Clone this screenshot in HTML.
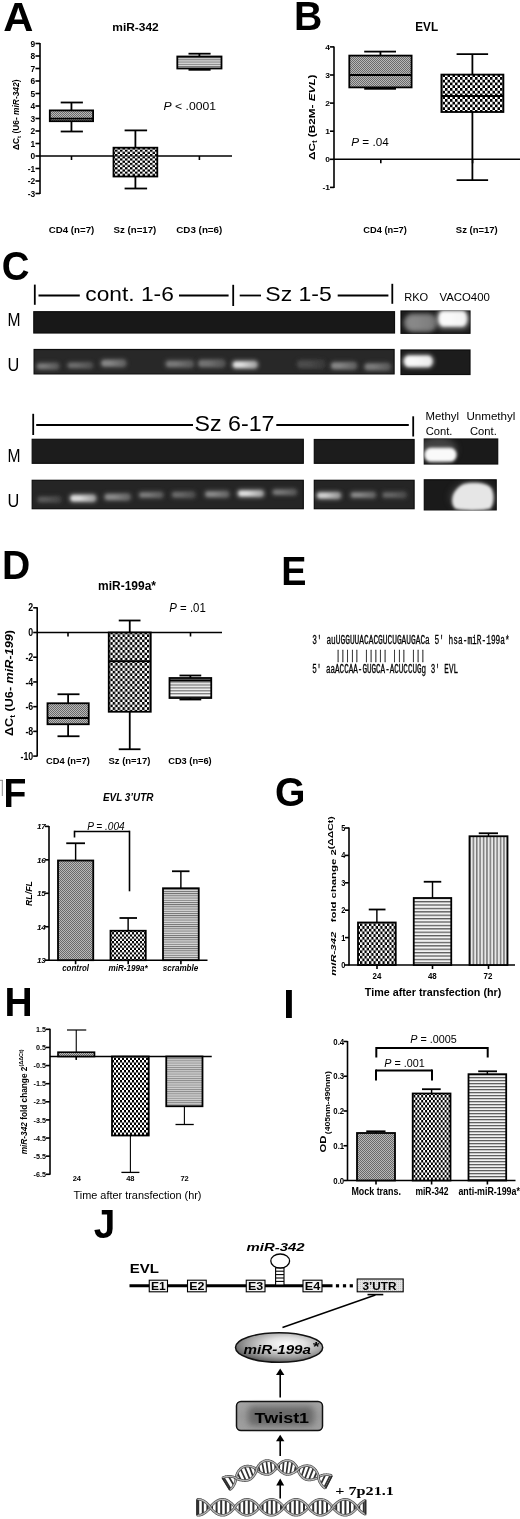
<!DOCTYPE html>
<html><head><meta charset="utf-8"><title>Figure</title>
<style>
html,body{margin:0;padding:0;background:#fff;}
body{width:520px;height:1519px;overflow:hidden;font-family:"Liberation Sans", sans-serif;}
svg{display:block;filter:blur(0.4px);}
</style></head><body>
<svg width="520" height="1519" viewBox="0 0 520 1519">

<defs>
<pattern id="pGray" width="2" height="2" patternUnits="userSpaceOnUse">
  <rect width="2" height="2" fill="#b8b8b8"/><rect width="1" height="1" fill="#6a6a6a"/><rect x="1" y="1" width="1" height="1" fill="#6a6a6a"/>
</pattern>
<pattern id="pChk" width="2.6" height="2.6" patternUnits="userSpaceOnUse">
  <rect width="2.6" height="2.6" fill="#fff"/><rect width="1.3" height="1.3" fill="#000"/><rect x="1.3" y="1.3" width="1.3" height="1.3" fill="#000"/>
</pattern>
<pattern id="pChkA" width="5.0" height="4.4" patternUnits="userSpaceOnUse">
  <rect width="5.0" height="4.4" fill="#fff"/><rect width="2.5" height="2.2" fill="#000"/><rect x="2.5" y="2.2" width="2.5" height="2.2" fill="#000"/>
</pattern>
<pattern id="pChkB" width="5.0" height="5.5" patternUnits="userSpaceOnUse">
  <rect width="5.0" height="5.5" fill="#fff"/><rect width="2.5" height="2.75" fill="#000"/><rect x="2.5" y="2.75" width="2.5" height="2.75" fill="#000"/>
</pattern>
<pattern id="pChkD" width="4.9" height="5.2" patternUnits="userSpaceOnUse">
  <rect width="4.9" height="5.2" fill="#fff"/><rect width="2.45" height="2.6" fill="#000"/><rect x="2.45" y="2.6" width="2.45" height="2.6" fill="#000"/>
</pattern>
<pattern id="pChkF" width="4.0" height="4.46" patternUnits="userSpaceOnUse">
  <rect width="4.0" height="4.46" fill="#fff"/><rect width="2.0" height="2.23" fill="#000"/><rect x="2.0" y="2.23" width="2.0" height="2.23" fill="#000"/>
</pattern>
<pattern id="pChkG" width="4.5" height="5.4" patternUnits="userSpaceOnUse">
  <rect width="4.5" height="5.4" fill="#fff"/><rect width="2.25" height="2.7" fill="#000"/><rect x="2.25" y="2.7" width="2.25" height="2.7" fill="#000"/>
</pattern>
<pattern id="pChkH" width="4.0" height="5.0" patternUnits="userSpaceOnUse">
  <rect width="4.0" height="5.0" fill="#fff"/><rect width="2.0" height="2.5" fill="#000"/><rect x="2.0" y="2.5" width="2.0" height="2.5" fill="#000"/>
</pattern>
<pattern id="pChkI" width="3.9" height="5.0" patternUnits="userSpaceOnUse">
  <rect width="3.9" height="5.0" fill="#fff"/><rect width="1.95" height="2.5" fill="#000"/><rect x="1.95" y="2.5" width="1.95" height="2.5" fill="#000"/>
</pattern>
<pattern id="pHl" width="4" height="2.2" patternUnits="userSpaceOnUse">
  <rect width="4" height="2.2" fill="#dadada"/><rect width="4" height="0.9" fill="#6a6a6a"/>
</pattern>
<pattern id="pHlH" width="4" height="2.2" patternUnits="userSpaceOnUse">
  <rect width="4" height="2.2" fill="#d0d0d0"/><rect width="4" height="0.9" fill="#888"/>
</pattern>
<pattern id="pHlG" width="4" height="3.4" patternUnits="userSpaceOnUse">
  <rect width="4" height="3.4" fill="#f2f2f2"/><rect width="4" height="1.3" fill="#5a5a5a"/>
</pattern>
<pattern id="pHlI" width="4" height="3.0" patternUnits="userSpaceOnUse">
  <rect width="4" height="3.0" fill="#f2f2f2"/><rect width="4" height="1.3" fill="#606060"/>
</pattern>
<pattern id="pHlD" width="4" height="2.9" patternUnits="userSpaceOnUse">
  <rect width="4" height="2.9" fill="#f6f6f6"/><rect width="4" height="1.3" fill="#777"/>
</pattern>
<pattern id="pVl" width="3.4" height="4" patternUnits="userSpaceOnUse">
  <rect width="3.4" height="4" fill="#e8e8e8"/><rect width="1.5" height="4" fill="#7a7a7a"/>
</pattern>
<pattern id="pUtr" width="2" height="2" patternUnits="userSpaceOnUse">
  <rect width="2" height="2" fill="#e4e4e4"/><rect width="1" height="1" fill="#c8c8c8"/>
</pattern>
<filter id="bl1" x="-30%" y="-60%" width="160%" height="220%"><feGaussianBlur stdDeviation="1.35"/></filter>
<filter id="bl2" x="-30%" y="-60%" width="160%" height="220%"><feGaussianBlur stdDeviation="2"/></filter>
<filter id="bl3" x="-50%" y="-80%" width="200%" height="260%"><feGaussianBlur stdDeviation="3"/></filter>
<radialGradient id="gEll" cx="0.58" cy="0.38" r="0.62">
  <stop offset="0" stop-color="#fbfbfb"/><stop offset="0.35" stop-color="#e0e0e0"/><stop offset="0.75" stop-color="#9a9a9a"/><stop offset="1" stop-color="#606060"/>
</radialGradient>
<linearGradient id="gTw" x1="0" y1="0" x2="0" y2="1">
  <stop offset="0" stop-color="#a4a4a4"/><stop offset="0.5" stop-color="#9a9a9a"/><stop offset="1" stop-color="#a0a0a0"/>
</linearGradient>
</defs>

<rect width="520" height="1519" fill="#fff"/>
<text transform="translate(3.16 31.20) scale(1.015 1)" font-family='"Liberation Sans", sans-serif' font-size="41.13" font-weight="bold">A</text>
<text x="135.5" y="30.8" font-family='"Liberation Sans", sans-serif' font-size="11.5" font-weight="bold" font-style="normal" text-anchor="middle" fill="#000" textLength="46.5" lengthAdjust="spacingAndGlyphs">miR-342</text>
<line x1="40" y1="43.0" x2="40" y2="194.0" stroke="#000" stroke-width="1.6"/>
<line x1="35.5" y1="43.5" x2="40" y2="43.5" stroke="#000" stroke-width="1.6"/>
<text x="35.2" y="46.524" font-family='"Liberation Sans", sans-serif' font-size="8.4" font-weight="bold" font-style="normal" text-anchor="end" fill="#000">9</text>
<line x1="35.5" y1="56.0" x2="40" y2="56.0" stroke="#000" stroke-width="1.6"/>
<text x="35.2" y="59.024" font-family='"Liberation Sans", sans-serif' font-size="8.4" font-weight="bold" font-style="normal" text-anchor="end" fill="#000">8</text>
<line x1="35.5" y1="68.5" x2="40" y2="68.5" stroke="#000" stroke-width="1.6"/>
<text x="35.2" y="71.524" font-family='"Liberation Sans", sans-serif' font-size="8.4" font-weight="bold" font-style="normal" text-anchor="end" fill="#000">7</text>
<line x1="35.5" y1="81.0" x2="40" y2="81.0" stroke="#000" stroke-width="1.6"/>
<text x="35.2" y="84.024" font-family='"Liberation Sans", sans-serif' font-size="8.4" font-weight="bold" font-style="normal" text-anchor="end" fill="#000">6</text>
<line x1="35.5" y1="93.5" x2="40" y2="93.5" stroke="#000" stroke-width="1.6"/>
<text x="35.2" y="96.524" font-family='"Liberation Sans", sans-serif' font-size="8.4" font-weight="bold" font-style="normal" text-anchor="end" fill="#000">5</text>
<line x1="35.5" y1="106.0" x2="40" y2="106.0" stroke="#000" stroke-width="1.6"/>
<text x="35.2" y="109.024" font-family='"Liberation Sans", sans-serif' font-size="8.4" font-weight="bold" font-style="normal" text-anchor="end" fill="#000">4</text>
<line x1="35.5" y1="118.5" x2="40" y2="118.5" stroke="#000" stroke-width="1.6"/>
<text x="35.2" y="121.524" font-family='"Liberation Sans", sans-serif' font-size="8.4" font-weight="bold" font-style="normal" text-anchor="end" fill="#000">3</text>
<line x1="35.5" y1="131.0" x2="40" y2="131.0" stroke="#000" stroke-width="1.6"/>
<text x="35.2" y="134.024" font-family='"Liberation Sans", sans-serif' font-size="8.4" font-weight="bold" font-style="normal" text-anchor="end" fill="#000">2</text>
<line x1="35.5" y1="143.5" x2="40" y2="143.5" stroke="#000" stroke-width="1.6"/>
<text x="35.2" y="146.524" font-family='"Liberation Sans", sans-serif' font-size="8.4" font-weight="bold" font-style="normal" text-anchor="end" fill="#000">1</text>
<line x1="35.5" y1="156.0" x2="40" y2="156.0" stroke="#000" stroke-width="1.6"/>
<text x="35.2" y="159.024" font-family='"Liberation Sans", sans-serif' font-size="8.4" font-weight="bold" font-style="normal" text-anchor="end" fill="#000">0</text>
<line x1="35.5" y1="168.5" x2="40" y2="168.5" stroke="#000" stroke-width="1.6"/>
<text x="35.2" y="171.524" font-family='"Liberation Sans", sans-serif' font-size="8.4" font-weight="bold" font-style="normal" text-anchor="end" fill="#000">-1</text>
<line x1="35.5" y1="181.0" x2="40" y2="181.0" stroke="#000" stroke-width="1.6"/>
<text x="35.2" y="184.024" font-family='"Liberation Sans", sans-serif' font-size="8.4" font-weight="bold" font-style="normal" text-anchor="end" fill="#000">-2</text>
<line x1="35.5" y1="193.5" x2="40" y2="193.5" stroke="#000" stroke-width="1.6"/>
<text x="35.2" y="196.524" font-family='"Liberation Sans", sans-serif' font-size="8.4" font-weight="bold" font-style="normal" text-anchor="end" fill="#000">-3</text>
<line x1="40" y1="156.0" x2="232" y2="156.0" stroke="#000" stroke-width="1.6"/>
<line x1="71.5" y1="156.0" x2="71.5" y2="160.0" stroke="#000" stroke-width="1.6"/>
<line x1="135.8" y1="156.0" x2="135.8" y2="160.0" stroke="#000" stroke-width="1.6"/>
<line x1="199.4" y1="156.0" x2="199.4" y2="160.0" stroke="#000" stroke-width="1.6"/>
<line x1="71.44999999999999" y1="102.5" x2="71.44999999999999" y2="110.4" stroke="#000" stroke-width="1.8"/>
<line x1="71.44999999999999" y1="121.2" x2="71.44999999999999" y2="131.5" stroke="#000" stroke-width="1.8"/>
<line x1="60.7" y1="102.5" x2="82.9" y2="102.5" stroke="#000" stroke-width="1.8"/>
<line x1="60.7" y1="131.5" x2="82.9" y2="131.5" stroke="#000" stroke-width="1.8"/>
<rect x="49.8" y="110.4" width="43.3" height="10.799999999999997" fill="url(#pGray)" stroke="#000" stroke-width="1.8"/>
<line x1="49.8" y1="118.6" x2="93.1" y2="118.6" stroke="#000" stroke-width="1.8"/>
<line x1="135.4" y1="130.4" x2="135.4" y2="147.7" stroke="#000" stroke-width="1.8"/>
<line x1="135.4" y1="176.5" x2="135.4" y2="188.5" stroke="#000" stroke-width="1.8"/>
<line x1="124.6" y1="130.4" x2="147.1" y2="130.4" stroke="#000" stroke-width="1.8"/>
<line x1="124.6" y1="188.5" x2="147.1" y2="188.5" stroke="#000" stroke-width="1.8"/>
<rect x="113.5" y="147.7" width="43.80000000000001" height="28.80000000000001" fill="url(#pChkA)" stroke="#000" stroke-width="1.8"/>
<line x1="114" y1="156.0" x2="157" y2="156.0" stroke="#000" stroke-width="1.0" opacity="0.6"/>
<line x1="199.4" y1="53.7" x2="199.4" y2="56.5" stroke="#000" stroke-width="1.8"/>
<line x1="199.4" y1="68.5" x2="199.4" y2="69.8" stroke="#000" stroke-width="1.8"/>
<line x1="188.5" y1="53.7" x2="210.6" y2="53.7" stroke="#000" stroke-width="1.8"/>
<line x1="188.5" y1="69.8" x2="210.6" y2="69.8" stroke="#000" stroke-width="1.8"/>
<rect x="177.3" y="56.5" width="44.19999999999999" height="12.0" fill="url(#pHl)" stroke="#000" stroke-width="1.8"/>
<text x="163.5" y="109.8" font-family='"Liberation Sans", sans-serif' font-size="10.5" font-weight="normal" font-style="normal" text-anchor="start" fill="#000" textLength="52.5" lengthAdjust="spacingAndGlyphs"><tspan font-style="italic">P</tspan> &lt; .0001</text>
<text x="48.8" y="233.4" font-family='"Liberation Sans", sans-serif' font-size="8.4" font-weight="bold" font-style="normal" text-anchor="start" fill="#000" textLength="45.5" lengthAdjust="spacingAndGlyphs">CD4 (n=7)</text>
<text x="113.5" y="233.4" font-family='"Liberation Sans", sans-serif' font-size="8.4" font-weight="bold" font-style="normal" text-anchor="start" fill="#000" textLength="42.8" lengthAdjust="spacingAndGlyphs">Sz (n=17)</text>
<text x="176.3" y="233.4" font-family='"Liberation Sans", sans-serif' font-size="8.4" font-weight="bold" font-style="normal" text-anchor="start" fill="#000" textLength="46" lengthAdjust="spacingAndGlyphs">CD3 (n=6)</text>
<text x="19.2" y="150" font-family='"Liberation Sans", sans-serif' font-size="8.6" font-weight="bold" font-style="normal" text-anchor="start" fill="#000" textLength="70.5" lengthAdjust="spacingAndGlyphs" transform="rotate(-90 19.2 150)">&#916;C<tspan font-size="6" dy="2">t</tspan><tspan dy="-2"> (U6- </tspan><tspan font-style="italic">miR-342</tspan>)</text>
<text transform="translate(293.88 29.80) scale(0.953 1)" font-family='"Liberation Sans", sans-serif' font-size="41.13" font-weight="bold">B</text>
<text x="415.3" y="30.5" font-family='"Liberation Sans", sans-serif' font-size="12" font-weight="bold" font-style="normal" text-anchor="start" fill="#000" textLength="22.8" lengthAdjust="spacingAndGlyphs">EVL</text>
<line x1="334" y1="46.400000000000006" x2="334" y2="187.9" stroke="#000" stroke-width="1.6"/>
<line x1="330" y1="46.900000000000006" x2="334" y2="46.900000000000006" stroke="#000" stroke-width="1.6"/>
<text x="330" y="49.636" font-family='"Liberation Sans", sans-serif' font-size="7.6" font-weight="bold" font-style="normal" text-anchor="end" fill="#000" textLength="4.73" lengthAdjust="spacingAndGlyphs">4</text>
<line x1="330" y1="75.0" x2="334" y2="75.0" stroke="#000" stroke-width="1.6"/>
<text x="330" y="77.736" font-family='"Liberation Sans", sans-serif' font-size="7.6" font-weight="bold" font-style="normal" text-anchor="end" fill="#000" textLength="4.73" lengthAdjust="spacingAndGlyphs">3</text>
<line x1="330" y1="103.10000000000001" x2="334" y2="103.10000000000001" stroke="#000" stroke-width="1.6"/>
<text x="330" y="105.83600000000001" font-family='"Liberation Sans", sans-serif' font-size="7.6" font-weight="bold" font-style="normal" text-anchor="end" fill="#000" textLength="4.73" lengthAdjust="spacingAndGlyphs">2</text>
<line x1="330" y1="131.20000000000002" x2="334" y2="131.20000000000002" stroke="#000" stroke-width="1.6"/>
<text x="330" y="133.936" font-family='"Liberation Sans", sans-serif' font-size="7.6" font-weight="bold" font-style="normal" text-anchor="end" fill="#000" textLength="4.73" lengthAdjust="spacingAndGlyphs">1</text>
<line x1="330" y1="159.3" x2="334" y2="159.3" stroke="#000" stroke-width="1.6"/>
<text x="330" y="162.036" font-family='"Liberation Sans", sans-serif' font-size="7.6" font-weight="bold" font-style="normal" text-anchor="end" fill="#000" textLength="4.73" lengthAdjust="spacingAndGlyphs">0</text>
<line x1="330" y1="187.4" x2="334" y2="187.4" stroke="#000" stroke-width="1.6"/>
<text x="330" y="190.136" font-family='"Liberation Sans", sans-serif' font-size="7.6" font-weight="bold" font-style="normal" text-anchor="end" fill="#000" textLength="7.57" lengthAdjust="spacingAndGlyphs">-1</text>
<line x1="334" y1="159.3" x2="520" y2="159.3" stroke="#000" stroke-width="1.6"/>
<line x1="380.8" y1="159.3" x2="380.8" y2="163.3" stroke="#000" stroke-width="1.6"/>
<line x1="472.6" y1="159.3" x2="472.6" y2="163.3" stroke="#000" stroke-width="1.6"/>
<line x1="380.45000000000005" y1="51.6" x2="380.45000000000005" y2="55.6" stroke="#000" stroke-width="1.8"/>
<line x1="380.45000000000005" y1="87.4" x2="380.45000000000005" y2="88.8" stroke="#000" stroke-width="1.8"/>
<line x1="364.2" y1="51.6" x2="396" y2="51.6" stroke="#000" stroke-width="1.8"/>
<line x1="364.2" y1="88.8" x2="396" y2="88.8" stroke="#000" stroke-width="1.8"/>
<rect x="349.3" y="55.6" width="62.30000000000001" height="31.800000000000004" fill="url(#pGray)" stroke="#000" stroke-width="1.8"/>
<line x1="349.3" y1="75" x2="411.6" y2="75" stroke="#000" stroke-width="1.8"/>
<line x1="472.4" y1="54.2" x2="472.4" y2="74.6" stroke="#000" stroke-width="1.8"/>
<line x1="472.4" y1="112" x2="472.4" y2="180.2" stroke="#000" stroke-width="1.8"/>
<line x1="456.6" y1="54.2" x2="488.1" y2="54.2" stroke="#000" stroke-width="1.8"/>
<line x1="456.6" y1="180.2" x2="488.1" y2="180.2" stroke="#000" stroke-width="1.8"/>
<rect x="441.4" y="74.6" width="62.0" height="37.400000000000006" fill="url(#pChkB)" stroke="#000" stroke-width="1.8"/>
<line x1="441.4" y1="96" x2="503.4" y2="96" stroke="#000" stroke-width="1.8"/>
<text x="351.2" y="146.3" font-family='"Liberation Sans", sans-serif' font-size="11.2" font-weight="normal" font-style="normal" text-anchor="start" fill="#000" textLength="37.5" lengthAdjust="spacingAndGlyphs"><tspan font-style="italic">P</tspan> = .04</text>
<text x="363.3" y="233" font-family='"Liberation Sans", sans-serif' font-size="8.4" font-weight="bold" font-style="normal" text-anchor="start" fill="#000" textLength="43.5" lengthAdjust="spacingAndGlyphs">CD4 (n=7)</text>
<text x="455.8" y="233" font-family='"Liberation Sans", sans-serif' font-size="8.4" font-weight="bold" font-style="normal" text-anchor="start" fill="#000" textLength="42" lengthAdjust="spacingAndGlyphs">Sz (n=17)</text>
<text x="315" y="160" font-family='"Liberation Sans", sans-serif' font-size="9.5" font-weight="bold" font-style="normal" text-anchor="start" fill="#000" textLength="85.5" lengthAdjust="spacingAndGlyphs" transform="rotate(-90 315 160)">&#916;C<tspan font-size="6.5" dy="2">t</tspan><tspan dy="-2"> (B2M- </tspan><tspan font-style="italic">EVL</tspan>)</text>
<text transform="translate(1.63 280.30) scale(0.931 1)" font-family='"Liberation Sans", sans-serif' font-size="41.24" font-weight="bold">C</text>
<line x1="34.8" y1="284.6" x2="34.8" y2="304.8" stroke="#000" stroke-width="1.8"/>
<line x1="38.5" y1="295.5" x2="79.8" y2="295.5" stroke="#000" stroke-width="1.8"/>
<text x="85.3" y="301.1" font-family='"Liberation Sans", sans-serif' font-size="21" font-weight="normal" font-style="normal" text-anchor="start" fill="#000" textLength="88.5" lengthAdjust="spacingAndGlyphs">cont. 1-6</text>
<line x1="179" y1="295.5" x2="228.6" y2="295.5" stroke="#000" stroke-width="1.8"/>
<line x1="233.2" y1="284.8" x2="233.2" y2="306" stroke="#000" stroke-width="1.8"/>
<line x1="239.7" y1="295.5" x2="261" y2="295.5" stroke="#000" stroke-width="1.8"/>
<text x="265.3" y="301.1" font-family='"Liberation Sans", sans-serif' font-size="21" font-weight="normal" font-style="normal" text-anchor="start" fill="#000" textLength="66.5" lengthAdjust="spacingAndGlyphs">Sz 1-5</text>
<line x1="337.7" y1="295.5" x2="388.4" y2="295.5" stroke="#000" stroke-width="1.8"/>
<line x1="392.3" y1="283.8" x2="392.3" y2="303.8" stroke="#000" stroke-width="1.8"/>
<text x="7.6" y="325.5" font-family='"Liberation Sans", sans-serif' font-size="17.5" font-weight="normal" font-style="normal" text-anchor="start" fill="#000" textLength="13" lengthAdjust="spacingAndGlyphs">M</text>
<text x="7.4" y="370.6" font-family='"Liberation Sans", sans-serif' font-size="18.5" font-weight="normal" font-style="normal" text-anchor="start" fill="#000" textLength="11.8" lengthAdjust="spacingAndGlyphs">U</text>
<rect x="33.8" y="311.7" width="360.7" height="21.3" fill="#181818" stroke="#0e0e0e" stroke-width="1.2"/>
<clipPath id="gc1"><rect x="33.3" y="311.2" width="361.7" height="22.3"/></clipPath><g clip-path="url(#gc1)">
</g>
<rect x="34.1" y="349.5" width="360.0" height="24.4" fill="#282828" stroke="#0e0e0e" stroke-width="1.2"/>
<clipPath id="gc2"><rect x="33.6" y="349.0" width="361.0" height="25.4"/></clipPath><g clip-path="url(#gc2)">
<rect x="35.7" y="362.3" width="24.099999999999994" height="7.699999999999989" rx="3.8499999999999943" ry="3.8499999999999943" fill="#7a7a7a" opacity="0.55" filter="url(#bl2)"/>
<linearGradient id="bg107" x1="0" y1="0" x2="1" y2="0"><stop offset="0" stop-color="#7a7a7a"/><stop offset="0.35" stop-color="#7a7a7a"/><stop offset="1" stop-color="#575757"/></linearGradient>
<rect x="37.7" y="363.90000000000003" width="20.099999999999994" height="4.4999999999999885" rx="1.8499999999999943" ry="2.2499999999999942" fill="url(#bg107)" filter="url(#bl1)"/>
<rect x="66.5" y="361.7" width="27.0" height="7.300000000000011" rx="3.6500000000000057" ry="3.6500000000000057" fill="#6e6e6e" opacity="0.55" filter="url(#bl2)"/>
<linearGradient id="bg110" x1="0" y1="0" x2="1" y2="0"><stop offset="0" stop-color="#6e6e6e"/><stop offset="0.35" stop-color="#6e6e6e"/><stop offset="1" stop-color="#4f4f4f"/></linearGradient>
<rect x="68.5" y="363.3" width="23.0" height="4.100000000000011" rx="1.6500000000000057" ry="2.0500000000000056" fill="url(#bg110)" filter="url(#bl1)"/>
<rect x="100" y="359" width="27" height="8.5" rx="4.25" ry="4.25" fill="#858585" opacity="0.55" filter="url(#bl2)"/>
<linearGradient id="bg113" x1="0" y1="0" x2="1" y2="0"><stop offset="0" stop-color="#858585"/><stop offset="0.35" stop-color="#858585"/><stop offset="1" stop-color="#5f5f5f"/></linearGradient>
<rect x="102" y="360.6" width="23" height="5.3" rx="2.25" ry="2.65" fill="url(#bg113)" filter="url(#bl1)"/>
<rect x="164.6" y="359.8" width="29.900000000000006" height="8.199999999999989" rx="4.099999999999994" ry="4.099999999999994" fill="#7a7a7a" opacity="0.55" filter="url(#bl2)"/>
<linearGradient id="bg116" x1="0" y1="0" x2="1" y2="0"><stop offset="0" stop-color="#7a7a7a"/><stop offset="0.35" stop-color="#7a7a7a"/><stop offset="1" stop-color="#575757"/></linearGradient>
<rect x="166.6" y="361.40000000000003" width="25.900000000000006" height="4.9999999999999885" rx="2.0999999999999943" ry="2.4999999999999942" fill="url(#bg116)" filter="url(#bl1)"/>
<rect x="197" y="359" width="29" height="9" rx="4.5" ry="4.5" fill="#727272" opacity="0.55" filter="url(#bl2)"/>
<linearGradient id="bg119" x1="0" y1="0" x2="1" y2="0"><stop offset="0" stop-color="#727272"/><stop offset="0.35" stop-color="#727272"/><stop offset="1" stop-color="#525252"/></linearGradient>
<rect x="199" y="360.6" width="25" height="5.8" rx="2.5" ry="2.9" fill="url(#bg119)" filter="url(#bl1)"/>
<rect x="231.5" y="360.3" width="27.0" height="8.699999999999989" rx="4.349999999999994" ry="4.349999999999994" fill="#e0e0e0" opacity="0.55" filter="url(#bl2)"/>
<linearGradient id="bg122" x1="0" y1="0" x2="1" y2="0"><stop offset="0" stop-color="#e0e0e0"/><stop offset="0.35" stop-color="#e0e0e0"/><stop offset="1" stop-color="#a1a1a1"/></linearGradient>
<rect x="233.5" y="361.90000000000003" width="23.0" height="5.4999999999999885" rx="2.3499999999999943" ry="2.7499999999999942" fill="url(#bg122)" filter="url(#bl1)"/>
<rect x="296" y="359.5" width="30" height="9.5" rx="4.75" ry="4.75" fill="#4c4c4c" opacity="0.55" filter="url(#bl2)"/>
<linearGradient id="bg125" x1="0" y1="0" x2="1" y2="0"><stop offset="0" stop-color="#4c4c4c"/><stop offset="0.35" stop-color="#4c4c4c"/><stop offset="1" stop-color="#363636"/></linearGradient>
<rect x="298" y="361.1" width="26" height="6.3" rx="2.75" ry="3.15" fill="url(#bg125)" filter="url(#bl1)"/>
<rect x="329.8" y="361.5" width="27.899999999999977" height="8.5" rx="4.25" ry="4.25" fill="#858585" opacity="0.55" filter="url(#bl2)"/>
<linearGradient id="bg128" x1="0" y1="0" x2="1" y2="0"><stop offset="0" stop-color="#858585"/><stop offset="0.35" stop-color="#858585"/><stop offset="1" stop-color="#5f5f5f"/></linearGradient>
<rect x="331.8" y="363.1" width="23.899999999999977" height="5.3" rx="2.25" ry="2.65" fill="url(#bg128)" filter="url(#bl1)"/>
<rect x="363.4" y="362.5" width="28.0" height="8.5" rx="4.25" ry="4.25" fill="#7a7a7a" opacity="0.55" filter="url(#bl2)"/>
<linearGradient id="bg131" x1="0" y1="0" x2="1" y2="0"><stop offset="0" stop-color="#7a7a7a"/><stop offset="0.35" stop-color="#7a7a7a"/><stop offset="1" stop-color="#575757"/></linearGradient>
<rect x="365.4" y="364.1" width="24.0" height="5.3" rx="2.25" ry="2.65" fill="url(#bg131)" filter="url(#bl1)"/>
</g>
<rect x="401.0" y="311.0" width="69" height="22.3" fill="#1c1c1c" stroke="#0e0e0e" stroke-width="1.2"/>
<clipPath id="gc3"><rect x="400.5" y="310.5" width="70" height="23.3"/></clipPath><g clip-path="url(#gc3)">
<rect x="403.5" y="313.5" width="34.0" height="18.5" rx="9.25" ry="9.25" fill="#888" opacity="0.55" filter="url(#bl2)"/>
<linearGradient id="bg137" x1="0" y1="0" x2="1" y2="0"><stop offset="0" stop-color="#888"/><stop offset="0.35" stop-color="#888"/><stop offset="1" stop-color="#7a7a7a"/></linearGradient>
<rect x="405.5" y="315.1" width="30.0" height="15.3" rx="7.25" ry="7.65" fill="url(#bg137)" filter="url(#bl2)"/>
<rect x="436" y="309" width="33" height="21" rx="6" fill="#666" opacity="0.6" filter="url(#bl3)"/>
<rect x="437" y="309.8" width="31.5" height="17.69999999999999" rx="6" ry="8.849999999999994" fill="#fafafa" opacity="0.55" filter="url(#bl2)"/>
<linearGradient id="bg141" x1="0" y1="0" x2="1" y2="0"><stop offset="0" stop-color="#fafafa"/><stop offset="0.35" stop-color="#fafafa"/><stop offset="1" stop-color="#f2f2f2"/></linearGradient>
<rect x="439" y="311.40000000000003" width="27.5" height="14.49999999999999" rx="4" ry="7.249999999999995" fill="url(#bg141)" filter="url(#bl1)"/>
</g>
<rect x="401.0" y="350.0" width="69" height="24.5" fill="#1c1c1c" stroke="#0e0e0e" stroke-width="1.2"/>
<clipPath id="gc4"><rect x="400.5" y="349.5" width="70" height="25.5"/></clipPath><g clip-path="url(#gc4)">
<rect x="402.5" y="354.5" width="31.5" height="13.5" rx="6" ry="6.75" fill="#f8f8f8" opacity="0.55" filter="url(#bl2)"/>
<linearGradient id="bg147" x1="0" y1="0" x2="1" y2="0"><stop offset="0" stop-color="#f8f8f8"/><stop offset="0.35" stop-color="#f8f8f8"/><stop offset="1" stop-color="#ebebeb"/></linearGradient>
<rect x="404.5" y="356.1" width="27.5" height="10.3" rx="4" ry="5.15" fill="url(#bg147)" filter="url(#bl1)"/>
</g>
<text x="404.2" y="301.3" font-family='"Liberation Sans", sans-serif' font-size="11.3" font-weight="normal" font-style="normal" text-anchor="start" fill="#000" textLength="24" lengthAdjust="spacingAndGlyphs">RKO</text>
<text x="439.4" y="301.3" font-family='"Liberation Sans", sans-serif' font-size="11.3" font-weight="normal" font-style="normal" text-anchor="start" fill="#000" textLength="50.5" lengthAdjust="spacingAndGlyphs">VACO400</text>
<line x1="33.2" y1="413.8" x2="33.2" y2="435" stroke="#000" stroke-width="1.8"/>
<line x1="36.2" y1="425" x2="193" y2="425" stroke="#000" stroke-width="1.8"/>
<text x="194.5" y="430.8" font-family='"Liberation Sans", sans-serif' font-size="22.5" font-weight="normal" font-style="normal" text-anchor="start" fill="#000" textLength="80" lengthAdjust="spacingAndGlyphs">Sz 6-17</text>
<line x1="276.3" y1="425" x2="408.8" y2="425" stroke="#000" stroke-width="1.8"/>
<line x1="413.2" y1="416.3" x2="413.2" y2="436.5" stroke="#000" stroke-width="1.8"/>
<text x="7.6" y="462.3" font-family='"Liberation Sans", sans-serif' font-size="17.5" font-weight="normal" font-style="normal" text-anchor="start" fill="#000" textLength="13" lengthAdjust="spacingAndGlyphs">M</text>
<text x="7.6" y="506.6" font-family='"Liberation Sans", sans-serif' font-size="18.5" font-weight="normal" font-style="normal" text-anchor="start" fill="#000" textLength="11.8" lengthAdjust="spacingAndGlyphs">U</text>
<rect x="32.2" y="439.3" width="271.1" height="24" fill="#1c1c1c" stroke="#0e0e0e" stroke-width="1.2"/>
<clipPath id="gc5"><rect x="31.7" y="438.8" width="272.1" height="25"/></clipPath><g clip-path="url(#gc5)">
</g>
<rect x="314.3" y="439.5" width="99.8" height="23.8" fill="#1c1c1c" stroke="#0e0e0e" stroke-width="1.2"/>
<clipPath id="gc6"><rect x="313.8" y="439.0" width="100.8" height="24.8"/></clipPath><g clip-path="url(#gc6)">
</g>
<rect x="32.2" y="480.3" width="271.1" height="28.4" fill="#252525" stroke="#0e0e0e" stroke-width="1.2"/>
<clipPath id="gc7"><rect x="31.7" y="479.8" width="272.1" height="29.4"/></clipPath><g clip-path="url(#gc7)">
<rect x="36.5" y="496" width="25.1" height="7" rx="3.5" ry="3.5" fill="#5c5c5c" opacity="0.55" filter="url(#bl2)"/>
<linearGradient id="bg168" x1="0" y1="0" x2="1" y2="0"><stop offset="0" stop-color="#5c5c5c"/><stop offset="0.35" stop-color="#5c5c5c"/><stop offset="1" stop-color="#424242"/></linearGradient>
<rect x="38.5" y="497.6" width="21.1" height="3.8" rx="1.5" ry="1.9" fill="url(#bg168)" filter="url(#bl1)"/>
<rect x="69" y="494" width="28" height="8.5" rx="4.25" ry="4.25" fill="#dcdcdc" opacity="0.55" filter="url(#bl2)"/>
<linearGradient id="bg171" x1="0" y1="0" x2="1" y2="0"><stop offset="0" stop-color="#dcdcdc"/><stop offset="0.35" stop-color="#dcdcdc"/><stop offset="1" stop-color="#9e9e9e"/></linearGradient>
<rect x="71" y="495.6" width="24" height="5.3" rx="2.25" ry="2.65" fill="url(#bg171)" filter="url(#bl1)"/>
<rect x="103.4" y="493" width="28.0" height="8" rx="4.0" ry="4.0" fill="#8a8a8a" opacity="0.55" filter="url(#bl2)"/>
<linearGradient id="bg174" x1="0" y1="0" x2="1" y2="0"><stop offset="0" stop-color="#8a8a8a"/><stop offset="0.35" stop-color="#8a8a8a"/><stop offset="1" stop-color="#636363"/></linearGradient>
<rect x="105.4" y="494.6" width="24.0" height="4.8" rx="2.0" ry="2.4" fill="url(#bg174)" filter="url(#bl1)"/>
<rect x="138" y="491.3" width="26" height="7.199999999999989" rx="3.5999999999999943" ry="3.5999999999999943" fill="#7e7e7e" opacity="0.55" filter="url(#bl2)"/>
<linearGradient id="bg177" x1="0" y1="0" x2="1" y2="0"><stop offset="0" stop-color="#7e7e7e"/><stop offset="0.35" stop-color="#7e7e7e"/><stop offset="1" stop-color="#5a5a5a"/></linearGradient>
<rect x="140" y="492.90000000000003" width="22" height="3.9999999999999885" rx="1.5999999999999943" ry="1.9999999999999942" fill="url(#bg177)" filter="url(#bl1)"/>
<rect x="170.7" y="491" width="25.30000000000001" height="7.5" rx="3.75" ry="3.75" fill="#6a6a6a" opacity="0.55" filter="url(#bl2)"/>
<linearGradient id="bg180" x1="0" y1="0" x2="1" y2="0"><stop offset="0" stop-color="#6a6a6a"/><stop offset="0.35" stop-color="#6a6a6a"/><stop offset="1" stop-color="#4c4c4c"/></linearGradient>
<rect x="172.7" y="492.6" width="21.30000000000001" height="4.3" rx="1.75" ry="2.15" fill="url(#bg180)" filter="url(#bl1)"/>
<rect x="204" y="490.3" width="26" height="7.699999999999989" rx="3.8499999999999943" ry="3.8499999999999943" fill="#8a8a8a" opacity="0.55" filter="url(#bl2)"/>
<linearGradient id="bg183" x1="0" y1="0" x2="1" y2="0"><stop offset="0" stop-color="#8a8a8a"/><stop offset="0.35" stop-color="#8a8a8a"/><stop offset="1" stop-color="#636363"/></linearGradient>
<rect x="206" y="491.90000000000003" width="22" height="4.4999999999999885" rx="1.8499999999999943" ry="2.2499999999999942" fill="url(#bg183)" filter="url(#bl1)"/>
<rect x="236.7" y="489.4" width="28.0" height="8.100000000000023" rx="4.050000000000011" ry="4.050000000000011" fill="#e0e0e0" opacity="0.55" filter="url(#bl2)"/>
<linearGradient id="bg186" x1="0" y1="0" x2="1" y2="0"><stop offset="0" stop-color="#e0e0e0"/><stop offset="0.35" stop-color="#e0e0e0"/><stop offset="1" stop-color="#a1a1a1"/></linearGradient>
<rect x="238.7" y="491.0" width="24.0" height="4.900000000000023" rx="2.0500000000000114" ry="2.4500000000000113" fill="url(#bg186)" filter="url(#bl1)"/>
<rect x="271.5" y="488.6" width="26.0" height="7.199999999999989" rx="3.5999999999999943" ry="3.5999999999999943" fill="#7a7a7a" opacity="0.55" filter="url(#bl2)"/>
<linearGradient id="bg189" x1="0" y1="0" x2="1" y2="0"><stop offset="0" stop-color="#7a7a7a"/><stop offset="0.35" stop-color="#7a7a7a"/><stop offset="1" stop-color="#575757"/></linearGradient>
<rect x="273.5" y="490.20000000000005" width="22.0" height="3.9999999999999885" rx="1.5999999999999943" ry="1.9999999999999942" fill="url(#bg189)" filter="url(#bl1)"/>
</g>
<rect x="314.3" y="480.3" width="99.8" height="28.4" fill="#252525" stroke="#0e0e0e" stroke-width="1.2"/>
<clipPath id="gc8"><rect x="313.8" y="479.8" width="100.8" height="29.4"/></clipPath><g clip-path="url(#gc8)">
<rect x="315.7" y="491.5" width="26.100000000000023" height="8.0" rx="4.0" ry="4.0" fill="#d0d0d0" opacity="0.55" filter="url(#bl2)"/>
<linearGradient id="bg195" x1="0" y1="0" x2="1" y2="0"><stop offset="0" stop-color="#d0d0d0"/><stop offset="0.35" stop-color="#d0d0d0"/><stop offset="1" stop-color="#959595"/></linearGradient>
<rect x="317.7" y="493.1" width="22.100000000000023" height="4.8" rx="2.0" ry="2.4" fill="url(#bg195)" filter="url(#bl1)"/>
<rect x="349.6" y="491.3" width="27.0" height="7.199999999999989" rx="3.5999999999999943" ry="3.5999999999999943" fill="#8a8a8a" opacity="0.55" filter="url(#bl2)"/>
<linearGradient id="bg198" x1="0" y1="0" x2="1" y2="0"><stop offset="0" stop-color="#8a8a8a"/><stop offset="0.35" stop-color="#8a8a8a"/><stop offset="1" stop-color="#636363"/></linearGradient>
<rect x="351.6" y="492.90000000000003" width="23.0" height="3.9999999999999885" rx="1.5999999999999943" ry="1.9999999999999942" fill="url(#bg198)" filter="url(#bl1)"/>
<rect x="381.3" y="491.3" width="26.0" height="7.199999999999989" rx="3.5999999999999943" ry="3.5999999999999943" fill="#666" opacity="0.55" filter="url(#bl2)"/>
<linearGradient id="bg201" x1="0" y1="0" x2="1" y2="0"><stop offset="0" stop-color="#666"/><stop offset="0.35" stop-color="#666"/><stop offset="1" stop-color="#494949"/></linearGradient>
<rect x="383.3" y="492.90000000000003" width="22.0" height="3.9999999999999885" rx="1.5999999999999943" ry="1.9999999999999942" fill="url(#bg201)" filter="url(#bl1)"/>
</g>
<rect x="424.3" y="439.0" width="73.4" height="25" fill="#1a1a1a" stroke="#0e0e0e" stroke-width="1.2"/>
<clipPath id="gc9"><rect x="423.8" y="438.5" width="74.4" height="26"/></clipPath><g clip-path="url(#gc9)">
<ellipse cx="438" cy="450" rx="19" ry="13" fill="#666" opacity="0.55" filter="url(#bl3)"/>
<rect x="424.5" y="447.8" width="32" height="14" rx="6.5" fill="#fafafa" filter="url(#bl1)"/>
</g>
<rect x="424.3" y="479.8" width="71.9" height="30.1" fill="#1a1a1a" stroke="#0e0e0e" stroke-width="1.2"/>
<clipPath id="gc10"><rect x="423.8" y="479.3" width="72.9" height="31.1"/></clipPath><g clip-path="url(#gc10)">
<ellipse cx="473" cy="497" rx="24" ry="16" fill="#555" opacity="0.5" filter="url(#bl3)"/>
<path d="M 467 483.2 C 478 482, 489 483.5, 491.8 489 C 494.5 495, 494 504, 490.5 508.5 C 482 511, 462 511, 455 508.5 C 450.5 504, 451.5 495, 456 490 C 459 486, 462 484, 467 483.2 Z" fill="#e6e6e6" filter="url(#bl1)"/>
</g>
<text x="425.5" y="420.2" font-family='"Liberation Sans", sans-serif' font-size="11" font-weight="normal" font-style="normal" text-anchor="start" fill="#000" textLength="33.5" lengthAdjust="spacingAndGlyphs">Methyl</text>
<text x="425.7" y="435.0" font-family='"Liberation Sans", sans-serif' font-size="11" font-weight="normal" font-style="normal" text-anchor="start" fill="#000" textLength="26.8" lengthAdjust="spacingAndGlyphs">Cont.</text>
<text x="466.4" y="420.2" font-family='"Liberation Sans", sans-serif' font-size="11" font-weight="normal" font-style="normal" text-anchor="start" fill="#000" textLength="49" lengthAdjust="spacingAndGlyphs">Unmethyl</text>
<text x="470.0" y="435.0" font-family='"Liberation Sans", sans-serif' font-size="11" font-weight="normal" font-style="normal" text-anchor="start" fill="#000" textLength="26.8" lengthAdjust="spacingAndGlyphs">Cont.</text>
<text transform="translate(1.88 578.80) scale(0.951 1)" font-family='"Liberation Sans", sans-serif' font-size="41.13" font-weight="bold">D</text>
<text x="98" y="589.8" font-family='"Liberation Sans", sans-serif' font-size="12" font-weight="bold" font-style="normal" text-anchor="start" fill="#000" textLength="58" lengthAdjust="spacingAndGlyphs">miR-199a*</text>
<line x1="37.2" y1="607.28" x2="37.2" y2="756.6" stroke="#000" stroke-width="1.6"/>
<line x1="33.2" y1="607.78" x2="37.2" y2="607.78" stroke="#000" stroke-width="1.6"/>
<text x="33.2" y="611.44" font-family='"Liberation Sans", sans-serif' font-size="11" font-weight="bold" font-style="normal" text-anchor="end" fill="#000" textLength="4.89" lengthAdjust="spacingAndGlyphs">2</text>
<line x1="33.2" y1="632.5" x2="37.2" y2="632.5" stroke="#000" stroke-width="1.6"/>
<text x="33.2" y="636.1600000000001" font-family='"Liberation Sans", sans-serif' font-size="11" font-weight="bold" font-style="normal" text-anchor="end" fill="#000" textLength="4.89" lengthAdjust="spacingAndGlyphs">0</text>
<line x1="33.2" y1="657.22" x2="37.2" y2="657.22" stroke="#000" stroke-width="1.6"/>
<text x="33.2" y="660.8800000000001" font-family='"Liberation Sans", sans-serif' font-size="11" font-weight="bold" font-style="normal" text-anchor="end" fill="#000" textLength="7.82" lengthAdjust="spacingAndGlyphs">-2</text>
<line x1="33.2" y1="681.94" x2="37.2" y2="681.94" stroke="#000" stroke-width="1.6"/>
<text x="33.2" y="685.6000000000001" font-family='"Liberation Sans", sans-serif' font-size="11" font-weight="bold" font-style="normal" text-anchor="end" fill="#000" textLength="7.82" lengthAdjust="spacingAndGlyphs">-4</text>
<line x1="33.2" y1="706.66" x2="37.2" y2="706.66" stroke="#000" stroke-width="1.6"/>
<text x="33.2" y="710.32" font-family='"Liberation Sans", sans-serif' font-size="11" font-weight="bold" font-style="normal" text-anchor="end" fill="#000" textLength="7.82" lengthAdjust="spacingAndGlyphs">-6</text>
<line x1="33.2" y1="731.38" x2="37.2" y2="731.38" stroke="#000" stroke-width="1.6"/>
<text x="33.2" y="735.0400000000001" font-family='"Liberation Sans", sans-serif' font-size="11" font-weight="bold" font-style="normal" text-anchor="end" fill="#000" textLength="7.82" lengthAdjust="spacingAndGlyphs">-8</text>
<line x1="33.2" y1="756.1" x2="37.2" y2="756.1" stroke="#000" stroke-width="1.6"/>
<text x="33.2" y="759.7600000000001" font-family='"Liberation Sans", sans-serif' font-size="11" font-weight="bold" font-style="normal" text-anchor="end" fill="#000" textLength="12.72" lengthAdjust="spacingAndGlyphs">-10</text>
<line x1="37.2" y1="632.5" x2="222" y2="632.5" stroke="#000" stroke-width="1.6"/>
<line x1="68" y1="632.5" x2="68" y2="636.5" stroke="#000" stroke-width="1.6"/>
<line x1="129.7" y1="632.5" x2="129.7" y2="636.5" stroke="#000" stroke-width="1.6"/>
<line x1="190.5" y1="632.5" x2="190.5" y2="636.5" stroke="#000" stroke-width="1.6"/>
<line x1="68.125" y1="694.25" x2="68.125" y2="703.25" stroke="#000" stroke-width="1.8"/>
<line x1="68.125" y1="724.25" x2="68.125" y2="736.25" stroke="#000" stroke-width="1.8"/>
<line x1="57.5" y1="694.25" x2="79.5" y2="694.25" stroke="#000" stroke-width="1.8"/>
<line x1="57.5" y1="736.25" x2="79.5" y2="736.25" stroke="#000" stroke-width="1.8"/>
<rect x="47.5" y="703.25" width="41.25" height="21.0" fill="url(#pGray)" stroke="#000" stroke-width="1.8"/>
<line x1="47.5" y1="718" x2="88.75" y2="718" stroke="#000" stroke-width="1.8"/>
<line x1="129.75" y1="620.5" x2="129.75" y2="632.5" stroke="#000" stroke-width="1.8"/>
<line x1="129.75" y1="711.75" x2="129.75" y2="749.25" stroke="#000" stroke-width="1.8"/>
<line x1="118.75" y1="620.5" x2="140.5" y2="620.5" stroke="#000" stroke-width="1.8"/>
<line x1="118.75" y1="749.25" x2="140.5" y2="749.25" stroke="#000" stroke-width="1.8"/>
<rect x="108.75" y="632.5" width="42.0" height="79.25" fill="url(#pChkD)" stroke="#000" stroke-width="1.8"/>
<line x1="108.75" y1="661.25" x2="150.75" y2="661.25" stroke="#000" stroke-width="1.8"/>
<line x1="190.375" y1="675.5" x2="190.375" y2="678" stroke="#000" stroke-width="1.8"/>
<line x1="190.375" y1="698" x2="190.375" y2="699.5" stroke="#000" stroke-width="1.8"/>
<line x1="179.5" y1="675.5" x2="201.25" y2="675.5" stroke="#000" stroke-width="1.8"/>
<line x1="179.5" y1="699.5" x2="201.25" y2="699.5" stroke="#000" stroke-width="1.8"/>
<rect x="169.5" y="678" width="41.75" height="20" fill="url(#pHlD)" stroke="#000" stroke-width="1.8"/>
<line x1="169.5" y1="680.5" x2="211.25" y2="680.5" stroke="#000" stroke-width="1.8"/>
<text x="169.3" y="612" font-family='"Liberation Sans", sans-serif' font-size="12.5" font-weight="normal" font-style="normal" text-anchor="start" fill="#000" textLength="36.5" lengthAdjust="spacingAndGlyphs"><tspan font-style="italic">P</tspan> = .01</text>
<text x="46" y="763.6" font-family='"Liberation Sans", sans-serif' font-size="9.5" font-weight="bold" font-style="normal" text-anchor="start" fill="#000" textLength="43.8" lengthAdjust="spacingAndGlyphs">CD4 (n=7)</text>
<text x="108.5" y="763.6" font-family='"Liberation Sans", sans-serif' font-size="9.5" font-weight="bold" font-style="normal" text-anchor="start" fill="#000" textLength="41.8" lengthAdjust="spacingAndGlyphs">Sz (n=17)</text>
<text x="168.2" y="763.6" font-family='"Liberation Sans", sans-serif' font-size="9.5" font-weight="bold" font-style="normal" text-anchor="start" fill="#000" textLength="43.5" lengthAdjust="spacingAndGlyphs">CD3 (n=6)</text>
<text x="12.6" y="736" font-family='"Liberation Sans", sans-serif' font-size="10.5" font-weight="bold" font-style="normal" text-anchor="start" fill="#000" textLength="106" lengthAdjust="spacingAndGlyphs" transform="rotate(-90 12.6 736)">&#916;C<tspan font-size="7" dy="2">t</tspan><tspan dy="-2"> (U6- </tspan><tspan font-style="italic">miR-199</tspan>)</text>
<text transform="translate(281.27 585.40) scale(0.919 1)" font-family='"Liberation Sans", sans-serif' font-size="41.13" font-weight="bold">E</text>
<text x="312.3" y="643.8" font-family='"Liberation Mono", monospace' font-size="12" font-weight="normal" font-style="normal" text-anchor="start" fill="#000" textLength="197.4" lengthAdjust="spacingAndGlyphs" stroke="#000" stroke-width="0.3">3' auUGGUUACACGUCUGAUGACa 5' hsa-miR-199a*</text>
<text x="335.8" y="658.8" font-family='"Liberation Mono", monospace' font-size="12.5" font-weight="normal" font-style="normal" text-anchor="start" fill="#000" textLength="89.3" lengthAdjust="spacingAndGlyphs" stroke="#000" stroke-width="0.3">||||| ||||| ||| |||</text>
<text x="312.3" y="673.0" font-family='"Liberation Mono", monospace' font-size="12" font-weight="normal" font-style="normal" text-anchor="start" fill="#000" textLength="145.7" lengthAdjust="spacingAndGlyphs" stroke="#000" stroke-width="0.3">5' aaACCAA-GUGCA-ACUCCUGg 3' EVL</text>
<text transform="translate(3.49 807.30) scale(0.917 1)" font-family='"Liberation Sans", sans-serif' font-size="40.84" font-weight="bold">F</text>
<line x1="2.3" y1="780" x2="2.3" y2="796" stroke="#8a8a8a" stroke-width="1"/>
<line x1="0" y1="780.3" x2="2.8" y2="780.3" stroke="#8a8a8a" stroke-width="1"/>
<text x="103" y="801.3" font-family='"Liberation Sans", sans-serif' font-size="11" font-weight="bold" font-style="italic" text-anchor="start" fill="#000" textLength="50.5" lengthAdjust="spacingAndGlyphs">EVL 3’UTR</text>
<line x1="49" y1="825.9000000000001" x2="49" y2="960.7" stroke="#000" stroke-width="1.6"/>
<line x1="45" y1="826.4000000000001" x2="49" y2="826.4000000000001" stroke="#000" stroke-width="1.6"/>
<text x="45.8" y="829.2800000000001" font-family='"Liberation Sans", sans-serif' font-size="8" font-weight="bold" font-style="italic" text-anchor="end" fill="#000">17</text>
<line x1="45" y1="859.85" x2="49" y2="859.85" stroke="#000" stroke-width="1.6"/>
<text x="45.8" y="862.73" font-family='"Liberation Sans", sans-serif' font-size="8" font-weight="bold" font-style="italic" text-anchor="end" fill="#000">16</text>
<line x1="45" y1="893.3000000000001" x2="49" y2="893.3000000000001" stroke="#000" stroke-width="1.6"/>
<text x="45.8" y="896.1800000000001" font-family='"Liberation Sans", sans-serif' font-size="8" font-weight="bold" font-style="italic" text-anchor="end" fill="#000">15</text>
<line x1="45" y1="926.75" x2="49" y2="926.75" stroke="#000" stroke-width="1.6"/>
<text x="45.8" y="929.63" font-family='"Liberation Sans", sans-serif' font-size="8" font-weight="bold" font-style="italic" text-anchor="end" fill="#000">14</text>
<line x1="45" y1="960.2" x2="49" y2="960.2" stroke="#000" stroke-width="1.6"/>
<text x="45.8" y="963.08" font-family='"Liberation Sans", sans-serif' font-size="8" font-weight="bold" font-style="italic" text-anchor="end" fill="#000">13</text>
<line x1="48.75" y1="960.2" x2="207.5" y2="960.2" stroke="#000" stroke-width="1.6"/>
<line x1="75.6" y1="960.2" x2="75.6" y2="964.2" stroke="#000" stroke-width="1.6"/>
<line x1="128.2" y1="960.2" x2="128.2" y2="964.2" stroke="#000" stroke-width="1.6"/>
<line x1="180.9" y1="960.2" x2="180.9" y2="964.2" stroke="#000" stroke-width="1.6"/>
<line x1="75.625" y1="843.25" x2="75.625" y2="860.5" stroke="#000" stroke-width="1.4400000000000002"/>
<line x1="66.25" y1="843.25" x2="85" y2="843.25" stroke="#000" stroke-width="1.8"/>
<rect x="58" y="860.5" width="35.25" height="99.70000000000005" fill="url(#pGray)" stroke="#000" stroke-width="1.8"/>
<line x1="128.125" y1="918" x2="128.125" y2="930.75" stroke="#000" stroke-width="1.4400000000000002"/>
<line x1="119.5" y1="918" x2="137" y2="918" stroke="#000" stroke-width="1.8"/>
<rect x="110.5" y="930.75" width="35.25" height="29.450000000000045" fill="url(#pChkF)" stroke="#000" stroke-width="1.8"/>
<line x1="180.875" y1="871.25" x2="180.875" y2="888.25" stroke="#000" stroke-width="1.4400000000000002"/>
<line x1="172" y1="871.25" x2="189.5" y2="871.25" stroke="#000" stroke-width="1.8"/>
<rect x="163" y="888.25" width="35.75" height="71.95000000000005" fill="url(#pHl)" stroke="#000" stroke-width="1.8"/>
<line x1="74.5" y1="831.5" x2="129.5" y2="831.5" stroke="#000" stroke-width="1.6"/>
<line x1="74.5" y1="830.7" x2="74.5" y2="837.5" stroke="#000" stroke-width="1.6"/>
<line x1="129.5" y1="830.7" x2="129.5" y2="891.3" stroke="#000" stroke-width="1.6"/>
<text x="87.2" y="829.8" font-family='"Liberation Sans", sans-serif' font-size="10.5" font-weight="normal" font-style="italic" text-anchor="start" fill="#000" textLength="37.5" lengthAdjust="spacingAndGlyphs"><tspan>P</tspan> = .004</text>
<text x="62.2" y="971.3" font-family='"Liberation Sans", sans-serif' font-size="9" font-weight="bold" font-style="italic" text-anchor="start" fill="#000" textLength="26.8" lengthAdjust="spacingAndGlyphs">control</text>
<text x="108.5" y="971.3" font-family='"Liberation Sans", sans-serif' font-size="9" font-weight="bold" font-style="italic" text-anchor="start" fill="#000" textLength="39.2" lengthAdjust="spacingAndGlyphs">miR-199a*</text>
<text x="162.8" y="971.3" font-family='"Liberation Sans", sans-serif' font-size="9" font-weight="bold" font-style="italic" text-anchor="start" fill="#000" textLength="35.5" lengthAdjust="spacingAndGlyphs">scramble</text>
<text x="32.2" y="906" font-family='"Liberation Sans", sans-serif' font-size="8.7" font-weight="bold" font-style="italic" text-anchor="start" fill="#000" textLength="25" lengthAdjust="spacingAndGlyphs" transform="rotate(-90 32.2 906)">RL/FL</text>
<text transform="translate(274.90 805.80) scale(0.949 1)" font-family='"Liberation Sans", sans-serif' font-size="41.24" font-weight="bold">G</text>
<line x1="349" y1="827.5" x2="349" y2="965.5" stroke="#000" stroke-width="1.6"/>
<line x1="345" y1="828.0" x2="349" y2="828.0" stroke="#000" stroke-width="1.6"/>
<text x="345.3" y="831.096" font-family='"Liberation Sans", sans-serif' font-size="8.6" font-weight="bold" font-style="normal" text-anchor="end" fill="#000" textLength="4.11" lengthAdjust="spacingAndGlyphs">5</text>
<line x1="345" y1="855.4" x2="349" y2="855.4" stroke="#000" stroke-width="1.6"/>
<text x="345.3" y="858.496" font-family='"Liberation Sans", sans-serif' font-size="8.6" font-weight="bold" font-style="normal" text-anchor="end" fill="#000" textLength="4.11" lengthAdjust="spacingAndGlyphs">4</text>
<line x1="345" y1="882.8" x2="349" y2="882.8" stroke="#000" stroke-width="1.6"/>
<text x="345.3" y="885.896" font-family='"Liberation Sans", sans-serif' font-size="8.6" font-weight="bold" font-style="normal" text-anchor="end" fill="#000" textLength="4.11" lengthAdjust="spacingAndGlyphs">3</text>
<line x1="345" y1="910.2" x2="349" y2="910.2" stroke="#000" stroke-width="1.6"/>
<text x="345.3" y="913.296" font-family='"Liberation Sans", sans-serif' font-size="8.6" font-weight="bold" font-style="normal" text-anchor="end" fill="#000" textLength="4.11" lengthAdjust="spacingAndGlyphs">2</text>
<line x1="345" y1="937.6" x2="349" y2="937.6" stroke="#000" stroke-width="1.6"/>
<text x="345.3" y="940.696" font-family='"Liberation Sans", sans-serif' font-size="8.6" font-weight="bold" font-style="normal" text-anchor="end" fill="#000" textLength="4.11" lengthAdjust="spacingAndGlyphs">1</text>
<line x1="345" y1="965.0" x2="349" y2="965.0" stroke="#000" stroke-width="1.6"/>
<text x="345.3" y="968.096" font-family='"Liberation Sans", sans-serif' font-size="8.6" font-weight="bold" font-style="normal" text-anchor="end" fill="#000" textLength="4.11" lengthAdjust="spacingAndGlyphs">0</text>
<line x1="349" y1="965" x2="515" y2="965" stroke="#000" stroke-width="1.6"/>
<line x1="377" y1="965" x2="377" y2="969" stroke="#000" stroke-width="1.6"/>
<line x1="432.5" y1="965" x2="432.5" y2="969" stroke="#000" stroke-width="1.6"/>
<line x1="488.5" y1="965" x2="488.5" y2="969" stroke="#000" stroke-width="1.6"/>
<line x1="376.875" y1="909.5" x2="376.875" y2="922.5" stroke="#000" stroke-width="1.4400000000000002"/>
<line x1="368.75" y1="909.5" x2="385.5" y2="909.5" stroke="#000" stroke-width="1.8"/>
<rect x="358" y="922.5" width="37.75" height="42.5" fill="url(#pChkG)" stroke="#000" stroke-width="1.8"/>
<line x1="432.5" y1="881.75" x2="432.5" y2="898" stroke="#000" stroke-width="1.4400000000000002"/>
<line x1="423.75" y1="881.75" x2="441.25" y2="881.75" stroke="#000" stroke-width="1.8"/>
<rect x="413.75" y="898" width="37.5" height="67" fill="url(#pHlG)" stroke="#000" stroke-width="1.8"/>
<line x1="488.5" y1="833.25" x2="488.5" y2="836.25" stroke="#000" stroke-width="1.4400000000000002"/>
<line x1="478.75" y1="833.25" x2="498" y2="833.25" stroke="#000" stroke-width="1.8"/>
<rect x="469.5" y="836.25" width="38.0" height="128.75" fill="url(#pVl)" stroke="#000" stroke-width="1.8"/>
<text x="377" y="978.8" font-family='"Liberation Sans", sans-serif' font-size="9.6" font-weight="bold" font-style="normal" text-anchor="middle" fill="#000" textLength="8.8" lengthAdjust="spacingAndGlyphs">24</text>
<text x="432.3" y="978.8" font-family='"Liberation Sans", sans-serif' font-size="9.6" font-weight="bold" font-style="normal" text-anchor="middle" fill="#000" textLength="8.8" lengthAdjust="spacingAndGlyphs">48</text>
<text x="488" y="978.8" font-family='"Liberation Sans", sans-serif' font-size="9.6" font-weight="bold" font-style="normal" text-anchor="middle" fill="#000" textLength="8.8" lengthAdjust="spacingAndGlyphs">72</text>
<text x="364.8" y="995.6" font-family='"Liberation Sans", sans-serif' font-size="10.6" font-weight="bold" font-style="normal" text-anchor="start" fill="#000" textLength="136.5" lengthAdjust="spacingAndGlyphs">Time after transfection (hr)</text>
<text x="336.1" y="975.8" font-family='"Liberation Sans", sans-serif' font-size="7.8" font-weight="bold" font-style="normal" text-anchor="start" fill="#000" textLength="159.5" lengthAdjust="spacingAndGlyphs" transform="rotate(-90 336.1 975.8)"><tspan font-style="italic">miR-342</tspan>   fold change 2<tspan font-size="7.2" dy="-3.3">(&#916;&#916;Ct)</tspan></text>
<text transform="translate(4.49 1016.00) scale(0.947 1)" font-family='"Liberation Sans", sans-serif' font-size="41.13" font-weight="bold">H</text>
<line x1="50" y1="1028.82" x2="50" y2="1174.78" stroke="#000" stroke-width="1.6"/>
<line x1="46" y1="1029.32" x2="50" y2="1029.32" stroke="#000" stroke-width="1.6"/>
<text x="46" y="1031.912" font-family='"Liberation Sans", sans-serif' font-size="7.2" font-weight="bold" font-style="normal" text-anchor="end" fill="#000">1.5</text>
<line x1="46" y1="1047.44" x2="50" y2="1047.44" stroke="#000" stroke-width="1.6"/>
<text x="46" y="1050.0320000000002" font-family='"Liberation Sans", sans-serif' font-size="7.2" font-weight="bold" font-style="normal" text-anchor="end" fill="#000">0.5</text>
<line x1="46" y1="1065.56" x2="50" y2="1065.56" stroke="#000" stroke-width="1.6"/>
<text x="46" y="1068.152" font-family='"Liberation Sans", sans-serif' font-size="7.2" font-weight="bold" font-style="normal" text-anchor="end" fill="#000">-0.5</text>
<line x1="46" y1="1083.68" x2="50" y2="1083.68" stroke="#000" stroke-width="1.6"/>
<text x="46" y="1086.2720000000002" font-family='"Liberation Sans", sans-serif' font-size="7.2" font-weight="bold" font-style="normal" text-anchor="end" fill="#000">-1.5</text>
<line x1="46" y1="1101.8" x2="50" y2="1101.8" stroke="#000" stroke-width="1.6"/>
<text x="46" y="1104.392" font-family='"Liberation Sans", sans-serif' font-size="7.2" font-weight="bold" font-style="normal" text-anchor="end" fill="#000">-2.5</text>
<line x1="46" y1="1119.92" x2="50" y2="1119.92" stroke="#000" stroke-width="1.6"/>
<text x="46" y="1122.5120000000002" font-family='"Liberation Sans", sans-serif' font-size="7.2" font-weight="bold" font-style="normal" text-anchor="end" fill="#000">-3.5</text>
<line x1="46" y1="1138.04" x2="50" y2="1138.04" stroke="#000" stroke-width="1.6"/>
<text x="46" y="1140.632" font-family='"Liberation Sans", sans-serif' font-size="7.2" font-weight="bold" font-style="normal" text-anchor="end" fill="#000">-4.5</text>
<line x1="46" y1="1156.16" x2="50" y2="1156.16" stroke="#000" stroke-width="1.6"/>
<text x="46" y="1158.7520000000002" font-family='"Liberation Sans", sans-serif' font-size="7.2" font-weight="bold" font-style="normal" text-anchor="end" fill="#000">-5.5</text>
<line x1="46" y1="1174.28" x2="50" y2="1174.28" stroke="#000" stroke-width="1.6"/>
<text x="46" y="1176.872" font-family='"Liberation Sans", sans-serif' font-size="7.2" font-weight="bold" font-style="normal" text-anchor="end" fill="#000">-6.5</text>
<line x1="50" y1="1056.5" x2="211.75" y2="1056.5" stroke="#000" stroke-width="1.6"/>
<line x1="76.25" y1="1056.5" x2="76.25" y2="1060.0" stroke="#000" stroke-width="1.4"/>
<line x1="130.4" y1="1056.5" x2="130.4" y2="1060.0" stroke="#000" stroke-width="1.4"/>
<line x1="184.4" y1="1056.5" x2="184.4" y2="1060.0" stroke="#000" stroke-width="1.4"/>
<rect x="58" y="1052.2" width="36.5" height="4.2999999999999545" fill="url(#pGray)" stroke="#000" stroke-width="1.6"/>
<line x1="76.25" y1="1030" x2="76.25" y2="1052.2" stroke="#000" stroke-width="1.1"/>
<line x1="67" y1="1030" x2="86.25" y2="1030" stroke="#000" stroke-width="1.2"/>
<line x1="76.25" y1="1056.5" x2="76.25" y2="1059.5" stroke="#000" stroke-width="1.1"/>
<rect x="112" y="1056.5" width="36.75" height="79.0" fill="url(#pChkH)" stroke="#000" stroke-width="1.8"/>
<line x1="130.4" y1="1135.5" x2="130.4" y2="1172.4" stroke="#000" stroke-width="1.1"/>
<line x1="121.4" y1="1172.4" x2="139.4" y2="1172.4" stroke="#000" stroke-width="1.3"/>
<rect x="166.25" y="1056.5" width="36.25" height="49.75" fill="url(#pHlH)" stroke="#000" stroke-width="1.8"/>
<line x1="184.4" y1="1106.25" x2="184.4" y2="1124.5" stroke="#000" stroke-width="1.1"/>
<line x1="175.5" y1="1124.5" x2="193.75" y2="1124.5" stroke="#000" stroke-width="1.3"/>
<text x="76.8" y="1180.6" font-family='"Liberation Sans", sans-serif' font-size="7.5" font-weight="bold" font-style="normal" text-anchor="middle" fill="#000">24</text>
<text x="130.3" y="1180.6" font-family='"Liberation Sans", sans-serif' font-size="7.5" font-weight="bold" font-style="normal" text-anchor="middle" fill="#000">48</text>
<text x="184.6" y="1180.6" font-family='"Liberation Sans", sans-serif' font-size="7.5" font-weight="bold" font-style="normal" text-anchor="middle" fill="#000">72</text>
<text x="73.5" y="1198.6" font-family='"Liberation Sans", sans-serif' font-size="10.8" font-weight="normal" font-style="normal" text-anchor="start" fill="#000" textLength="128" lengthAdjust="spacingAndGlyphs">Time after transfection (hr)</text>
<text x="26.8" y="1154.3" font-family='"Liberation Sans", sans-serif' font-size="8.3" font-weight="bold" font-style="normal" text-anchor="start" fill="#000" textLength="105" lengthAdjust="spacingAndGlyphs" transform="rotate(-90 26.8 1154.3)"><tspan font-style="italic">miR-342</tspan> fold change 2<tspan font-size="5.5" dy="-3.5">(&#916;&#916;Ct)</tspan></text>
<text transform="translate(283.36 1017.50) scale(0.996 1)" font-family='"Liberation Sans", sans-serif' font-size="41.13" font-weight="bold">I</text>
<line x1="347.5" y1="1041.0" x2="347.5" y2="1181.0" stroke="#000" stroke-width="1.6"/>
<line x1="343.5" y1="1041.5" x2="347.5" y2="1041.5" stroke="#000" stroke-width="1.6"/>
<text x="344.2" y="1044.56" font-family='"Liberation Sans", sans-serif' font-size="8.5" font-weight="bold" font-style="normal" text-anchor="end" fill="#000" textLength="10.87" lengthAdjust="spacingAndGlyphs">0.4</text>
<line x1="343.5" y1="1076.25" x2="347.5" y2="1076.25" stroke="#000" stroke-width="1.6"/>
<text x="344.2" y="1079.31" font-family='"Liberation Sans", sans-serif' font-size="8.5" font-weight="bold" font-style="normal" text-anchor="end" fill="#000" textLength="10.87" lengthAdjust="spacingAndGlyphs">0.3</text>
<line x1="343.5" y1="1111.0" x2="347.5" y2="1111.0" stroke="#000" stroke-width="1.6"/>
<text x="344.2" y="1114.06" font-family='"Liberation Sans", sans-serif' font-size="8.5" font-weight="bold" font-style="normal" text-anchor="end" fill="#000" textLength="10.87" lengthAdjust="spacingAndGlyphs">0.2</text>
<line x1="343.5" y1="1145.75" x2="347.5" y2="1145.75" stroke="#000" stroke-width="1.6"/>
<text x="344.2" y="1148.81" font-family='"Liberation Sans", sans-serif' font-size="8.5" font-weight="bold" font-style="normal" text-anchor="end" fill="#000" textLength="10.87" lengthAdjust="spacingAndGlyphs">0.1</text>
<line x1="343.5" y1="1180.5" x2="347.5" y2="1180.5" stroke="#000" stroke-width="1.6"/>
<text x="344.2" y="1183.56" font-family='"Liberation Sans", sans-serif' font-size="8.5" font-weight="bold" font-style="normal" text-anchor="end" fill="#000" textLength="10.87" lengthAdjust="spacingAndGlyphs">0.0</text>
<line x1="347.5" y1="1180.5" x2="515.5" y2="1180.5" stroke="#000" stroke-width="1.6"/>
<line x1="376" y1="1180.5" x2="376" y2="1184.5" stroke="#000" stroke-width="1.6"/>
<line x1="431.6" y1="1180.5" x2="431.6" y2="1184.5" stroke="#000" stroke-width="1.6"/>
<line x1="487.4" y1="1180.5" x2="487.4" y2="1184.5" stroke="#000" stroke-width="1.6"/>
<line x1="376.0" y1="1131.3" x2="376.0" y2="1133" stroke="#000" stroke-width="1.4400000000000002"/>
<line x1="366.25" y1="1131.3" x2="385.5" y2="1131.3" stroke="#000" stroke-width="1.8"/>
<rect x="357" y="1133" width="38" height="47.5" fill="url(#pGray)" stroke="#000" stroke-width="1.8"/>
<line x1="431.6" y1="1089.2" x2="431.6" y2="1093.5" stroke="#000" stroke-width="1.4400000000000002"/>
<line x1="422" y1="1089.2" x2="440.7" y2="1089.2" stroke="#000" stroke-width="1.8"/>
<rect x="412.7" y="1093.5" width="37.80000000000001" height="87.0" fill="url(#pChkI)" stroke="#000" stroke-width="1.8"/>
<line x1="487.35" y1="1071.3" x2="487.35" y2="1074.2" stroke="#000" stroke-width="1.4400000000000002"/>
<line x1="478.2" y1="1071.3" x2="497" y2="1071.3" stroke="#000" stroke-width="1.8"/>
<rect x="468.5" y="1074.2" width="37.69999999999999" height="106.29999999999995" fill="url(#pHlI)" stroke="#000" stroke-width="1.8"/>
<line x1="376.3" y1="1048" x2="487.7" y2="1048" stroke="#000" stroke-width="2"/>
<line x1="376.3" y1="1047" x2="376.3" y2="1057.5" stroke="#000" stroke-width="2"/>
<line x1="487.7" y1="1047" x2="487.7" y2="1057.5" stroke="#000" stroke-width="2"/>
<line x1="376" y1="1070.5" x2="432" y2="1070.5" stroke="#000" stroke-width="2"/>
<line x1="376" y1="1069.5" x2="376" y2="1080.6" stroke="#000" stroke-width="2"/>
<line x1="432" y1="1069.5" x2="432" y2="1080.6" stroke="#000" stroke-width="2"/>
<text x="410.2" y="1042.6" font-family='"Liberation Sans", sans-serif' font-size="11.3" font-weight="normal" font-style="normal" text-anchor="start" fill="#000" textLength="46.5" lengthAdjust="spacingAndGlyphs"><tspan font-style="italic">P</tspan> = .0005</text>
<text x="384.2" y="1066.8" font-family='"Liberation Sans", sans-serif' font-size="11.3" font-weight="normal" font-style="normal" text-anchor="start" fill="#000" textLength="40.5" lengthAdjust="spacingAndGlyphs"><tspan font-style="italic">P</tspan> = .001</text>
<text x="351.4" y="1195.1" font-family='"Liberation Sans", sans-serif' font-size="10.4" font-weight="bold" font-style="normal" text-anchor="start" fill="#000" textLength="49.5" lengthAdjust="spacingAndGlyphs">Mock  trans.</text>
<text x="415.4" y="1195.1" font-family='"Liberation Sans", sans-serif' font-size="10.4" font-weight="bold" font-style="normal" text-anchor="start" fill="#000" textLength="33" lengthAdjust="spacingAndGlyphs">miR-342</text>
<text x="458.4" y="1195.1" font-family='"Liberation Sans", sans-serif' font-size="10.4" font-weight="bold" font-style="normal" text-anchor="start" fill="#000" textLength="61.5" lengthAdjust="spacingAndGlyphs">anti-miR-199a*</text>
<text x="326.4" y="1152.6" font-family='"Liberation Sans", sans-serif' font-size="9.8" font-weight="bold" font-style="normal" text-anchor="start" fill="#000" textLength="17" lengthAdjust="spacingAndGlyphs" transform="rotate(-90 326.4 1152.6)">OD</text>
<text x="329.6" y="1134.2" font-family='"Liberation Sans", sans-serif' font-size="7.4" font-weight="bold" font-style="normal" text-anchor="start" fill="#000" textLength="63" lengthAdjust="spacingAndGlyphs" transform="rotate(-90 329.6 1134.2)">(405nm-490nm)</text>
<text transform="translate(93.81 1238.40) scale(0.938 1)" font-family='"Liberation Sans", sans-serif' font-size="41.28" font-weight="bold">J</text>
<text x="129.8" y="1273" font-family='"Liberation Sans", sans-serif' font-size="12" font-weight="bold" font-style="normal" text-anchor="start" fill="#000" textLength="29.2" lengthAdjust="spacingAndGlyphs">EVL</text>
<line x1="129.5" y1="1285.75" x2="332.5" y2="1285.75" stroke="#000" stroke-width="2.8"/>
<rect x="149.25" y="1280.2" width="18.25" height="11.6" fill="#f2f2f2" stroke="#000" stroke-width="1.1"/>
<text x="158.375" y="1290.2" font-family='"Liberation Sans", sans-serif' font-size="10.5" font-weight="bold" font-style="normal" text-anchor="middle" fill="#000" textLength="14.75" lengthAdjust="spacingAndGlyphs">E1</text>
<rect x="187.5" y="1280.2" width="18.75" height="11.6" fill="#f2f2f2" stroke="#000" stroke-width="1.1"/>
<text x="196.875" y="1290.2" font-family='"Liberation Sans", sans-serif' font-size="10.5" font-weight="bold" font-style="normal" text-anchor="middle" fill="#000" textLength="15.25" lengthAdjust="spacingAndGlyphs">E2</text>
<rect x="246.25" y="1280.2" width="18.75" height="11.6" fill="#f2f2f2" stroke="#000" stroke-width="1.1"/>
<text x="255.625" y="1290.2" font-family='"Liberation Sans", sans-serif' font-size="10.5" font-weight="bold" font-style="normal" text-anchor="middle" fill="#000" textLength="15.25" lengthAdjust="spacingAndGlyphs">E3</text>
<rect x="303" y="1280.2" width="19" height="11.6" fill="#f2f2f2" stroke="#000" stroke-width="1.1"/>
<text x="312.5" y="1290.2" font-family='"Liberation Sans", sans-serif' font-size="10.5" font-weight="bold" font-style="normal" text-anchor="middle" fill="#000" textLength="15.5" lengthAdjust="spacingAndGlyphs">E4</text>
<rect x="335.9" y="1284.2" width="3.2" height="3.2" fill="#000" stroke="none" stroke-width="0"/>
<rect x="342.9" y="1284.2" width="3.2" height="3.2" fill="#000" stroke="none" stroke-width="0"/>
<rect x="349.7" y="1284.2" width="3.2" height="3.2" fill="#000" stroke="none" stroke-width="0"/>
<rect x="357.2" y="1279" width="46" height="12.8" fill="url(#pUtr)" stroke="#000" stroke-width="1.1"/>
<text x="362.4" y="1289.8" font-family='"Liberation Sans", sans-serif' font-size="10" font-weight="bold" font-style="normal" text-anchor="start" fill="#000" textLength="34" lengthAdjust="spacingAndGlyphs">3’UTR</text>
<line x1="367.5" y1="1294.6" x2="383.3" y2="1294.6" stroke="#000" stroke-width="1.6"/>
<line x1="375.4" y1="1295" x2="282.5" y2="1327.5" stroke="#000" stroke-width="1.4"/>
<rect x="275.6" y="1267.8" width="8.4" height="17.2" fill="#fff" stroke="#000" stroke-width="1.1"/>
<line x1="275.6" y1="1271.2" x2="284" y2="1271.2" stroke="#000" stroke-width="1.1"/>
<line x1="275.6" y1="1274.6" x2="284" y2="1274.6" stroke="#000" stroke-width="1.1"/>
<line x1="275.6" y1="1278.0" x2="284" y2="1278.0" stroke="#000" stroke-width="1.1"/>
<line x1="275.6" y1="1281.4" x2="284" y2="1281.4" stroke="#000" stroke-width="1.1"/>
<ellipse cx="280.2" cy="1261" rx="9.4" ry="7" fill="#fff" stroke="#000" stroke-width="1.3"/>
<text x="246.6" y="1250.6" font-family='"Liberation Sans", sans-serif' font-size="11.5" font-weight="bold" font-style="italic" text-anchor="start" fill="#000" textLength="58" lengthAdjust="spacingAndGlyphs">miR-342</text>
<ellipse cx="279.1" cy="1347.5" rx="43.6" ry="14.8" fill="url(#gEll)" stroke="#111" stroke-width="1.5"/>
<text x="243.5" y="1353.8" font-family='"Liberation Sans", sans-serif' font-size="13" font-weight="bold" font-style="italic" text-anchor="start" fill="#000" textLength="67.5" lengthAdjust="spacingAndGlyphs">miR-199a</text>
<text x="312.2" y="1350.5" font-family='"Liberation Sans", sans-serif' font-size="12" font-weight="bold" font-style="italic" text-anchor="start" fill="#000" textLength="6.5" lengthAdjust="spacingAndGlyphs">*</text>
<line x1="280.2" y1="1397.5" x2="280.2" y2="1374.5" stroke="#000" stroke-width="1.6"/>
<path d="M 276.0 1375.0 L 280.2 1368.5 L 284.4 1375.0 Z" fill="#000"/>
<rect x="236.5" y="1401.5" width="86" height="29" rx="4.5" fill="url(#gTw)" stroke="#111" stroke-width="1.5"/>
<rect x="248" y="1406" width="66" height="20" rx="5" fill="#5a5a5a" opacity="0.75" filter="url(#bl3)"/>
<text x="254.6" y="1422.6" font-family='"Liberation Sans", sans-serif' font-size="14.5" font-weight="bold" font-style="normal" text-anchor="start" fill="#000" textLength="54.5" lengthAdjust="spacingAndGlyphs">Twist1</text>
<line x1="280.2" y1="1456" x2="280.2" y2="1440.8" stroke="#000" stroke-width="1.6"/>
<path d="M 276.0 1441.3 L 280.2 1434.8 L 284.4 1441.3 Z" fill="#000"/>
<line x1="280.2" y1="1498.5" x2="280.2" y2="1485.0" stroke="#000" stroke-width="1.6"/>
<path d="M 276.2 1485.5 L 280.2 1478.5 L 284.2 1485.5 Z" fill="#000"/>
<clipPath id="dc448"><path d="M 222.3 1477.9 L 222.8 1477.7 L 223.3 1477.5 L 223.7 1477.3 L 224.2 1477.1 L 224.7 1476.9 L 225.3 1476.8 L 225.8 1476.6 L 226.3 1476.5 L 226.9 1476.5 L 227.4 1476.4 L 228.0 1476.4 L 228.6 1476.3 L 229.1 1476.3 L 229.7 1476.4 L 230.3 1476.4 L 230.9 1476.5 L 231.6 1476.6 L 232.2 1476.7 L 232.9 1476.8 L 233.5 1477.0 L 234.2 1477.2 L 234.9 1477.5 L 235.7 1477.9 L 236.0 1477.5 L 236.1 1476.6 L 236.3 1475.9 L 236.5 1475.3 L 236.7 1474.6 L 237.0 1474.0 L 237.2 1473.5 L 237.5 1472.9 L 237.8 1472.4 L 238.1 1471.9 L 238.4 1471.4 L 238.7 1470.9 L 239.1 1470.5 L 239.4 1470.0 L 239.8 1469.6 L 240.1 1469.2 L 240.5 1468.9 L 240.9 1468.5 L 241.3 1468.2 L 241.7 1467.9 L 242.1 1467.6 L 242.6 1467.4 L 243.0 1467.2 L 243.5 1466.9 L 243.9 1466.8 L 244.4 1466.6 L 244.8 1466.5 L 245.3 1466.3 L 245.8 1466.2 L 246.3 1466.2 L 246.8 1466.1 L 247.3 1466.1 L 247.9 1466.1 L 248.4 1466.1 L 248.9 1466.2 L 249.4 1466.2 L 250.0 1466.3 L 250.5 1466.5 L 251.1 1466.6 L 251.6 1466.8 L 252.2 1466.9 L 252.8 1467.2 L 253.3 1467.4 L 253.9 1467.7 L 254.5 1468.0 L 255.1 1468.4 L 255.7 1468.8 L 256.3 1469.3 L 256.7 1469.1 L 256.9 1468.3 L 257.2 1467.7 L 257.5 1467.1 L 257.9 1466.5 L 258.2 1466.0 L 258.5 1465.5 L 258.9 1465.0 L 259.3 1464.6 L 259.7 1464.1 L 260.0 1463.7 L 260.4 1463.4 L 260.8 1463.0 L 261.2 1462.7 L 261.7 1462.4 L 262.1 1462.1 L 262.5 1461.8 L 263.0 1461.6 L 263.4 1461.4 L 263.8 1461.2 L 264.3 1461.0 L 264.7 1460.9 L 265.2 1460.7 L 265.7 1460.6 L 266.1 1460.6 L 266.6 1460.5 L 267.1 1460.5 L 267.6 1460.5 L 268.0 1460.6 L 268.5 1460.6 L 269.0 1460.7 L 269.5 1460.8 L 270.0 1460.9 L 270.4 1461.1 L 270.9 1461.3 L 271.4 1461.5 L 271.9 1461.7 L 272.4 1462.0 L 272.8 1462.2 L 273.3 1462.5 L 273.8 1462.9 L 274.3 1463.2 L 274.7 1463.6 L 275.2 1464.0 L 275.6 1464.5 L 276.1 1465.0 L 276.5 1465.5 L 277.0 1466.2 L 277.4 1466.3 L 277.8 1465.6 L 278.3 1465.0 L 278.7 1464.5 L 279.2 1464.1 L 279.6 1463.6 L 280.1 1463.2 L 280.6 1462.9 L 281.0 1462.6 L 281.5 1462.2 L 282.0 1462.0 L 282.4 1461.7 L 282.9 1461.5 L 283.4 1461.3 L 283.9 1461.1 L 284.4 1460.9 L 284.8 1460.8 L 285.3 1460.7 L 285.8 1460.6 L 286.3 1460.5 L 286.8 1460.5 L 287.2 1460.5 L 287.7 1460.5 L 288.2 1460.5 L 288.6 1460.6 L 289.1 1460.7 L 289.6 1460.8 L 290.0 1460.9 L 290.5 1461.1 L 290.9 1461.2 L 291.3 1461.4 L 291.8 1461.7 L 292.2 1461.9 L 292.6 1462.2 L 293.1 1462.5 L 293.5 1462.8 L 293.9 1463.2 L 294.3 1463.6 L 294.7 1464.0 L 295.0 1464.4 L 295.4 1464.8 L 295.8 1465.3 L 296.1 1465.8 L 296.5 1466.3 L 296.8 1466.8 L 297.1 1467.4 L 297.4 1468.1 L 297.7 1468.8 L 298.1 1469.2 L 298.7 1468.6 L 299.3 1468.1 L 299.8 1467.8 L 300.4 1467.4 L 301.0 1467.1 L 301.5 1466.9 L 302.1 1466.6 L 302.6 1466.4 L 303.2 1466.3 L 303.7 1466.1 L 304.2 1466.0 L 304.8 1465.9 L 305.3 1465.8 L 305.8 1465.7 L 306.3 1465.7 L 306.8 1465.6 L 307.4 1465.6 L 307.8 1465.7 L 308.3 1465.7 L 308.8 1465.8 L 309.3 1465.9 L 309.8 1466.0 L 310.2 1466.1 L 310.7 1466.3 L 311.1 1466.5 L 311.6 1466.7 L 312.0 1466.9 L 312.4 1467.2 L 312.8 1467.5 L 313.2 1467.8 L 313.6 1468.1 L 314.0 1468.4 L 314.4 1468.8 L 314.7 1469.2 L 315.1 1469.6 L 315.4 1470.0 L 315.8 1470.4 L 316.1 1470.9 L 316.4 1471.4 L 316.7 1471.9 L 317.0 1472.4 L 317.3 1473.0 L 317.5 1473.6 L 317.8 1474.2 L 318.0 1474.8 L 318.2 1475.5 L 318.4 1476.3 L 318.7 1476.8 L 319.4 1476.3 L 320.1 1476.0 L 320.7 1475.7 L 321.4 1475.5 L 322.0 1475.3 L 322.6 1475.2 L 323.2 1475.0 L 323.8 1474.9 L 324.4 1474.8 L 324.9 1474.7 L 325.5 1474.7 L 326.1 1474.7 L 326.6 1474.6 L 327.1 1474.7 L 327.7 1474.7 L 328.2 1474.7 L 328.7 1474.8 L 329.2 1474.9 L 329.7 1475.0 L 330.2 1475.1 L 330.6 1475.3 L 331.1 1475.5 L 331.5 1475.7 L 332.0 1475.9 L 325.6 1488.4 L 325.2 1488.1 L 324.8 1487.9 L 324.4 1487.7 L 324.0 1487.4 L 323.6 1487.1 L 323.3 1486.8 L 322.9 1486.4 L 322.6 1486.1 L 322.2 1485.7 L 321.9 1485.3 L 321.6 1484.9 L 321.3 1484.5 L 321.0 1484.0 L 320.7 1483.6 L 320.4 1483.1 L 320.1 1482.6 L 319.8 1482.1 L 319.6 1481.5 L 319.3 1480.9 L 319.1 1480.3 L 318.9 1479.7 L 318.7 1479.1 L 318.5 1478.3 L 318.4 1477.5 L 317.8 1477.6 L 317.1 1478.0 L 316.5 1478.3 L 315.8 1478.6 L 315.2 1478.8 L 314.6 1479.0 L 314.1 1479.2 L 313.5 1479.3 L 312.9 1479.5 L 312.4 1479.6 L 311.9 1479.7 L 311.3 1479.8 L 310.8 1479.9 L 310.3 1479.9 L 309.8 1480.0 L 309.3 1480.0 L 308.9 1480.0 L 308.4 1479.9 L 307.9 1479.9 L 307.5 1479.8 L 307.1 1479.8 L 306.6 1479.7 L 306.2 1479.6 L 305.8 1479.4 L 305.4 1479.3 L 305.0 1479.1 L 304.6 1478.9 L 304.2 1478.7 L 303.9 1478.5 L 303.5 1478.2 L 303.1 1477.9 L 302.8 1477.7 L 302.4 1477.3 L 302.1 1477.0 L 301.8 1476.7 L 301.4 1476.3 L 301.1 1475.9 L 300.8 1475.5 L 300.5 1475.1 L 300.1 1474.6 L 299.8 1474.2 L 299.5 1473.7 L 299.2 1473.2 L 298.9 1472.6 L 298.6 1472.1 L 298.4 1471.5 L 298.1 1470.8 L 297.8 1470.0 L 297.4 1470.1 L 296.8 1470.6 L 296.2 1471.1 L 295.7 1471.4 L 295.2 1471.8 L 294.7 1472.1 L 294.1 1472.4 L 293.7 1472.7 L 293.2 1472.9 L 292.7 1473.2 L 292.2 1473.4 L 291.8 1473.6 L 291.3 1473.7 L 290.9 1473.9 L 290.4 1474.0 L 290.0 1474.2 L 289.6 1474.3 L 289.2 1474.3 L 288.7 1474.4 L 288.3 1474.5 L 287.9 1474.5 L 287.5 1474.5 L 287.1 1474.5 L 286.7 1474.4 L 286.3 1474.4 L 285.9 1474.3 L 285.6 1474.2 L 285.2 1474.1 L 284.8 1474.0 L 284.4 1473.8 L 284.0 1473.6 L 283.7 1473.4 L 283.3 1473.2 L 282.9 1473.0 L 282.5 1472.7 L 282.2 1472.5 L 281.8 1472.2 L 281.4 1471.9 L 281.0 1471.5 L 280.6 1471.2 L 280.2 1470.8 L 279.8 1470.4 L 279.4 1470.0 L 279.0 1469.6 L 278.6 1469.1 L 278.2 1468.6 L 277.8 1468.0 L 277.4 1467.3 L 277.0 1467.3 L 276.6 1468.0 L 276.1 1468.6 L 275.7 1469.1 L 275.3 1469.6 L 274.9 1470.0 L 274.5 1470.5 L 274.2 1470.8 L 273.8 1471.2 L 273.4 1471.6 L 273.0 1471.9 L 272.6 1472.2 L 272.3 1472.5 L 271.9 1472.8 L 271.5 1473.0 L 271.1 1473.3 L 270.8 1473.5 L 270.4 1473.7 L 270.0 1473.9 L 269.6 1474.0 L 269.2 1474.1 L 268.9 1474.3 L 268.5 1474.4 L 268.1 1474.4 L 267.7 1474.5 L 267.3 1474.5 L 266.9 1474.5 L 266.5 1474.5 L 266.1 1474.5 L 265.7 1474.5 L 265.3 1474.4 L 264.9 1474.3 L 264.4 1474.2 L 264.0 1474.1 L 263.6 1474.0 L 263.1 1473.8 L 262.7 1473.7 L 262.2 1473.5 L 261.7 1473.3 L 261.3 1473.0 L 260.8 1472.8 L 260.3 1472.5 L 259.8 1472.2 L 259.2 1471.9 L 258.7 1471.6 L 258.2 1471.2 L 257.6 1470.8 L 257.0 1470.2 L 256.5 1470.3 L 256.3 1471.1 L 256.1 1471.7 L 255.8 1472.3 L 255.5 1472.9 L 255.2 1473.5 L 254.9 1474.0 L 254.6 1474.5 L 254.3 1474.9 L 254.0 1475.4 L 253.7 1475.8 L 253.4 1476.2 L 253.1 1476.6 L 252.8 1477.0 L 252.5 1477.4 L 252.1 1477.7 L 251.8 1478.0 L 251.4 1478.3 L 251.1 1478.6 L 250.7 1478.8 L 250.4 1479.1 L 250.0 1479.3 L 249.6 1479.5 L 249.2 1479.7 L 248.8 1479.9 L 248.4 1480.0 L 248.0 1480.2 L 247.6 1480.3 L 247.1 1480.4 L 246.7 1480.4 L 246.2 1480.5 L 245.8 1480.5 L 245.3 1480.6 L 244.8 1480.6 L 244.3 1480.6 L 243.8 1480.5 L 243.3 1480.5 L 242.7 1480.4 L 242.2 1480.3 L 241.6 1480.2 L 241.1 1480.1 L 240.5 1480.0 L 239.9 1479.9 L 239.3 1479.7 L 238.6 1479.5 L 238.0 1479.3 L 237.3 1479.0 L 236.6 1478.6 L 236.0 1478.6 L 236.0 1479.5 L 235.8 1480.2 L 235.6 1480.9 L 235.4 1481.6 L 235.2 1482.2 L 235.0 1482.8 L 234.8 1483.3 L 234.5 1483.9 L 234.3 1484.4 L 234.0 1484.9 L 233.7 1485.4 L 233.4 1485.9 L 233.2 1486.3 L 232.9 1486.7 L 232.5 1487.2 L 232.2 1487.6 L 231.9 1487.9 L 231.5 1488.3 L 231.2 1488.7 L 230.8 1489.0 L 230.4 1489.3 L 230.1 1489.6 L 229.7 1489.9 Z"/></clipPath>
<path d="M 222.3 1477.9 L 222.8 1477.7 L 223.3 1477.5 L 223.7 1477.3 L 224.2 1477.1 L 224.7 1476.9 L 225.3 1476.8 L 225.8 1476.6 L 226.3 1476.5 L 226.9 1476.5 L 227.4 1476.4 L 228.0 1476.4 L 228.6 1476.3 L 229.1 1476.3 L 229.7 1476.4 L 230.3 1476.4 L 230.9 1476.5 L 231.6 1476.6 L 232.2 1476.7 L 232.9 1476.8 L 233.5 1477.0 L 234.2 1477.2 L 234.9 1477.5 L 235.7 1477.9 L 236.0 1477.5 L 236.1 1476.6 L 236.3 1475.9 L 236.5 1475.3 L 236.7 1474.6 L 237.0 1474.0 L 237.2 1473.5 L 237.5 1472.9 L 237.8 1472.4 L 238.1 1471.9 L 238.4 1471.4 L 238.7 1470.9 L 239.1 1470.5 L 239.4 1470.0 L 239.8 1469.6 L 240.1 1469.2 L 240.5 1468.9 L 240.9 1468.5 L 241.3 1468.2 L 241.7 1467.9 L 242.1 1467.6 L 242.6 1467.4 L 243.0 1467.2 L 243.5 1466.9 L 243.9 1466.8 L 244.4 1466.6 L 244.8 1466.5 L 245.3 1466.3 L 245.8 1466.2 L 246.3 1466.2 L 246.8 1466.1 L 247.3 1466.1 L 247.9 1466.1 L 248.4 1466.1 L 248.9 1466.2 L 249.4 1466.2 L 250.0 1466.3 L 250.5 1466.5 L 251.1 1466.6 L 251.6 1466.8 L 252.2 1466.9 L 252.8 1467.2 L 253.3 1467.4 L 253.9 1467.7 L 254.5 1468.0 L 255.1 1468.4 L 255.7 1468.8 L 256.3 1469.3 L 256.7 1469.1 L 256.9 1468.3 L 257.2 1467.7 L 257.5 1467.1 L 257.9 1466.5 L 258.2 1466.0 L 258.5 1465.5 L 258.9 1465.0 L 259.3 1464.6 L 259.7 1464.1 L 260.0 1463.7 L 260.4 1463.4 L 260.8 1463.0 L 261.2 1462.7 L 261.7 1462.4 L 262.1 1462.1 L 262.5 1461.8 L 263.0 1461.6 L 263.4 1461.4 L 263.8 1461.2 L 264.3 1461.0 L 264.7 1460.9 L 265.2 1460.7 L 265.7 1460.6 L 266.1 1460.6 L 266.6 1460.5 L 267.1 1460.5 L 267.6 1460.5 L 268.0 1460.6 L 268.5 1460.6 L 269.0 1460.7 L 269.5 1460.8 L 270.0 1460.9 L 270.4 1461.1 L 270.9 1461.3 L 271.4 1461.5 L 271.9 1461.7 L 272.4 1462.0 L 272.8 1462.2 L 273.3 1462.5 L 273.8 1462.9 L 274.3 1463.2 L 274.7 1463.6 L 275.2 1464.0 L 275.6 1464.5 L 276.1 1465.0 L 276.5 1465.5 L 277.0 1466.2 L 277.4 1466.3 L 277.8 1465.6 L 278.3 1465.0 L 278.7 1464.5 L 279.2 1464.1 L 279.6 1463.6 L 280.1 1463.2 L 280.6 1462.9 L 281.0 1462.6 L 281.5 1462.2 L 282.0 1462.0 L 282.4 1461.7 L 282.9 1461.5 L 283.4 1461.3 L 283.9 1461.1 L 284.4 1460.9 L 284.8 1460.8 L 285.3 1460.7 L 285.8 1460.6 L 286.3 1460.5 L 286.8 1460.5 L 287.2 1460.5 L 287.7 1460.5 L 288.2 1460.5 L 288.6 1460.6 L 289.1 1460.7 L 289.6 1460.8 L 290.0 1460.9 L 290.5 1461.1 L 290.9 1461.2 L 291.3 1461.4 L 291.8 1461.7 L 292.2 1461.9 L 292.6 1462.2 L 293.1 1462.5 L 293.5 1462.8 L 293.9 1463.2 L 294.3 1463.6 L 294.7 1464.0 L 295.0 1464.4 L 295.4 1464.8 L 295.8 1465.3 L 296.1 1465.8 L 296.5 1466.3 L 296.8 1466.8 L 297.1 1467.4 L 297.4 1468.1 L 297.7 1468.8 L 298.1 1469.2 L 298.7 1468.6 L 299.3 1468.1 L 299.8 1467.8 L 300.4 1467.4 L 301.0 1467.1 L 301.5 1466.9 L 302.1 1466.6 L 302.6 1466.4 L 303.2 1466.3 L 303.7 1466.1 L 304.2 1466.0 L 304.8 1465.9 L 305.3 1465.8 L 305.8 1465.7 L 306.3 1465.7 L 306.8 1465.6 L 307.4 1465.6 L 307.8 1465.7 L 308.3 1465.7 L 308.8 1465.8 L 309.3 1465.9 L 309.8 1466.0 L 310.2 1466.1 L 310.7 1466.3 L 311.1 1466.5 L 311.6 1466.7 L 312.0 1466.9 L 312.4 1467.2 L 312.8 1467.5 L 313.2 1467.8 L 313.6 1468.1 L 314.0 1468.4 L 314.4 1468.8 L 314.7 1469.2 L 315.1 1469.6 L 315.4 1470.0 L 315.8 1470.4 L 316.1 1470.9 L 316.4 1471.4 L 316.7 1471.9 L 317.0 1472.4 L 317.3 1473.0 L 317.5 1473.6 L 317.8 1474.2 L 318.0 1474.8 L 318.2 1475.5 L 318.4 1476.3 L 318.7 1476.8 L 319.4 1476.3 L 320.1 1476.0 L 320.7 1475.7 L 321.4 1475.5 L 322.0 1475.3 L 322.6 1475.2 L 323.2 1475.0 L 323.8 1474.9 L 324.4 1474.8 L 324.9 1474.7 L 325.5 1474.7 L 326.1 1474.7 L 326.6 1474.6 L 327.1 1474.7 L 327.7 1474.7 L 328.2 1474.7 L 328.7 1474.8 L 329.2 1474.9 L 329.7 1475.0 L 330.2 1475.1 L 330.6 1475.3 L 331.1 1475.5 L 331.5 1475.7 L 332.0 1475.9 L 325.6 1488.4 L 325.2 1488.1 L 324.8 1487.9 L 324.4 1487.7 L 324.0 1487.4 L 323.6 1487.1 L 323.3 1486.8 L 322.9 1486.4 L 322.6 1486.1 L 322.2 1485.7 L 321.9 1485.3 L 321.6 1484.9 L 321.3 1484.5 L 321.0 1484.0 L 320.7 1483.6 L 320.4 1483.1 L 320.1 1482.6 L 319.8 1482.1 L 319.6 1481.5 L 319.3 1480.9 L 319.1 1480.3 L 318.9 1479.7 L 318.7 1479.1 L 318.5 1478.3 L 318.4 1477.5 L 317.8 1477.6 L 317.1 1478.0 L 316.5 1478.3 L 315.8 1478.6 L 315.2 1478.8 L 314.6 1479.0 L 314.1 1479.2 L 313.5 1479.3 L 312.9 1479.5 L 312.4 1479.6 L 311.9 1479.7 L 311.3 1479.8 L 310.8 1479.9 L 310.3 1479.9 L 309.8 1480.0 L 309.3 1480.0 L 308.9 1480.0 L 308.4 1479.9 L 307.9 1479.9 L 307.5 1479.8 L 307.1 1479.8 L 306.6 1479.7 L 306.2 1479.6 L 305.8 1479.4 L 305.4 1479.3 L 305.0 1479.1 L 304.6 1478.9 L 304.2 1478.7 L 303.9 1478.5 L 303.5 1478.2 L 303.1 1477.9 L 302.8 1477.7 L 302.4 1477.3 L 302.1 1477.0 L 301.8 1476.7 L 301.4 1476.3 L 301.1 1475.9 L 300.8 1475.5 L 300.5 1475.1 L 300.1 1474.6 L 299.8 1474.2 L 299.5 1473.7 L 299.2 1473.2 L 298.9 1472.6 L 298.6 1472.1 L 298.4 1471.5 L 298.1 1470.8 L 297.8 1470.0 L 297.4 1470.1 L 296.8 1470.6 L 296.2 1471.1 L 295.7 1471.4 L 295.2 1471.8 L 294.7 1472.1 L 294.1 1472.4 L 293.7 1472.7 L 293.2 1472.9 L 292.7 1473.2 L 292.2 1473.4 L 291.8 1473.6 L 291.3 1473.7 L 290.9 1473.9 L 290.4 1474.0 L 290.0 1474.2 L 289.6 1474.3 L 289.2 1474.3 L 288.7 1474.4 L 288.3 1474.5 L 287.9 1474.5 L 287.5 1474.5 L 287.1 1474.5 L 286.7 1474.4 L 286.3 1474.4 L 285.9 1474.3 L 285.6 1474.2 L 285.2 1474.1 L 284.8 1474.0 L 284.4 1473.8 L 284.0 1473.6 L 283.7 1473.4 L 283.3 1473.2 L 282.9 1473.0 L 282.5 1472.7 L 282.2 1472.5 L 281.8 1472.2 L 281.4 1471.9 L 281.0 1471.5 L 280.6 1471.2 L 280.2 1470.8 L 279.8 1470.4 L 279.4 1470.0 L 279.0 1469.6 L 278.6 1469.1 L 278.2 1468.6 L 277.8 1468.0 L 277.4 1467.3 L 277.0 1467.3 L 276.6 1468.0 L 276.1 1468.6 L 275.7 1469.1 L 275.3 1469.6 L 274.9 1470.0 L 274.5 1470.5 L 274.2 1470.8 L 273.8 1471.2 L 273.4 1471.6 L 273.0 1471.9 L 272.6 1472.2 L 272.3 1472.5 L 271.9 1472.8 L 271.5 1473.0 L 271.1 1473.3 L 270.8 1473.5 L 270.4 1473.7 L 270.0 1473.9 L 269.6 1474.0 L 269.2 1474.1 L 268.9 1474.3 L 268.5 1474.4 L 268.1 1474.4 L 267.7 1474.5 L 267.3 1474.5 L 266.9 1474.5 L 266.5 1474.5 L 266.1 1474.5 L 265.7 1474.5 L 265.3 1474.4 L 264.9 1474.3 L 264.4 1474.2 L 264.0 1474.1 L 263.6 1474.0 L 263.1 1473.8 L 262.7 1473.7 L 262.2 1473.5 L 261.7 1473.3 L 261.3 1473.0 L 260.8 1472.8 L 260.3 1472.5 L 259.8 1472.2 L 259.2 1471.9 L 258.7 1471.6 L 258.2 1471.2 L 257.6 1470.8 L 257.0 1470.2 L 256.5 1470.3 L 256.3 1471.1 L 256.1 1471.7 L 255.8 1472.3 L 255.5 1472.9 L 255.2 1473.5 L 254.9 1474.0 L 254.6 1474.5 L 254.3 1474.9 L 254.0 1475.4 L 253.7 1475.8 L 253.4 1476.2 L 253.1 1476.6 L 252.8 1477.0 L 252.5 1477.4 L 252.1 1477.7 L 251.8 1478.0 L 251.4 1478.3 L 251.1 1478.6 L 250.7 1478.8 L 250.4 1479.1 L 250.0 1479.3 L 249.6 1479.5 L 249.2 1479.7 L 248.8 1479.9 L 248.4 1480.0 L 248.0 1480.2 L 247.6 1480.3 L 247.1 1480.4 L 246.7 1480.4 L 246.2 1480.5 L 245.8 1480.5 L 245.3 1480.6 L 244.8 1480.6 L 244.3 1480.6 L 243.8 1480.5 L 243.3 1480.5 L 242.7 1480.4 L 242.2 1480.3 L 241.6 1480.2 L 241.1 1480.1 L 240.5 1480.0 L 239.9 1479.9 L 239.3 1479.7 L 238.6 1479.5 L 238.0 1479.3 L 237.3 1479.0 L 236.6 1478.6 L 236.0 1478.6 L 236.0 1479.5 L 235.8 1480.2 L 235.6 1480.9 L 235.4 1481.6 L 235.2 1482.2 L 235.0 1482.8 L 234.8 1483.3 L 234.5 1483.9 L 234.3 1484.4 L 234.0 1484.9 L 233.7 1485.4 L 233.4 1485.9 L 233.2 1486.3 L 232.9 1486.7 L 232.5 1487.2 L 232.2 1487.6 L 231.9 1487.9 L 231.5 1488.3 L 231.2 1488.7 L 230.8 1489.0 L 230.4 1489.3 L 230.1 1489.6 L 229.7 1489.9 Z" fill="#fff"/>
<g clip-path="url(#dc448)"><line x1="222.5" y1="1475.5" x2="231.9" y2="1490.9" stroke="#303030" stroke-width="1.7"/><line x1="226.7" y1="1473.0" x2="235.7" y2="1488.6" stroke="#303030" stroke-width="1.7"/><line x1="231.0" y1="1470.7" x2="239.4" y2="1486.6" stroke="#303030" stroke-width="1.7"/><line x1="235.2" y1="1468.5" x2="243.2" y2="1484.6" stroke="#303030" stroke-width="1.7"/><line x1="239.5" y1="1466.5" x2="246.9" y2="1482.9" stroke="#303030" stroke-width="1.7"/><line x1="243.8" y1="1464.6" x2="250.6" y2="1481.3" stroke="#303030" stroke-width="1.7"/><line x1="248.2" y1="1463.0" x2="254.2" y2="1479.9" stroke="#303030" stroke-width="1.7"/><line x1="252.6" y1="1461.5" x2="257.8" y2="1478.8" stroke="#303030" stroke-width="1.7"/><line x1="257.0" y1="1460.3" x2="261.4" y2="1477.8" stroke="#303030" stroke-width="1.7"/><line x1="261.5" y1="1459.3" x2="264.9" y2="1477.0" stroke="#303030" stroke-width="1.7"/><line x1="266.0" y1="1458.6" x2="268.4" y2="1476.4" stroke="#303030" stroke-width="1.7"/><line x1="270.4" y1="1458.1" x2="272.0" y2="1476.0" stroke="#303030" stroke-width="1.7"/><line x1="274.9" y1="1457.8" x2="275.5" y2="1475.8" stroke="#303030" stroke-width="1.7"/><line x1="279.4" y1="1457.8" x2="279.0" y2="1475.8" stroke="#303030" stroke-width="1.7"/><line x1="283.9" y1="1458.0" x2="282.5" y2="1476.0" stroke="#303030" stroke-width="1.7"/><line x1="288.4" y1="1458.5" x2="286.0" y2="1476.4" stroke="#303030" stroke-width="1.7"/><line x1="292.8" y1="1459.2" x2="289.6" y2="1476.9" stroke="#303030" stroke-width="1.7"/><line x1="297.2" y1="1460.1" x2="293.2" y2="1477.7" stroke="#303030" stroke-width="1.7"/><line x1="301.6" y1="1461.2" x2="296.8" y2="1478.6" stroke="#303030" stroke-width="1.7"/><line x1="306.0" y1="1462.5" x2="300.4" y2="1479.7" stroke="#303030" stroke-width="1.7"/><line x1="310.3" y1="1464.0" x2="304.1" y2="1480.9" stroke="#303030" stroke-width="1.7"/><line x1="314.5" y1="1465.6" x2="307.9" y2="1482.4" stroke="#303030" stroke-width="1.7"/><line x1="318.8" y1="1467.4" x2="311.6" y2="1483.9" stroke="#303030" stroke-width="1.7"/><line x1="323.0" y1="1469.3" x2="315.4" y2="1485.6" stroke="#303030" stroke-width="1.7"/><line x1="327.1" y1="1471.2" x2="319.3" y2="1487.4" stroke="#303030" stroke-width="1.7"/><line x1="331.2" y1="1473.3" x2="323.2" y2="1489.4" stroke="#303030" stroke-width="1.7"/></g>
<path d="M 222.3 1477.9 L 222.8 1477.7 L 223.3 1477.5 L 223.7 1477.3 L 224.2 1477.1 L 224.7 1476.9 L 225.3 1476.8 L 225.8 1476.6 L 226.3 1476.5 L 226.9 1476.5 L 227.4 1476.4 L 228.0 1476.4 L 228.6 1476.3 L 229.1 1476.3 L 229.7 1476.4 L 230.3 1476.4 L 230.9 1476.5 L 231.6 1476.6 L 232.2 1476.7 L 232.9 1476.8 L 233.5 1477.0 L 234.2 1477.2 L 234.9 1477.5 L 235.7 1477.9 L 236.0 1477.5 L 236.1 1476.6 L 236.3 1475.9 L 236.5 1475.3 L 236.7 1474.6 L 237.0 1474.0 L 237.2 1473.5 L 237.5 1472.9 L 237.8 1472.4 L 238.1 1471.9 L 238.4 1471.4 L 238.7 1470.9 L 239.1 1470.5 L 239.4 1470.0 L 239.8 1469.6 L 240.1 1469.2 L 240.5 1468.9 L 240.9 1468.5 L 241.3 1468.2 L 241.7 1467.9 L 242.1 1467.6 L 242.6 1467.4 L 243.0 1467.2 L 243.5 1466.9 L 243.9 1466.8 L 244.4 1466.6 L 244.8 1466.5 L 245.3 1466.3 L 245.8 1466.2 L 246.3 1466.2 L 246.8 1466.1 L 247.3 1466.1 L 247.9 1466.1 L 248.4 1466.1 L 248.9 1466.2 L 249.4 1466.2 L 250.0 1466.3 L 250.5 1466.5 L 251.1 1466.6 L 251.6 1466.8 L 252.2 1466.9 L 252.8 1467.2 L 253.3 1467.4 L 253.9 1467.7 L 254.5 1468.0 L 255.1 1468.4 L 255.7 1468.8 L 256.3 1469.3 L 256.7 1469.1 L 256.9 1468.3 L 257.2 1467.7 L 257.5 1467.1 L 257.9 1466.5 L 258.2 1466.0 L 258.5 1465.5 L 258.9 1465.0 L 259.3 1464.6 L 259.7 1464.1 L 260.0 1463.7 L 260.4 1463.4 L 260.8 1463.0 L 261.2 1462.7 L 261.7 1462.4 L 262.1 1462.1 L 262.5 1461.8 L 263.0 1461.6 L 263.4 1461.4 L 263.8 1461.2 L 264.3 1461.0 L 264.7 1460.9 L 265.2 1460.7 L 265.7 1460.6 L 266.1 1460.6 L 266.6 1460.5 L 267.1 1460.5 L 267.6 1460.5 L 268.0 1460.6 L 268.5 1460.6 L 269.0 1460.7 L 269.5 1460.8 L 270.0 1460.9 L 270.4 1461.1 L 270.9 1461.3 L 271.4 1461.5 L 271.9 1461.7 L 272.4 1462.0 L 272.8 1462.2 L 273.3 1462.5 L 273.8 1462.9 L 274.3 1463.2 L 274.7 1463.6 L 275.2 1464.0 L 275.6 1464.5 L 276.1 1465.0 L 276.5 1465.5 L 277.0 1466.2 L 277.4 1466.3 L 277.8 1465.6 L 278.3 1465.0 L 278.7 1464.5 L 279.2 1464.1 L 279.6 1463.6 L 280.1 1463.2 L 280.6 1462.9 L 281.0 1462.6 L 281.5 1462.2 L 282.0 1462.0 L 282.4 1461.7 L 282.9 1461.5 L 283.4 1461.3 L 283.9 1461.1 L 284.4 1460.9 L 284.8 1460.8 L 285.3 1460.7 L 285.8 1460.6 L 286.3 1460.5 L 286.8 1460.5 L 287.2 1460.5 L 287.7 1460.5 L 288.2 1460.5 L 288.6 1460.6 L 289.1 1460.7 L 289.6 1460.8 L 290.0 1460.9 L 290.5 1461.1 L 290.9 1461.2 L 291.3 1461.4 L 291.8 1461.7 L 292.2 1461.9 L 292.6 1462.2 L 293.1 1462.5 L 293.5 1462.8 L 293.9 1463.2 L 294.3 1463.6 L 294.7 1464.0 L 295.0 1464.4 L 295.4 1464.8 L 295.8 1465.3 L 296.1 1465.8 L 296.5 1466.3 L 296.8 1466.8 L 297.1 1467.4 L 297.4 1468.1 L 297.7 1468.8 L 298.1 1469.2 L 298.7 1468.6 L 299.3 1468.1 L 299.8 1467.8 L 300.4 1467.4 L 301.0 1467.1 L 301.5 1466.9 L 302.1 1466.6 L 302.6 1466.4 L 303.2 1466.3 L 303.7 1466.1 L 304.2 1466.0 L 304.8 1465.9 L 305.3 1465.8 L 305.8 1465.7 L 306.3 1465.7 L 306.8 1465.6 L 307.4 1465.6 L 307.8 1465.7 L 308.3 1465.7 L 308.8 1465.8 L 309.3 1465.9 L 309.8 1466.0 L 310.2 1466.1 L 310.7 1466.3 L 311.1 1466.5 L 311.6 1466.7 L 312.0 1466.9 L 312.4 1467.2 L 312.8 1467.5 L 313.2 1467.8 L 313.6 1468.1 L 314.0 1468.4 L 314.4 1468.8 L 314.7 1469.2 L 315.1 1469.6 L 315.4 1470.0 L 315.8 1470.4 L 316.1 1470.9 L 316.4 1471.4 L 316.7 1471.9 L 317.0 1472.4 L 317.3 1473.0 L 317.5 1473.6 L 317.8 1474.2 L 318.0 1474.8 L 318.2 1475.5 L 318.4 1476.3 L 318.7 1476.8 L 319.4 1476.3 L 320.1 1476.0 L 320.7 1475.7 L 321.4 1475.5 L 322.0 1475.3 L 322.6 1475.2 L 323.2 1475.0 L 323.8 1474.9 L 324.4 1474.8 L 324.9 1474.7 L 325.5 1474.7 L 326.1 1474.7 L 326.6 1474.6 L 327.1 1474.7 L 327.7 1474.7 L 328.2 1474.7 L 328.7 1474.8 L 329.2 1474.9 L 329.7 1475.0 L 330.2 1475.1 L 330.6 1475.3 L 331.1 1475.5 L 331.5 1475.7 L 332.0 1475.9 L 325.6 1488.4 L 325.2 1488.1 L 324.8 1487.9 L 324.4 1487.7 L 324.0 1487.4 L 323.6 1487.1 L 323.3 1486.8 L 322.9 1486.4 L 322.6 1486.1 L 322.2 1485.7 L 321.9 1485.3 L 321.6 1484.9 L 321.3 1484.5 L 321.0 1484.0 L 320.7 1483.6 L 320.4 1483.1 L 320.1 1482.6 L 319.8 1482.1 L 319.6 1481.5 L 319.3 1480.9 L 319.1 1480.3 L 318.9 1479.7 L 318.7 1479.1 L 318.5 1478.3 L 318.4 1477.5 L 317.8 1477.6 L 317.1 1478.0 L 316.5 1478.3 L 315.8 1478.6 L 315.2 1478.8 L 314.6 1479.0 L 314.1 1479.2 L 313.5 1479.3 L 312.9 1479.5 L 312.4 1479.6 L 311.9 1479.7 L 311.3 1479.8 L 310.8 1479.9 L 310.3 1479.9 L 309.8 1480.0 L 309.3 1480.0 L 308.9 1480.0 L 308.4 1479.9 L 307.9 1479.9 L 307.5 1479.8 L 307.1 1479.8 L 306.6 1479.7 L 306.2 1479.6 L 305.8 1479.4 L 305.4 1479.3 L 305.0 1479.1 L 304.6 1478.9 L 304.2 1478.7 L 303.9 1478.5 L 303.5 1478.2 L 303.1 1477.9 L 302.8 1477.7 L 302.4 1477.3 L 302.1 1477.0 L 301.8 1476.7 L 301.4 1476.3 L 301.1 1475.9 L 300.8 1475.5 L 300.5 1475.1 L 300.1 1474.6 L 299.8 1474.2 L 299.5 1473.7 L 299.2 1473.2 L 298.9 1472.6 L 298.6 1472.1 L 298.4 1471.5 L 298.1 1470.8 L 297.8 1470.0 L 297.4 1470.1 L 296.8 1470.6 L 296.2 1471.1 L 295.7 1471.4 L 295.2 1471.8 L 294.7 1472.1 L 294.1 1472.4 L 293.7 1472.7 L 293.2 1472.9 L 292.7 1473.2 L 292.2 1473.4 L 291.8 1473.6 L 291.3 1473.7 L 290.9 1473.9 L 290.4 1474.0 L 290.0 1474.2 L 289.6 1474.3 L 289.2 1474.3 L 288.7 1474.4 L 288.3 1474.5 L 287.9 1474.5 L 287.5 1474.5 L 287.1 1474.5 L 286.7 1474.4 L 286.3 1474.4 L 285.9 1474.3 L 285.6 1474.2 L 285.2 1474.1 L 284.8 1474.0 L 284.4 1473.8 L 284.0 1473.6 L 283.7 1473.4 L 283.3 1473.2 L 282.9 1473.0 L 282.5 1472.7 L 282.2 1472.5 L 281.8 1472.2 L 281.4 1471.9 L 281.0 1471.5 L 280.6 1471.2 L 280.2 1470.8 L 279.8 1470.4 L 279.4 1470.0 L 279.0 1469.6 L 278.6 1469.1 L 278.2 1468.6 L 277.8 1468.0 L 277.4 1467.3 L 277.0 1467.3 L 276.6 1468.0 L 276.1 1468.6 L 275.7 1469.1 L 275.3 1469.6 L 274.9 1470.0 L 274.5 1470.5 L 274.2 1470.8 L 273.8 1471.2 L 273.4 1471.6 L 273.0 1471.9 L 272.6 1472.2 L 272.3 1472.5 L 271.9 1472.8 L 271.5 1473.0 L 271.1 1473.3 L 270.8 1473.5 L 270.4 1473.7 L 270.0 1473.9 L 269.6 1474.0 L 269.2 1474.1 L 268.9 1474.3 L 268.5 1474.4 L 268.1 1474.4 L 267.7 1474.5 L 267.3 1474.5 L 266.9 1474.5 L 266.5 1474.5 L 266.1 1474.5 L 265.7 1474.5 L 265.3 1474.4 L 264.9 1474.3 L 264.4 1474.2 L 264.0 1474.1 L 263.6 1474.0 L 263.1 1473.8 L 262.7 1473.7 L 262.2 1473.5 L 261.7 1473.3 L 261.3 1473.0 L 260.8 1472.8 L 260.3 1472.5 L 259.8 1472.2 L 259.2 1471.9 L 258.7 1471.6 L 258.2 1471.2 L 257.6 1470.8 L 257.0 1470.2 L 256.5 1470.3 L 256.3 1471.1 L 256.1 1471.7 L 255.8 1472.3 L 255.5 1472.9 L 255.2 1473.5 L 254.9 1474.0 L 254.6 1474.5 L 254.3 1474.9 L 254.0 1475.4 L 253.7 1475.8 L 253.4 1476.2 L 253.1 1476.6 L 252.8 1477.0 L 252.5 1477.4 L 252.1 1477.7 L 251.8 1478.0 L 251.4 1478.3 L 251.1 1478.6 L 250.7 1478.8 L 250.4 1479.1 L 250.0 1479.3 L 249.6 1479.5 L 249.2 1479.7 L 248.8 1479.9 L 248.4 1480.0 L 248.0 1480.2 L 247.6 1480.3 L 247.1 1480.4 L 246.7 1480.4 L 246.2 1480.5 L 245.8 1480.5 L 245.3 1480.6 L 244.8 1480.6 L 244.3 1480.6 L 243.8 1480.5 L 243.3 1480.5 L 242.7 1480.4 L 242.2 1480.3 L 241.6 1480.2 L 241.1 1480.1 L 240.5 1480.0 L 239.9 1479.9 L 239.3 1479.7 L 238.6 1479.5 L 238.0 1479.3 L 237.3 1479.0 L 236.6 1478.6 L 236.0 1478.6 L 236.0 1479.5 L 235.8 1480.2 L 235.6 1480.9 L 235.4 1481.6 L 235.2 1482.2 L 235.0 1482.8 L 234.8 1483.3 L 234.5 1483.9 L 234.3 1484.4 L 234.0 1484.9 L 233.7 1485.4 L 233.4 1485.9 L 233.2 1486.3 L 232.9 1486.7 L 232.5 1487.2 L 232.2 1487.6 L 231.9 1487.9 L 231.5 1488.3 L 231.2 1488.7 L 230.8 1489.0 L 230.4 1489.3 L 230.1 1489.6 L 229.7 1489.9 Z" fill="none" stroke="#444" stroke-width="1.2"/>
<path d="M 229.7 1489.9 L 230.1 1489.6 L 230.4 1489.3 L 230.8 1489.0 L 231.2 1488.7 L 231.5 1488.3 L 231.9 1487.9 L 232.2 1487.6 L 232.5 1487.2 L 232.9 1486.7 L 233.2 1486.3 L 233.4 1485.9 L 233.7 1485.4 L 234.0 1484.9 L 234.3 1484.4 L 234.5 1483.9 L 234.8 1483.3 L 235.0 1482.8 L 235.2 1482.2 L 235.4 1481.6 L 235.6 1480.9 L 235.8 1480.2 L 236.0 1479.5 L 236.0 1478.6 L 236.0 1477.5 L 236.1 1476.6 L 236.3 1475.9 L 236.5 1475.3 L 236.7 1474.6 L 237.0 1474.0 L 237.2 1473.5 L 237.5 1472.9 L 237.8 1472.4 L 238.1 1471.9 L 238.4 1471.4 L 238.7 1470.9 L 239.1 1470.5 L 239.4 1470.0 L 239.8 1469.6 L 240.1 1469.2 L 240.5 1468.9 L 240.9 1468.5 L 241.3 1468.2 L 241.7 1467.9 L 242.1 1467.6 L 242.6 1467.4 L 243.0 1467.2 L 243.5 1466.9 L 243.9 1466.8 L 244.4 1466.6 L 244.8 1466.5 L 245.3 1466.3 L 245.8 1466.2 L 246.3 1466.2 L 246.8 1466.1 L 247.3 1466.1 L 247.9 1466.1 L 248.4 1466.1 L 248.9 1466.2 L 249.4 1466.2 L 250.0 1466.3 L 250.5 1466.5 L 251.1 1466.6 L 251.6 1466.8 L 252.2 1466.9 L 252.8 1467.2 L 253.3 1467.4 L 253.9 1467.7 L 254.5 1468.0 L 255.1 1468.4 L 255.7 1468.8 L 256.3 1469.3 L 257.0 1470.2 L 257.6 1470.8 L 258.2 1471.2 L 258.7 1471.6 L 259.2 1471.9 L 259.8 1472.2 L 260.3 1472.5 L 260.8 1472.8 L 261.3 1473.0 L 261.7 1473.3 L 262.2 1473.5 L 262.7 1473.7 L 263.1 1473.8 L 263.6 1474.0 L 264.0 1474.1 L 264.4 1474.2 L 264.9 1474.3 L 265.3 1474.4 L 265.7 1474.5 L 266.1 1474.5 L 266.5 1474.5 L 266.9 1474.5 L 267.3 1474.5 L 267.7 1474.5 L 268.1 1474.4 L 268.5 1474.4 L 268.9 1474.3 L 269.2 1474.1 L 269.6 1474.0 L 270.0 1473.9 L 270.4 1473.7 L 270.8 1473.5 L 271.1 1473.3 L 271.5 1473.0 L 271.9 1472.8 L 272.3 1472.5 L 272.6 1472.2 L 273.0 1471.9 L 273.4 1471.6 L 273.8 1471.2 L 274.2 1470.8 L 274.5 1470.5 L 274.9 1470.0 L 275.3 1469.6 L 275.7 1469.1 L 276.1 1468.6 L 276.6 1468.0 L 277.0 1467.3 L 277.4 1466.3 L 277.8 1465.6 L 278.3 1465.0 L 278.7 1464.5 L 279.2 1464.1 L 279.6 1463.6 L 280.1 1463.2 L 280.6 1462.9 L 281.0 1462.6 L 281.5 1462.2 L 282.0 1462.0 L 282.4 1461.7 L 282.9 1461.5 L 283.4 1461.3 L 283.9 1461.1 L 284.4 1460.9 L 284.8 1460.8 L 285.3 1460.7 L 285.8 1460.6 L 286.3 1460.5 L 286.8 1460.5 L 287.2 1460.5 L 287.7 1460.5 L 288.2 1460.5 L 288.6 1460.6 L 289.1 1460.7 L 289.6 1460.8 L 290.0 1460.9 L 290.5 1461.1 L 290.9 1461.2 L 291.3 1461.4 L 291.8 1461.7 L 292.2 1461.9 L 292.6 1462.2 L 293.1 1462.5 L 293.5 1462.8 L 293.9 1463.2 L 294.3 1463.6 L 294.7 1464.0 L 295.0 1464.4 L 295.4 1464.8 L 295.8 1465.3 L 296.1 1465.8 L 296.5 1466.3 L 296.8 1466.8 L 297.1 1467.4 L 297.4 1468.1 L 297.7 1468.8 L 297.8 1470.0 L 298.1 1470.8 L 298.4 1471.5 L 298.6 1472.1 L 298.9 1472.6 L 299.2 1473.2 L 299.5 1473.7 L 299.8 1474.2 L 300.1 1474.6 L 300.5 1475.1 L 300.8 1475.5 L 301.1 1475.9 L 301.4 1476.3 L 301.8 1476.7 L 302.1 1477.0 L 302.4 1477.3 L 302.8 1477.7 L 303.1 1477.9 L 303.5 1478.2 L 303.9 1478.5 L 304.2 1478.7 L 304.6 1478.9 L 305.0 1479.1 L 305.4 1479.3 L 305.8 1479.4 L 306.2 1479.6 L 306.6 1479.7 L 307.1 1479.8 L 307.5 1479.8 L 307.9 1479.9 L 308.4 1479.9 L 308.9 1480.0 L 309.3 1480.0 L 309.8 1480.0 L 310.3 1479.9 L 310.8 1479.9 L 311.3 1479.8 L 311.9 1479.7 L 312.4 1479.6 L 312.9 1479.5 L 313.5 1479.3 L 314.1 1479.2 L 314.6 1479.0 L 315.2 1478.8 L 315.8 1478.6 L 316.5 1478.3 L 317.1 1478.0 L 317.8 1477.6 L 318.7 1476.8 L 319.4 1476.3 L 320.1 1476.0 L 320.7 1475.7 L 321.4 1475.5 L 322.0 1475.3 L 322.6 1475.2 L 323.2 1475.0 L 323.8 1474.9 L 324.4 1474.8 L 324.9 1474.7 L 325.5 1474.7 L 326.1 1474.7 L 326.6 1474.6 L 327.1 1474.7 L 327.7 1474.7 L 328.2 1474.7 L 328.7 1474.8 L 329.2 1474.9 L 329.7 1475.0 L 330.2 1475.1 L 330.6 1475.3 L 331.1 1475.5 L 331.5 1475.7 L 332.0 1475.9" fill="none" stroke="#4a4a4a" stroke-width="2.6"/>
<path d="M 229.7 1489.9 L 230.1 1489.6 L 230.4 1489.3 L 230.8 1489.0 L 231.2 1488.7 L 231.5 1488.3 L 231.9 1487.9 L 232.2 1487.6 L 232.5 1487.2 L 232.9 1486.7 L 233.2 1486.3 L 233.4 1485.9 L 233.7 1485.4 L 234.0 1484.9 L 234.3 1484.4 L 234.5 1483.9 L 234.8 1483.3 L 235.0 1482.8 L 235.2 1482.2 L 235.4 1481.6 L 235.6 1480.9 L 235.8 1480.2 L 236.0 1479.5 L 236.0 1478.6 L 236.0 1477.5 L 236.1 1476.6 L 236.3 1475.9 L 236.5 1475.3 L 236.7 1474.6 L 237.0 1474.0 L 237.2 1473.5 L 237.5 1472.9 L 237.8 1472.4 L 238.1 1471.9 L 238.4 1471.4 L 238.7 1470.9 L 239.1 1470.5 L 239.4 1470.0 L 239.8 1469.6 L 240.1 1469.2 L 240.5 1468.9 L 240.9 1468.5 L 241.3 1468.2 L 241.7 1467.9 L 242.1 1467.6 L 242.6 1467.4 L 243.0 1467.2 L 243.5 1466.9 L 243.9 1466.8 L 244.4 1466.6 L 244.8 1466.5 L 245.3 1466.3 L 245.8 1466.2 L 246.3 1466.2 L 246.8 1466.1 L 247.3 1466.1 L 247.9 1466.1 L 248.4 1466.1 L 248.9 1466.2 L 249.4 1466.2 L 250.0 1466.3 L 250.5 1466.5 L 251.1 1466.6 L 251.6 1466.8 L 252.2 1466.9 L 252.8 1467.2 L 253.3 1467.4 L 253.9 1467.7 L 254.5 1468.0 L 255.1 1468.4 L 255.7 1468.8 L 256.3 1469.3 L 257.0 1470.2 L 257.6 1470.8 L 258.2 1471.2 L 258.7 1471.6 L 259.2 1471.9 L 259.8 1472.2 L 260.3 1472.5 L 260.8 1472.8 L 261.3 1473.0 L 261.7 1473.3 L 262.2 1473.5 L 262.7 1473.7 L 263.1 1473.8 L 263.6 1474.0 L 264.0 1474.1 L 264.4 1474.2 L 264.9 1474.3 L 265.3 1474.4 L 265.7 1474.5 L 266.1 1474.5 L 266.5 1474.5 L 266.9 1474.5 L 267.3 1474.5 L 267.7 1474.5 L 268.1 1474.4 L 268.5 1474.4 L 268.9 1474.3 L 269.2 1474.1 L 269.6 1474.0 L 270.0 1473.9 L 270.4 1473.7 L 270.8 1473.5 L 271.1 1473.3 L 271.5 1473.0 L 271.9 1472.8 L 272.3 1472.5 L 272.6 1472.2 L 273.0 1471.9 L 273.4 1471.6 L 273.8 1471.2 L 274.2 1470.8 L 274.5 1470.5 L 274.9 1470.0 L 275.3 1469.6 L 275.7 1469.1 L 276.1 1468.6 L 276.6 1468.0 L 277.0 1467.3 L 277.4 1466.3 L 277.8 1465.6 L 278.3 1465.0 L 278.7 1464.5 L 279.2 1464.1 L 279.6 1463.6 L 280.1 1463.2 L 280.6 1462.9 L 281.0 1462.6 L 281.5 1462.2 L 282.0 1462.0 L 282.4 1461.7 L 282.9 1461.5 L 283.4 1461.3 L 283.9 1461.1 L 284.4 1460.9 L 284.8 1460.8 L 285.3 1460.7 L 285.8 1460.6 L 286.3 1460.5 L 286.8 1460.5 L 287.2 1460.5 L 287.7 1460.5 L 288.2 1460.5 L 288.6 1460.6 L 289.1 1460.7 L 289.6 1460.8 L 290.0 1460.9 L 290.5 1461.1 L 290.9 1461.2 L 291.3 1461.4 L 291.8 1461.7 L 292.2 1461.9 L 292.6 1462.2 L 293.1 1462.5 L 293.5 1462.8 L 293.9 1463.2 L 294.3 1463.6 L 294.7 1464.0 L 295.0 1464.4 L 295.4 1464.8 L 295.8 1465.3 L 296.1 1465.8 L 296.5 1466.3 L 296.8 1466.8 L 297.1 1467.4 L 297.4 1468.1 L 297.7 1468.8 L 297.8 1470.0 L 298.1 1470.8 L 298.4 1471.5 L 298.6 1472.1 L 298.9 1472.6 L 299.2 1473.2 L 299.5 1473.7 L 299.8 1474.2 L 300.1 1474.6 L 300.5 1475.1 L 300.8 1475.5 L 301.1 1475.9 L 301.4 1476.3 L 301.8 1476.7 L 302.1 1477.0 L 302.4 1477.3 L 302.8 1477.7 L 303.1 1477.9 L 303.5 1478.2 L 303.9 1478.5 L 304.2 1478.7 L 304.6 1478.9 L 305.0 1479.1 L 305.4 1479.3 L 305.8 1479.4 L 306.2 1479.6 L 306.6 1479.7 L 307.1 1479.8 L 307.5 1479.8 L 307.9 1479.9 L 308.4 1479.9 L 308.9 1480.0 L 309.3 1480.0 L 309.8 1480.0 L 310.3 1479.9 L 310.8 1479.9 L 311.3 1479.8 L 311.9 1479.7 L 312.4 1479.6 L 312.9 1479.5 L 313.5 1479.3 L 314.1 1479.2 L 314.6 1479.0 L 315.2 1478.8 L 315.8 1478.6 L 316.5 1478.3 L 317.1 1478.0 L 317.8 1477.6 L 318.7 1476.8 L 319.4 1476.3 L 320.1 1476.0 L 320.7 1475.7 L 321.4 1475.5 L 322.0 1475.3 L 322.6 1475.2 L 323.2 1475.0 L 323.8 1474.9 L 324.4 1474.8 L 324.9 1474.7 L 325.5 1474.7 L 326.1 1474.7 L 326.6 1474.6 L 327.1 1474.7 L 327.7 1474.7 L 328.2 1474.7 L 328.7 1474.8 L 329.2 1474.9 L 329.7 1475.0 L 330.2 1475.1 L 330.6 1475.3 L 331.1 1475.5 L 331.5 1475.7 L 332.0 1475.9" fill="none" stroke="#b8b8b8" stroke-width="1.3"/>
<path d="M 222.3 1477.9 L 222.8 1477.7 L 223.3 1477.5 L 223.7 1477.3 L 224.2 1477.1 L 224.7 1476.9 L 225.3 1476.8 L 225.8 1476.6 L 226.3 1476.5 L 226.9 1476.5 L 227.4 1476.4 L 228.0 1476.4 L 228.6 1476.3 L 229.1 1476.3 L 229.7 1476.4 L 230.3 1476.4 L 230.9 1476.5 L 231.6 1476.6 L 232.2 1476.7 L 232.9 1476.8 L 233.5 1477.0 L 234.2 1477.2 L 234.9 1477.5 L 235.7 1477.9 L 236.6 1478.6 L 237.3 1479.0 L 238.0 1479.3 L 238.6 1479.5 L 239.3 1479.7 L 239.9 1479.9 L 240.5 1480.0 L 241.1 1480.1 L 241.6 1480.2 L 242.2 1480.3 L 242.7 1480.4 L 243.3 1480.5 L 243.8 1480.5 L 244.3 1480.6 L 244.8 1480.6 L 245.3 1480.6 L 245.8 1480.5 L 246.2 1480.5 L 246.7 1480.4 L 247.1 1480.4 L 247.6 1480.3 L 248.0 1480.2 L 248.4 1480.0 L 248.8 1479.9 L 249.2 1479.7 L 249.6 1479.5 L 250.0 1479.3 L 250.4 1479.1 L 250.7 1478.8 L 251.1 1478.6 L 251.4 1478.3 L 251.8 1478.0 L 252.1 1477.7 L 252.5 1477.4 L 252.8 1477.0 L 253.1 1476.6 L 253.4 1476.2 L 253.7 1475.8 L 254.0 1475.4 L 254.3 1474.9 L 254.6 1474.5 L 254.9 1474.0 L 255.2 1473.5 L 255.5 1472.9 L 255.8 1472.3 L 256.1 1471.7 L 256.3 1471.1 L 256.5 1470.3 L 256.7 1469.1 L 256.9 1468.3 L 257.2 1467.7 L 257.5 1467.1 L 257.9 1466.5 L 258.2 1466.0 L 258.5 1465.5 L 258.9 1465.0 L 259.3 1464.6 L 259.7 1464.1 L 260.0 1463.7 L 260.4 1463.4 L 260.8 1463.0 L 261.2 1462.7 L 261.7 1462.4 L 262.1 1462.1 L 262.5 1461.8 L 263.0 1461.6 L 263.4 1461.4 L 263.8 1461.2 L 264.3 1461.0 L 264.7 1460.9 L 265.2 1460.7 L 265.7 1460.6 L 266.1 1460.6 L 266.6 1460.5 L 267.1 1460.5 L 267.6 1460.5 L 268.0 1460.6 L 268.5 1460.6 L 269.0 1460.7 L 269.5 1460.8 L 270.0 1460.9 L 270.4 1461.1 L 270.9 1461.3 L 271.4 1461.5 L 271.9 1461.7 L 272.4 1462.0 L 272.8 1462.2 L 273.3 1462.5 L 273.8 1462.9 L 274.3 1463.2 L 274.7 1463.6 L 275.2 1464.0 L 275.6 1464.5 L 276.1 1465.0 L 276.5 1465.5 L 277.0 1466.2 L 277.4 1467.3 L 277.8 1468.0 L 278.2 1468.6 L 278.6 1469.1 L 279.0 1469.6 L 279.4 1470.0 L 279.8 1470.4 L 280.2 1470.8 L 280.6 1471.2 L 281.0 1471.5 L 281.4 1471.9 L 281.8 1472.2 L 282.2 1472.5 L 282.5 1472.7 L 282.9 1473.0 L 283.3 1473.2 L 283.7 1473.4 L 284.0 1473.6 L 284.4 1473.8 L 284.8 1474.0 L 285.2 1474.1 L 285.6 1474.2 L 285.9 1474.3 L 286.3 1474.4 L 286.7 1474.4 L 287.1 1474.5 L 287.5 1474.5 L 287.9 1474.5 L 288.3 1474.5 L 288.7 1474.4 L 289.2 1474.3 L 289.6 1474.3 L 290.0 1474.2 L 290.4 1474.0 L 290.9 1473.9 L 291.3 1473.7 L 291.8 1473.6 L 292.2 1473.4 L 292.7 1473.2 L 293.2 1472.9 L 293.7 1472.7 L 294.1 1472.4 L 294.7 1472.1 L 295.2 1471.8 L 295.7 1471.4 L 296.2 1471.1 L 296.8 1470.6 L 297.4 1470.1 L 298.1 1469.2 L 298.7 1468.6 L 299.3 1468.1 L 299.8 1467.8 L 300.4 1467.4 L 301.0 1467.1 L 301.5 1466.9 L 302.1 1466.6 L 302.6 1466.4 L 303.2 1466.3 L 303.7 1466.1 L 304.2 1466.0 L 304.8 1465.9 L 305.3 1465.8 L 305.8 1465.7 L 306.3 1465.7 L 306.8 1465.6 L 307.4 1465.6 L 307.8 1465.7 L 308.3 1465.7 L 308.8 1465.8 L 309.3 1465.9 L 309.8 1466.0 L 310.2 1466.1 L 310.7 1466.3 L 311.1 1466.5 L 311.6 1466.7 L 312.0 1466.9 L 312.4 1467.2 L 312.8 1467.5 L 313.2 1467.8 L 313.6 1468.1 L 314.0 1468.4 L 314.4 1468.8 L 314.7 1469.2 L 315.1 1469.6 L 315.4 1470.0 L 315.8 1470.4 L 316.1 1470.9 L 316.4 1471.4 L 316.7 1471.9 L 317.0 1472.4 L 317.3 1473.0 L 317.5 1473.6 L 317.8 1474.2 L 318.0 1474.8 L 318.2 1475.5 L 318.4 1476.3 L 318.4 1477.5 L 318.5 1478.3 L 318.7 1479.1 L 318.9 1479.7 L 319.1 1480.3 L 319.3 1480.9 L 319.6 1481.5 L 319.8 1482.1 L 320.1 1482.6 L 320.4 1483.1 L 320.7 1483.6 L 321.0 1484.0 L 321.3 1484.5 L 321.6 1484.9 L 321.9 1485.3 L 322.2 1485.7 L 322.6 1486.1 L 322.9 1486.4 L 323.3 1486.8 L 323.6 1487.1 L 324.0 1487.4 L 324.4 1487.7 L 324.8 1487.9 L 325.2 1488.1 L 325.6 1488.4" fill="none" stroke="#4a4a4a" stroke-width="2.6"/>
<path d="M 222.3 1477.9 L 222.8 1477.7 L 223.3 1477.5 L 223.7 1477.3 L 224.2 1477.1 L 224.7 1476.9 L 225.3 1476.8 L 225.8 1476.6 L 226.3 1476.5 L 226.9 1476.5 L 227.4 1476.4 L 228.0 1476.4 L 228.6 1476.3 L 229.1 1476.3 L 229.7 1476.4 L 230.3 1476.4 L 230.9 1476.5 L 231.6 1476.6 L 232.2 1476.7 L 232.9 1476.8 L 233.5 1477.0 L 234.2 1477.2 L 234.9 1477.5 L 235.7 1477.9 L 236.6 1478.6 L 237.3 1479.0 L 238.0 1479.3 L 238.6 1479.5 L 239.3 1479.7 L 239.9 1479.9 L 240.5 1480.0 L 241.1 1480.1 L 241.6 1480.2 L 242.2 1480.3 L 242.7 1480.4 L 243.3 1480.5 L 243.8 1480.5 L 244.3 1480.6 L 244.8 1480.6 L 245.3 1480.6 L 245.8 1480.5 L 246.2 1480.5 L 246.7 1480.4 L 247.1 1480.4 L 247.6 1480.3 L 248.0 1480.2 L 248.4 1480.0 L 248.8 1479.9 L 249.2 1479.7 L 249.6 1479.5 L 250.0 1479.3 L 250.4 1479.1 L 250.7 1478.8 L 251.1 1478.6 L 251.4 1478.3 L 251.8 1478.0 L 252.1 1477.7 L 252.5 1477.4 L 252.8 1477.0 L 253.1 1476.6 L 253.4 1476.2 L 253.7 1475.8 L 254.0 1475.4 L 254.3 1474.9 L 254.6 1474.5 L 254.9 1474.0 L 255.2 1473.5 L 255.5 1472.9 L 255.8 1472.3 L 256.1 1471.7 L 256.3 1471.1 L 256.5 1470.3 L 256.7 1469.1 L 256.9 1468.3 L 257.2 1467.7 L 257.5 1467.1 L 257.9 1466.5 L 258.2 1466.0 L 258.5 1465.5 L 258.9 1465.0 L 259.3 1464.6 L 259.7 1464.1 L 260.0 1463.7 L 260.4 1463.4 L 260.8 1463.0 L 261.2 1462.7 L 261.7 1462.4 L 262.1 1462.1 L 262.5 1461.8 L 263.0 1461.6 L 263.4 1461.4 L 263.8 1461.2 L 264.3 1461.0 L 264.7 1460.9 L 265.2 1460.7 L 265.7 1460.6 L 266.1 1460.6 L 266.6 1460.5 L 267.1 1460.5 L 267.6 1460.5 L 268.0 1460.6 L 268.5 1460.6 L 269.0 1460.7 L 269.5 1460.8 L 270.0 1460.9 L 270.4 1461.1 L 270.9 1461.3 L 271.4 1461.5 L 271.9 1461.7 L 272.4 1462.0 L 272.8 1462.2 L 273.3 1462.5 L 273.8 1462.9 L 274.3 1463.2 L 274.7 1463.6 L 275.2 1464.0 L 275.6 1464.5 L 276.1 1465.0 L 276.5 1465.5 L 277.0 1466.2 L 277.4 1467.3 L 277.8 1468.0 L 278.2 1468.6 L 278.6 1469.1 L 279.0 1469.6 L 279.4 1470.0 L 279.8 1470.4 L 280.2 1470.8 L 280.6 1471.2 L 281.0 1471.5 L 281.4 1471.9 L 281.8 1472.2 L 282.2 1472.5 L 282.5 1472.7 L 282.9 1473.0 L 283.3 1473.2 L 283.7 1473.4 L 284.0 1473.6 L 284.4 1473.8 L 284.8 1474.0 L 285.2 1474.1 L 285.6 1474.2 L 285.9 1474.3 L 286.3 1474.4 L 286.7 1474.4 L 287.1 1474.5 L 287.5 1474.5 L 287.9 1474.5 L 288.3 1474.5 L 288.7 1474.4 L 289.2 1474.3 L 289.6 1474.3 L 290.0 1474.2 L 290.4 1474.0 L 290.9 1473.9 L 291.3 1473.7 L 291.8 1473.6 L 292.2 1473.4 L 292.7 1473.2 L 293.2 1472.9 L 293.7 1472.7 L 294.1 1472.4 L 294.7 1472.1 L 295.2 1471.8 L 295.7 1471.4 L 296.2 1471.1 L 296.8 1470.6 L 297.4 1470.1 L 298.1 1469.2 L 298.7 1468.6 L 299.3 1468.1 L 299.8 1467.8 L 300.4 1467.4 L 301.0 1467.1 L 301.5 1466.9 L 302.1 1466.6 L 302.6 1466.4 L 303.2 1466.3 L 303.7 1466.1 L 304.2 1466.0 L 304.8 1465.9 L 305.3 1465.8 L 305.8 1465.7 L 306.3 1465.7 L 306.8 1465.6 L 307.4 1465.6 L 307.8 1465.7 L 308.3 1465.7 L 308.8 1465.8 L 309.3 1465.9 L 309.8 1466.0 L 310.2 1466.1 L 310.7 1466.3 L 311.1 1466.5 L 311.6 1466.7 L 312.0 1466.9 L 312.4 1467.2 L 312.8 1467.5 L 313.2 1467.8 L 313.6 1468.1 L 314.0 1468.4 L 314.4 1468.8 L 314.7 1469.2 L 315.1 1469.6 L 315.4 1470.0 L 315.8 1470.4 L 316.1 1470.9 L 316.4 1471.4 L 316.7 1471.9 L 317.0 1472.4 L 317.3 1473.0 L 317.5 1473.6 L 317.8 1474.2 L 318.0 1474.8 L 318.2 1475.5 L 318.4 1476.3 L 318.4 1477.5 L 318.5 1478.3 L 318.7 1479.1 L 318.9 1479.7 L 319.1 1480.3 L 319.3 1480.9 L 319.6 1481.5 L 319.8 1482.1 L 320.1 1482.6 L 320.4 1483.1 L 320.7 1483.6 L 321.0 1484.0 L 321.3 1484.5 L 321.6 1484.9 L 321.9 1485.3 L 322.2 1485.7 L 322.6 1486.1 L 322.9 1486.4 L 323.3 1486.8 L 323.6 1487.1 L 324.0 1487.4 L 324.4 1487.7 L 324.8 1487.9 L 325.2 1488.1 L 325.6 1488.4" fill="none" stroke="#b8b8b8" stroke-width="1.3"/>
<line x1="222.3" y1="1477.9" x2="229.7" y2="1489.9" stroke="#2a2a2a" stroke-width="1.6"/>
<line x1="332.0" y1="1475.9" x2="325.6" y2="1488.4" stroke="#2a2a2a" stroke-width="1.6"/>
<clipPath id="dc458"><path d="M 197.0 1499.4 L 197.7 1499.3 L 198.4 1499.3 L 199.1 1499.4 L 199.8 1499.5 L 200.5 1499.6 L 201.2 1499.8 L 201.9 1500.1 L 202.6 1500.4 L 203.3 1500.7 L 204.0 1501.1 L 204.7 1501.6 L 205.4 1502.1 L 206.1 1502.6 L 206.8 1503.2 L 207.5 1503.9 L 208.2 1504.6 L 208.9 1505.3 L 209.6 1506.2 L 210.3 1507.2 L 211.1 1506.1 L 211.8 1505.2 L 212.5 1504.5 L 213.2 1503.8 L 213.9 1503.1 L 214.6 1502.6 L 215.3 1502.0 L 216.0 1501.5 L 216.7 1501.1 L 217.4 1500.7 L 218.1 1500.3 L 218.8 1500.0 L 219.5 1499.8 L 220.2 1499.6 L 220.9 1499.4 L 221.6 1499.3 L 222.3 1499.3 L 223.0 1499.3 L 223.7 1499.4 L 224.4 1499.5 L 225.1 1499.6 L 225.8 1499.9 L 226.5 1500.1 L 227.2 1500.4 L 227.9 1500.8 L 228.6 1501.2 L 229.3 1501.7 L 230.0 1502.2 L 230.7 1502.7 L 231.4 1503.3 L 232.1 1504.0 L 232.8 1504.7 L 233.5 1505.4 L 234.2 1506.3 L 234.9 1507.0 L 235.6 1506.0 L 236.3 1505.1 L 237.0 1504.4 L 237.7 1503.7 L 238.4 1503.1 L 239.2 1502.5 L 239.9 1502.0 L 240.6 1501.5 L 241.3 1501.0 L 242.0 1500.6 L 242.7 1500.3 L 243.4 1500.0 L 244.1 1499.8 L 244.8 1499.6 L 245.5 1499.4 L 246.2 1499.3 L 246.9 1499.3 L 247.6 1499.3 L 248.3 1499.4 L 249.0 1499.5 L 249.7 1499.7 L 250.4 1499.9 L 251.1 1500.2 L 251.8 1500.5 L 252.5 1500.8 L 253.2 1501.3 L 253.9 1501.7 L 254.6 1502.2 L 255.3 1502.8 L 256.0 1503.4 L 256.7 1504.0 L 257.4 1504.8 L 258.1 1505.5 L 258.8 1506.4 L 259.5 1506.8 L 260.2 1505.8 L 260.9 1505.0 L 261.6 1504.3 L 262.3 1503.6 L 263.0 1503.0 L 263.7 1502.4 L 264.4 1501.9 L 265.1 1501.4 L 265.8 1501.0 L 266.5 1500.6 L 267.2 1500.3 L 268.0 1500.0 L 268.7 1499.7 L 269.4 1499.6 L 270.1 1499.4 L 270.8 1499.3 L 271.5 1499.3 L 272.2 1499.3 L 272.9 1499.4 L 273.6 1499.5 L 274.3 1499.7 L 275.0 1499.9 L 275.7 1500.2 L 276.4 1500.5 L 277.1 1500.9 L 277.8 1501.3 L 278.5 1501.8 L 279.2 1502.3 L 279.9 1502.9 L 280.6 1503.5 L 281.3 1504.1 L 282.0 1504.8 L 282.7 1505.6 L 283.4 1506.6 L 284.1 1506.7 L 284.8 1505.7 L 285.5 1504.9 L 286.2 1504.2 L 286.9 1503.5 L 287.6 1502.9 L 288.3 1502.4 L 289.0 1501.8 L 289.7 1501.4 L 290.4 1500.9 L 291.1 1500.6 L 291.8 1500.2 L 292.5 1499.9 L 293.2 1499.7 L 293.9 1499.5 L 294.6 1499.4 L 295.4 1499.3 L 296.1 1499.3 L 296.8 1499.3 L 297.5 1499.4 L 298.2 1499.5 L 298.9 1499.7 L 299.6 1499.9 L 300.3 1500.2 L 301.0 1500.6 L 301.7 1500.9 L 302.4 1501.4 L 303.1 1501.8 L 303.8 1502.4 L 304.5 1502.9 L 305.2 1503.5 L 305.9 1504.2 L 306.6 1504.9 L 307.3 1505.7 L 308.0 1506.7 L 308.7 1506.6 L 309.4 1505.6 L 310.1 1504.8 L 310.8 1504.1 L 311.5 1503.5 L 312.2 1502.8 L 312.9 1502.3 L 313.6 1501.8 L 314.3 1501.3 L 315.0 1500.9 L 315.7 1500.5 L 316.4 1500.2 L 317.1 1499.9 L 317.8 1499.7 L 318.5 1499.5 L 319.2 1499.4 L 319.9 1499.3 L 320.6 1499.3 L 321.3 1499.3 L 322.0 1499.4 L 322.7 1499.6 L 323.5 1499.7 L 324.2 1500.0 L 324.9 1500.3 L 325.6 1500.6 L 326.3 1501.0 L 327.0 1501.4 L 327.7 1501.9 L 328.4 1502.4 L 329.1 1503.0 L 329.8 1503.6 L 330.5 1504.3 L 331.2 1505.0 L 331.9 1505.9 L 332.6 1506.8 L 333.3 1506.4 L 334.0 1505.5 L 334.7 1504.7 L 335.4 1504.0 L 336.1 1503.4 L 336.8 1502.8 L 337.5 1502.2 L 338.2 1501.7 L 338.9 1501.2 L 339.6 1500.8 L 340.3 1500.5 L 341.0 1500.2 L 341.7 1499.9 L 342.4 1499.7 L 343.1 1499.5 L 343.8 1499.4 L 344.5 1499.3 L 345.2 1499.3 L 345.9 1499.3 L 346.6 1499.4 L 347.3 1499.6 L 348.0 1499.8 L 348.7 1500.0 L 349.4 1500.3 L 350.1 1500.6 L 350.8 1501.0 L 351.6 1501.5 L 352.3 1502.0 L 353.0 1502.5 L 353.7 1503.1 L 354.4 1503.7 L 355.1 1504.4 L 355.8 1505.1 L 356.5 1506.0 L 357.2 1507.0 L 357.9 1506.3 L 358.6 1505.4 L 359.3 1504.7 L 360.0 1503.9 L 360.7 1503.3 L 361.4 1502.7 L 362.1 1502.2 L 362.8 1501.7 L 363.5 1501.2 L 364.2 1500.8 L 364.9 1500.4 L 365.6 1500.1 L 365.6 1514.5 L 364.9 1514.2 L 364.2 1513.8 L 363.5 1513.4 L 362.8 1512.9 L 362.1 1512.4 L 361.4 1511.9 L 360.7 1511.3 L 360.0 1510.7 L 359.3 1509.9 L 358.6 1509.2 L 357.9 1508.3 L 357.2 1507.6 L 356.5 1508.6 L 355.8 1509.5 L 355.1 1510.2 L 354.4 1510.9 L 353.7 1511.5 L 353.0 1512.1 L 352.3 1512.6 L 351.6 1513.1 L 350.8 1513.6 L 350.1 1514.0 L 349.4 1514.3 L 348.7 1514.6 L 348.0 1514.8 L 347.3 1515.0 L 346.6 1515.2 L 345.9 1515.3 L 345.2 1515.3 L 344.5 1515.3 L 343.8 1515.2 L 343.1 1515.1 L 342.4 1514.9 L 341.7 1514.7 L 341.0 1514.4 L 340.3 1514.1 L 339.6 1513.8 L 338.9 1513.4 L 338.2 1512.9 L 337.5 1512.4 L 336.8 1511.8 L 336.1 1511.2 L 335.4 1510.6 L 334.7 1509.9 L 334.0 1509.1 L 333.3 1508.2 L 332.6 1507.8 L 331.9 1508.7 L 331.2 1509.6 L 330.5 1510.3 L 329.8 1511.0 L 329.1 1511.6 L 328.4 1512.2 L 327.7 1512.7 L 327.0 1513.2 L 326.3 1513.6 L 325.6 1514.0 L 324.9 1514.3 L 324.2 1514.6 L 323.5 1514.9 L 322.7 1515.0 L 322.0 1515.2 L 321.3 1515.3 L 320.6 1515.3 L 319.9 1515.3 L 319.2 1515.2 L 318.5 1515.1 L 317.8 1514.9 L 317.1 1514.7 L 316.4 1514.4 L 315.7 1514.1 L 315.0 1513.7 L 314.3 1513.3 L 313.6 1512.8 L 312.9 1512.3 L 312.2 1511.8 L 311.5 1511.1 L 310.8 1510.5 L 310.1 1509.8 L 309.4 1509.0 L 308.7 1508.0 L 308.0 1507.9 L 307.3 1508.9 L 306.6 1509.7 L 305.9 1510.4 L 305.2 1511.1 L 304.5 1511.7 L 303.8 1512.2 L 303.1 1512.8 L 302.4 1513.2 L 301.7 1513.7 L 301.0 1514.0 L 300.3 1514.4 L 299.6 1514.7 L 298.9 1514.9 L 298.2 1515.1 L 297.5 1515.2 L 296.8 1515.3 L 296.1 1515.3 L 295.4 1515.3 L 294.6 1515.2 L 293.9 1515.1 L 293.2 1514.9 L 292.5 1514.7 L 291.8 1514.4 L 291.1 1514.0 L 290.4 1513.7 L 289.7 1513.2 L 289.0 1512.8 L 288.3 1512.2 L 287.6 1511.7 L 286.9 1511.1 L 286.2 1510.4 L 285.5 1509.7 L 284.8 1508.9 L 284.1 1507.9 L 283.4 1508.0 L 282.7 1509.0 L 282.0 1509.8 L 281.3 1510.5 L 280.6 1511.1 L 279.9 1511.7 L 279.2 1512.3 L 278.5 1512.8 L 277.8 1513.3 L 277.1 1513.7 L 276.4 1514.1 L 275.7 1514.4 L 275.0 1514.7 L 274.3 1514.9 L 273.6 1515.1 L 272.9 1515.2 L 272.2 1515.3 L 271.5 1515.3 L 270.8 1515.3 L 270.1 1515.2 L 269.4 1515.0 L 268.7 1514.9 L 268.0 1514.6 L 267.2 1514.3 L 266.5 1514.0 L 265.8 1513.6 L 265.1 1513.2 L 264.4 1512.7 L 263.7 1512.2 L 263.0 1511.6 L 262.3 1511.0 L 261.6 1510.3 L 260.9 1509.6 L 260.2 1508.8 L 259.5 1507.8 L 258.8 1508.2 L 258.1 1509.1 L 257.4 1509.8 L 256.7 1510.6 L 256.0 1511.2 L 255.3 1511.8 L 254.6 1512.4 L 253.9 1512.9 L 253.2 1513.3 L 252.5 1513.8 L 251.8 1514.1 L 251.1 1514.4 L 250.4 1514.7 L 249.7 1514.9 L 249.0 1515.1 L 248.3 1515.2 L 247.6 1515.3 L 246.9 1515.3 L 246.2 1515.3 L 245.5 1515.2 L 244.8 1515.0 L 244.1 1514.8 L 243.4 1514.6 L 242.7 1514.3 L 242.0 1514.0 L 241.3 1513.6 L 240.6 1513.1 L 239.9 1512.6 L 239.2 1512.1 L 238.4 1511.5 L 237.7 1510.9 L 237.0 1510.2 L 236.3 1509.5 L 235.6 1508.6 L 234.9 1507.6 L 234.2 1508.3 L 233.5 1509.2 L 232.8 1509.9 L 232.1 1510.6 L 231.4 1511.3 L 230.7 1511.9 L 230.0 1512.4 L 229.3 1512.9 L 228.6 1513.4 L 227.9 1513.8 L 227.2 1514.2 L 226.5 1514.5 L 225.8 1514.7 L 225.1 1515.0 L 224.4 1515.1 L 223.7 1515.2 L 223.0 1515.3 L 222.3 1515.3 L 221.6 1515.3 L 220.9 1515.2 L 220.2 1515.0 L 219.5 1514.8 L 218.8 1514.6 L 218.1 1514.3 L 217.4 1513.9 L 216.7 1513.5 L 216.0 1513.1 L 215.3 1512.6 L 214.6 1512.0 L 213.9 1511.5 L 213.2 1510.8 L 212.5 1510.1 L 211.8 1509.4 L 211.1 1508.5 L 210.3 1507.4 L 209.6 1508.4 L 208.9 1509.3 L 208.2 1510.0 L 207.5 1510.7 L 206.8 1511.4 L 206.1 1512.0 L 205.4 1512.5 L 204.7 1513.0 L 204.0 1513.5 L 203.3 1513.9 L 202.6 1514.2 L 201.9 1514.5 L 201.2 1514.8 L 200.5 1515.0 L 199.8 1515.1 L 199.1 1515.2 L 198.4 1515.3 L 197.7 1515.3 L 197.0 1515.2 Z"/></clipPath>
<path d="M 197.0 1499.4 L 197.7 1499.3 L 198.4 1499.3 L 199.1 1499.4 L 199.8 1499.5 L 200.5 1499.6 L 201.2 1499.8 L 201.9 1500.1 L 202.6 1500.4 L 203.3 1500.7 L 204.0 1501.1 L 204.7 1501.6 L 205.4 1502.1 L 206.1 1502.6 L 206.8 1503.2 L 207.5 1503.9 L 208.2 1504.6 L 208.9 1505.3 L 209.6 1506.2 L 210.3 1507.2 L 211.1 1506.1 L 211.8 1505.2 L 212.5 1504.5 L 213.2 1503.8 L 213.9 1503.1 L 214.6 1502.6 L 215.3 1502.0 L 216.0 1501.5 L 216.7 1501.1 L 217.4 1500.7 L 218.1 1500.3 L 218.8 1500.0 L 219.5 1499.8 L 220.2 1499.6 L 220.9 1499.4 L 221.6 1499.3 L 222.3 1499.3 L 223.0 1499.3 L 223.7 1499.4 L 224.4 1499.5 L 225.1 1499.6 L 225.8 1499.9 L 226.5 1500.1 L 227.2 1500.4 L 227.9 1500.8 L 228.6 1501.2 L 229.3 1501.7 L 230.0 1502.2 L 230.7 1502.7 L 231.4 1503.3 L 232.1 1504.0 L 232.8 1504.7 L 233.5 1505.4 L 234.2 1506.3 L 234.9 1507.0 L 235.6 1506.0 L 236.3 1505.1 L 237.0 1504.4 L 237.7 1503.7 L 238.4 1503.1 L 239.2 1502.5 L 239.9 1502.0 L 240.6 1501.5 L 241.3 1501.0 L 242.0 1500.6 L 242.7 1500.3 L 243.4 1500.0 L 244.1 1499.8 L 244.8 1499.6 L 245.5 1499.4 L 246.2 1499.3 L 246.9 1499.3 L 247.6 1499.3 L 248.3 1499.4 L 249.0 1499.5 L 249.7 1499.7 L 250.4 1499.9 L 251.1 1500.2 L 251.8 1500.5 L 252.5 1500.8 L 253.2 1501.3 L 253.9 1501.7 L 254.6 1502.2 L 255.3 1502.8 L 256.0 1503.4 L 256.7 1504.0 L 257.4 1504.8 L 258.1 1505.5 L 258.8 1506.4 L 259.5 1506.8 L 260.2 1505.8 L 260.9 1505.0 L 261.6 1504.3 L 262.3 1503.6 L 263.0 1503.0 L 263.7 1502.4 L 264.4 1501.9 L 265.1 1501.4 L 265.8 1501.0 L 266.5 1500.6 L 267.2 1500.3 L 268.0 1500.0 L 268.7 1499.7 L 269.4 1499.6 L 270.1 1499.4 L 270.8 1499.3 L 271.5 1499.3 L 272.2 1499.3 L 272.9 1499.4 L 273.6 1499.5 L 274.3 1499.7 L 275.0 1499.9 L 275.7 1500.2 L 276.4 1500.5 L 277.1 1500.9 L 277.8 1501.3 L 278.5 1501.8 L 279.2 1502.3 L 279.9 1502.9 L 280.6 1503.5 L 281.3 1504.1 L 282.0 1504.8 L 282.7 1505.6 L 283.4 1506.6 L 284.1 1506.7 L 284.8 1505.7 L 285.5 1504.9 L 286.2 1504.2 L 286.9 1503.5 L 287.6 1502.9 L 288.3 1502.4 L 289.0 1501.8 L 289.7 1501.4 L 290.4 1500.9 L 291.1 1500.6 L 291.8 1500.2 L 292.5 1499.9 L 293.2 1499.7 L 293.9 1499.5 L 294.6 1499.4 L 295.4 1499.3 L 296.1 1499.3 L 296.8 1499.3 L 297.5 1499.4 L 298.2 1499.5 L 298.9 1499.7 L 299.6 1499.9 L 300.3 1500.2 L 301.0 1500.6 L 301.7 1500.9 L 302.4 1501.4 L 303.1 1501.8 L 303.8 1502.4 L 304.5 1502.9 L 305.2 1503.5 L 305.9 1504.2 L 306.6 1504.9 L 307.3 1505.7 L 308.0 1506.7 L 308.7 1506.6 L 309.4 1505.6 L 310.1 1504.8 L 310.8 1504.1 L 311.5 1503.5 L 312.2 1502.8 L 312.9 1502.3 L 313.6 1501.8 L 314.3 1501.3 L 315.0 1500.9 L 315.7 1500.5 L 316.4 1500.2 L 317.1 1499.9 L 317.8 1499.7 L 318.5 1499.5 L 319.2 1499.4 L 319.9 1499.3 L 320.6 1499.3 L 321.3 1499.3 L 322.0 1499.4 L 322.7 1499.6 L 323.5 1499.7 L 324.2 1500.0 L 324.9 1500.3 L 325.6 1500.6 L 326.3 1501.0 L 327.0 1501.4 L 327.7 1501.9 L 328.4 1502.4 L 329.1 1503.0 L 329.8 1503.6 L 330.5 1504.3 L 331.2 1505.0 L 331.9 1505.9 L 332.6 1506.8 L 333.3 1506.4 L 334.0 1505.5 L 334.7 1504.7 L 335.4 1504.0 L 336.1 1503.4 L 336.8 1502.8 L 337.5 1502.2 L 338.2 1501.7 L 338.9 1501.2 L 339.6 1500.8 L 340.3 1500.5 L 341.0 1500.2 L 341.7 1499.9 L 342.4 1499.7 L 343.1 1499.5 L 343.8 1499.4 L 344.5 1499.3 L 345.2 1499.3 L 345.9 1499.3 L 346.6 1499.4 L 347.3 1499.6 L 348.0 1499.8 L 348.7 1500.0 L 349.4 1500.3 L 350.1 1500.6 L 350.8 1501.0 L 351.6 1501.5 L 352.3 1502.0 L 353.0 1502.5 L 353.7 1503.1 L 354.4 1503.7 L 355.1 1504.4 L 355.8 1505.1 L 356.5 1506.0 L 357.2 1507.0 L 357.9 1506.3 L 358.6 1505.4 L 359.3 1504.7 L 360.0 1503.9 L 360.7 1503.3 L 361.4 1502.7 L 362.1 1502.2 L 362.8 1501.7 L 363.5 1501.2 L 364.2 1500.8 L 364.9 1500.4 L 365.6 1500.1 L 365.6 1514.5 L 364.9 1514.2 L 364.2 1513.8 L 363.5 1513.4 L 362.8 1512.9 L 362.1 1512.4 L 361.4 1511.9 L 360.7 1511.3 L 360.0 1510.7 L 359.3 1509.9 L 358.6 1509.2 L 357.9 1508.3 L 357.2 1507.6 L 356.5 1508.6 L 355.8 1509.5 L 355.1 1510.2 L 354.4 1510.9 L 353.7 1511.5 L 353.0 1512.1 L 352.3 1512.6 L 351.6 1513.1 L 350.8 1513.6 L 350.1 1514.0 L 349.4 1514.3 L 348.7 1514.6 L 348.0 1514.8 L 347.3 1515.0 L 346.6 1515.2 L 345.9 1515.3 L 345.2 1515.3 L 344.5 1515.3 L 343.8 1515.2 L 343.1 1515.1 L 342.4 1514.9 L 341.7 1514.7 L 341.0 1514.4 L 340.3 1514.1 L 339.6 1513.8 L 338.9 1513.4 L 338.2 1512.9 L 337.5 1512.4 L 336.8 1511.8 L 336.1 1511.2 L 335.4 1510.6 L 334.7 1509.9 L 334.0 1509.1 L 333.3 1508.2 L 332.6 1507.8 L 331.9 1508.7 L 331.2 1509.6 L 330.5 1510.3 L 329.8 1511.0 L 329.1 1511.6 L 328.4 1512.2 L 327.7 1512.7 L 327.0 1513.2 L 326.3 1513.6 L 325.6 1514.0 L 324.9 1514.3 L 324.2 1514.6 L 323.5 1514.9 L 322.7 1515.0 L 322.0 1515.2 L 321.3 1515.3 L 320.6 1515.3 L 319.9 1515.3 L 319.2 1515.2 L 318.5 1515.1 L 317.8 1514.9 L 317.1 1514.7 L 316.4 1514.4 L 315.7 1514.1 L 315.0 1513.7 L 314.3 1513.3 L 313.6 1512.8 L 312.9 1512.3 L 312.2 1511.8 L 311.5 1511.1 L 310.8 1510.5 L 310.1 1509.8 L 309.4 1509.0 L 308.7 1508.0 L 308.0 1507.9 L 307.3 1508.9 L 306.6 1509.7 L 305.9 1510.4 L 305.2 1511.1 L 304.5 1511.7 L 303.8 1512.2 L 303.1 1512.8 L 302.4 1513.2 L 301.7 1513.7 L 301.0 1514.0 L 300.3 1514.4 L 299.6 1514.7 L 298.9 1514.9 L 298.2 1515.1 L 297.5 1515.2 L 296.8 1515.3 L 296.1 1515.3 L 295.4 1515.3 L 294.6 1515.2 L 293.9 1515.1 L 293.2 1514.9 L 292.5 1514.7 L 291.8 1514.4 L 291.1 1514.0 L 290.4 1513.7 L 289.7 1513.2 L 289.0 1512.8 L 288.3 1512.2 L 287.6 1511.7 L 286.9 1511.1 L 286.2 1510.4 L 285.5 1509.7 L 284.8 1508.9 L 284.1 1507.9 L 283.4 1508.0 L 282.7 1509.0 L 282.0 1509.8 L 281.3 1510.5 L 280.6 1511.1 L 279.9 1511.7 L 279.2 1512.3 L 278.5 1512.8 L 277.8 1513.3 L 277.1 1513.7 L 276.4 1514.1 L 275.7 1514.4 L 275.0 1514.7 L 274.3 1514.9 L 273.6 1515.1 L 272.9 1515.2 L 272.2 1515.3 L 271.5 1515.3 L 270.8 1515.3 L 270.1 1515.2 L 269.4 1515.0 L 268.7 1514.9 L 268.0 1514.6 L 267.2 1514.3 L 266.5 1514.0 L 265.8 1513.6 L 265.1 1513.2 L 264.4 1512.7 L 263.7 1512.2 L 263.0 1511.6 L 262.3 1511.0 L 261.6 1510.3 L 260.9 1509.6 L 260.2 1508.8 L 259.5 1507.8 L 258.8 1508.2 L 258.1 1509.1 L 257.4 1509.8 L 256.7 1510.6 L 256.0 1511.2 L 255.3 1511.8 L 254.6 1512.4 L 253.9 1512.9 L 253.2 1513.3 L 252.5 1513.8 L 251.8 1514.1 L 251.1 1514.4 L 250.4 1514.7 L 249.7 1514.9 L 249.0 1515.1 L 248.3 1515.2 L 247.6 1515.3 L 246.9 1515.3 L 246.2 1515.3 L 245.5 1515.2 L 244.8 1515.0 L 244.1 1514.8 L 243.4 1514.6 L 242.7 1514.3 L 242.0 1514.0 L 241.3 1513.6 L 240.6 1513.1 L 239.9 1512.6 L 239.2 1512.1 L 238.4 1511.5 L 237.7 1510.9 L 237.0 1510.2 L 236.3 1509.5 L 235.6 1508.6 L 234.9 1507.6 L 234.2 1508.3 L 233.5 1509.2 L 232.8 1509.9 L 232.1 1510.6 L 231.4 1511.3 L 230.7 1511.9 L 230.0 1512.4 L 229.3 1512.9 L 228.6 1513.4 L 227.9 1513.8 L 227.2 1514.2 L 226.5 1514.5 L 225.8 1514.7 L 225.1 1515.0 L 224.4 1515.1 L 223.7 1515.2 L 223.0 1515.3 L 222.3 1515.3 L 221.6 1515.3 L 220.9 1515.2 L 220.2 1515.0 L 219.5 1514.8 L 218.8 1514.6 L 218.1 1514.3 L 217.4 1513.9 L 216.7 1513.5 L 216.0 1513.1 L 215.3 1512.6 L 214.6 1512.0 L 213.9 1511.5 L 213.2 1510.8 L 212.5 1510.1 L 211.8 1509.4 L 211.1 1508.5 L 210.3 1507.4 L 209.6 1508.4 L 208.9 1509.3 L 208.2 1510.0 L 207.5 1510.7 L 206.8 1511.4 L 206.1 1512.0 L 205.4 1512.5 L 204.7 1513.0 L 204.0 1513.5 L 203.3 1513.9 L 202.6 1514.2 L 201.9 1514.5 L 201.2 1514.8 L 200.5 1515.0 L 199.8 1515.1 L 199.1 1515.2 L 198.4 1515.3 L 197.7 1515.3 L 197.0 1515.2 Z" fill="#fff"/>
<g clip-path="url(#dc458)"><line x1="198.2" y1="1497.3" x2="198.2" y2="1517.3" stroke="#303030" stroke-width="2.0"/><line x1="202.8" y1="1497.3" x2="202.8" y2="1517.3" stroke="#303030" stroke-width="2.0"/><line x1="207.4" y1="1497.3" x2="207.4" y2="1517.3" stroke="#303030" stroke-width="2.0"/><line x1="212.0" y1="1497.3" x2="212.0" y2="1517.3" stroke="#303030" stroke-width="2.0"/><line x1="216.6" y1="1497.3" x2="216.6" y2="1517.3" stroke="#303030" stroke-width="2.0"/><line x1="221.2" y1="1497.3" x2="221.2" y2="1517.3" stroke="#303030" stroke-width="2.0"/><line x1="225.8" y1="1497.3" x2="225.8" y2="1517.3" stroke="#303030" stroke-width="2.0"/><line x1="230.4" y1="1497.3" x2="230.4" y2="1517.3" stroke="#303030" stroke-width="2.0"/><line x1="235.0" y1="1497.3" x2="235.0" y2="1517.3" stroke="#303030" stroke-width="2.0"/><line x1="239.6" y1="1497.3" x2="239.6" y2="1517.3" stroke="#303030" stroke-width="2.0"/><line x1="244.2" y1="1497.3" x2="244.2" y2="1517.3" stroke="#303030" stroke-width="2.0"/><line x1="248.8" y1="1497.3" x2="248.8" y2="1517.3" stroke="#303030" stroke-width="2.0"/><line x1="253.4" y1="1497.3" x2="253.4" y2="1517.3" stroke="#303030" stroke-width="2.0"/><line x1="258.0" y1="1497.3" x2="258.0" y2="1517.3" stroke="#303030" stroke-width="2.0"/><line x1="262.6" y1="1497.3" x2="262.6" y2="1517.3" stroke="#303030" stroke-width="2.0"/><line x1="267.2" y1="1497.3" x2="267.2" y2="1517.3" stroke="#303030" stroke-width="2.0"/><line x1="271.8" y1="1497.3" x2="271.8" y2="1517.3" stroke="#303030" stroke-width="2.0"/><line x1="276.4" y1="1497.3" x2="276.4" y2="1517.3" stroke="#303030" stroke-width="2.0"/><line x1="281.0" y1="1497.3" x2="281.0" y2="1517.3" stroke="#303030" stroke-width="2.0"/><line x1="285.6" y1="1497.3" x2="285.6" y2="1517.3" stroke="#303030" stroke-width="2.0"/><line x1="290.2" y1="1497.3" x2="290.2" y2="1517.3" stroke="#303030" stroke-width="2.0"/><line x1="294.8" y1="1497.3" x2="294.8" y2="1517.3" stroke="#303030" stroke-width="2.0"/><line x1="299.4" y1="1497.3" x2="299.4" y2="1517.3" stroke="#303030" stroke-width="2.0"/><line x1="304.0" y1="1497.3" x2="304.0" y2="1517.3" stroke="#303030" stroke-width="2.0"/><line x1="308.6" y1="1497.3" x2="308.6" y2="1517.3" stroke="#303030" stroke-width="2.0"/><line x1="313.2" y1="1497.3" x2="313.2" y2="1517.3" stroke="#303030" stroke-width="2.0"/><line x1="317.8" y1="1497.3" x2="317.8" y2="1517.3" stroke="#303030" stroke-width="2.0"/><line x1="322.4" y1="1497.3" x2="322.4" y2="1517.3" stroke="#303030" stroke-width="2.0"/><line x1="327.0" y1="1497.3" x2="327.0" y2="1517.3" stroke="#303030" stroke-width="2.0"/><line x1="331.6" y1="1497.3" x2="331.6" y2="1517.3" stroke="#303030" stroke-width="2.0"/><line x1="336.2" y1="1497.3" x2="336.2" y2="1517.3" stroke="#303030" stroke-width="2.0"/><line x1="340.8" y1="1497.3" x2="340.8" y2="1517.3" stroke="#303030" stroke-width="2.0"/><line x1="345.4" y1="1497.3" x2="345.4" y2="1517.3" stroke="#303030" stroke-width="2.0"/><line x1="350.0" y1="1497.3" x2="350.0" y2="1517.3" stroke="#303030" stroke-width="2.0"/><line x1="354.6" y1="1497.3" x2="354.6" y2="1517.3" stroke="#303030" stroke-width="2.0"/><line x1="359.2" y1="1497.3" x2="359.2" y2="1517.3" stroke="#303030" stroke-width="2.0"/><line x1="363.8" y1="1497.3" x2="363.8" y2="1517.3" stroke="#303030" stroke-width="2.0"/></g>
<path d="M 197.0 1499.4 L 197.7 1499.3 L 198.4 1499.3 L 199.1 1499.4 L 199.8 1499.5 L 200.5 1499.6 L 201.2 1499.8 L 201.9 1500.1 L 202.6 1500.4 L 203.3 1500.7 L 204.0 1501.1 L 204.7 1501.6 L 205.4 1502.1 L 206.1 1502.6 L 206.8 1503.2 L 207.5 1503.9 L 208.2 1504.6 L 208.9 1505.3 L 209.6 1506.2 L 210.3 1507.2 L 211.1 1506.1 L 211.8 1505.2 L 212.5 1504.5 L 213.2 1503.8 L 213.9 1503.1 L 214.6 1502.6 L 215.3 1502.0 L 216.0 1501.5 L 216.7 1501.1 L 217.4 1500.7 L 218.1 1500.3 L 218.8 1500.0 L 219.5 1499.8 L 220.2 1499.6 L 220.9 1499.4 L 221.6 1499.3 L 222.3 1499.3 L 223.0 1499.3 L 223.7 1499.4 L 224.4 1499.5 L 225.1 1499.6 L 225.8 1499.9 L 226.5 1500.1 L 227.2 1500.4 L 227.9 1500.8 L 228.6 1501.2 L 229.3 1501.7 L 230.0 1502.2 L 230.7 1502.7 L 231.4 1503.3 L 232.1 1504.0 L 232.8 1504.7 L 233.5 1505.4 L 234.2 1506.3 L 234.9 1507.0 L 235.6 1506.0 L 236.3 1505.1 L 237.0 1504.4 L 237.7 1503.7 L 238.4 1503.1 L 239.2 1502.5 L 239.9 1502.0 L 240.6 1501.5 L 241.3 1501.0 L 242.0 1500.6 L 242.7 1500.3 L 243.4 1500.0 L 244.1 1499.8 L 244.8 1499.6 L 245.5 1499.4 L 246.2 1499.3 L 246.9 1499.3 L 247.6 1499.3 L 248.3 1499.4 L 249.0 1499.5 L 249.7 1499.7 L 250.4 1499.9 L 251.1 1500.2 L 251.8 1500.5 L 252.5 1500.8 L 253.2 1501.3 L 253.9 1501.7 L 254.6 1502.2 L 255.3 1502.8 L 256.0 1503.4 L 256.7 1504.0 L 257.4 1504.8 L 258.1 1505.5 L 258.8 1506.4 L 259.5 1506.8 L 260.2 1505.8 L 260.9 1505.0 L 261.6 1504.3 L 262.3 1503.6 L 263.0 1503.0 L 263.7 1502.4 L 264.4 1501.9 L 265.1 1501.4 L 265.8 1501.0 L 266.5 1500.6 L 267.2 1500.3 L 268.0 1500.0 L 268.7 1499.7 L 269.4 1499.6 L 270.1 1499.4 L 270.8 1499.3 L 271.5 1499.3 L 272.2 1499.3 L 272.9 1499.4 L 273.6 1499.5 L 274.3 1499.7 L 275.0 1499.9 L 275.7 1500.2 L 276.4 1500.5 L 277.1 1500.9 L 277.8 1501.3 L 278.5 1501.8 L 279.2 1502.3 L 279.9 1502.9 L 280.6 1503.5 L 281.3 1504.1 L 282.0 1504.8 L 282.7 1505.6 L 283.4 1506.6 L 284.1 1506.7 L 284.8 1505.7 L 285.5 1504.9 L 286.2 1504.2 L 286.9 1503.5 L 287.6 1502.9 L 288.3 1502.4 L 289.0 1501.8 L 289.7 1501.4 L 290.4 1500.9 L 291.1 1500.6 L 291.8 1500.2 L 292.5 1499.9 L 293.2 1499.7 L 293.9 1499.5 L 294.6 1499.4 L 295.4 1499.3 L 296.1 1499.3 L 296.8 1499.3 L 297.5 1499.4 L 298.2 1499.5 L 298.9 1499.7 L 299.6 1499.9 L 300.3 1500.2 L 301.0 1500.6 L 301.7 1500.9 L 302.4 1501.4 L 303.1 1501.8 L 303.8 1502.4 L 304.5 1502.9 L 305.2 1503.5 L 305.9 1504.2 L 306.6 1504.9 L 307.3 1505.7 L 308.0 1506.7 L 308.7 1506.6 L 309.4 1505.6 L 310.1 1504.8 L 310.8 1504.1 L 311.5 1503.5 L 312.2 1502.8 L 312.9 1502.3 L 313.6 1501.8 L 314.3 1501.3 L 315.0 1500.9 L 315.7 1500.5 L 316.4 1500.2 L 317.1 1499.9 L 317.8 1499.7 L 318.5 1499.5 L 319.2 1499.4 L 319.9 1499.3 L 320.6 1499.3 L 321.3 1499.3 L 322.0 1499.4 L 322.7 1499.6 L 323.5 1499.7 L 324.2 1500.0 L 324.9 1500.3 L 325.6 1500.6 L 326.3 1501.0 L 327.0 1501.4 L 327.7 1501.9 L 328.4 1502.4 L 329.1 1503.0 L 329.8 1503.6 L 330.5 1504.3 L 331.2 1505.0 L 331.9 1505.9 L 332.6 1506.8 L 333.3 1506.4 L 334.0 1505.5 L 334.7 1504.7 L 335.4 1504.0 L 336.1 1503.4 L 336.8 1502.8 L 337.5 1502.2 L 338.2 1501.7 L 338.9 1501.2 L 339.6 1500.8 L 340.3 1500.5 L 341.0 1500.2 L 341.7 1499.9 L 342.4 1499.7 L 343.1 1499.5 L 343.8 1499.4 L 344.5 1499.3 L 345.2 1499.3 L 345.9 1499.3 L 346.6 1499.4 L 347.3 1499.6 L 348.0 1499.8 L 348.7 1500.0 L 349.4 1500.3 L 350.1 1500.6 L 350.8 1501.0 L 351.6 1501.5 L 352.3 1502.0 L 353.0 1502.5 L 353.7 1503.1 L 354.4 1503.7 L 355.1 1504.4 L 355.8 1505.1 L 356.5 1506.0 L 357.2 1507.0 L 357.9 1506.3 L 358.6 1505.4 L 359.3 1504.7 L 360.0 1503.9 L 360.7 1503.3 L 361.4 1502.7 L 362.1 1502.2 L 362.8 1501.7 L 363.5 1501.2 L 364.2 1500.8 L 364.9 1500.4 L 365.6 1500.1 L 365.6 1514.5 L 364.9 1514.2 L 364.2 1513.8 L 363.5 1513.4 L 362.8 1512.9 L 362.1 1512.4 L 361.4 1511.9 L 360.7 1511.3 L 360.0 1510.7 L 359.3 1509.9 L 358.6 1509.2 L 357.9 1508.3 L 357.2 1507.6 L 356.5 1508.6 L 355.8 1509.5 L 355.1 1510.2 L 354.4 1510.9 L 353.7 1511.5 L 353.0 1512.1 L 352.3 1512.6 L 351.6 1513.1 L 350.8 1513.6 L 350.1 1514.0 L 349.4 1514.3 L 348.7 1514.6 L 348.0 1514.8 L 347.3 1515.0 L 346.6 1515.2 L 345.9 1515.3 L 345.2 1515.3 L 344.5 1515.3 L 343.8 1515.2 L 343.1 1515.1 L 342.4 1514.9 L 341.7 1514.7 L 341.0 1514.4 L 340.3 1514.1 L 339.6 1513.8 L 338.9 1513.4 L 338.2 1512.9 L 337.5 1512.4 L 336.8 1511.8 L 336.1 1511.2 L 335.4 1510.6 L 334.7 1509.9 L 334.0 1509.1 L 333.3 1508.2 L 332.6 1507.8 L 331.9 1508.7 L 331.2 1509.6 L 330.5 1510.3 L 329.8 1511.0 L 329.1 1511.6 L 328.4 1512.2 L 327.7 1512.7 L 327.0 1513.2 L 326.3 1513.6 L 325.6 1514.0 L 324.9 1514.3 L 324.2 1514.6 L 323.5 1514.9 L 322.7 1515.0 L 322.0 1515.2 L 321.3 1515.3 L 320.6 1515.3 L 319.9 1515.3 L 319.2 1515.2 L 318.5 1515.1 L 317.8 1514.9 L 317.1 1514.7 L 316.4 1514.4 L 315.7 1514.1 L 315.0 1513.7 L 314.3 1513.3 L 313.6 1512.8 L 312.9 1512.3 L 312.2 1511.8 L 311.5 1511.1 L 310.8 1510.5 L 310.1 1509.8 L 309.4 1509.0 L 308.7 1508.0 L 308.0 1507.9 L 307.3 1508.9 L 306.6 1509.7 L 305.9 1510.4 L 305.2 1511.1 L 304.5 1511.7 L 303.8 1512.2 L 303.1 1512.8 L 302.4 1513.2 L 301.7 1513.7 L 301.0 1514.0 L 300.3 1514.4 L 299.6 1514.7 L 298.9 1514.9 L 298.2 1515.1 L 297.5 1515.2 L 296.8 1515.3 L 296.1 1515.3 L 295.4 1515.3 L 294.6 1515.2 L 293.9 1515.1 L 293.2 1514.9 L 292.5 1514.7 L 291.8 1514.4 L 291.1 1514.0 L 290.4 1513.7 L 289.7 1513.2 L 289.0 1512.8 L 288.3 1512.2 L 287.6 1511.7 L 286.9 1511.1 L 286.2 1510.4 L 285.5 1509.7 L 284.8 1508.9 L 284.1 1507.9 L 283.4 1508.0 L 282.7 1509.0 L 282.0 1509.8 L 281.3 1510.5 L 280.6 1511.1 L 279.9 1511.7 L 279.2 1512.3 L 278.5 1512.8 L 277.8 1513.3 L 277.1 1513.7 L 276.4 1514.1 L 275.7 1514.4 L 275.0 1514.7 L 274.3 1514.9 L 273.6 1515.1 L 272.9 1515.2 L 272.2 1515.3 L 271.5 1515.3 L 270.8 1515.3 L 270.1 1515.2 L 269.4 1515.0 L 268.7 1514.9 L 268.0 1514.6 L 267.2 1514.3 L 266.5 1514.0 L 265.8 1513.6 L 265.1 1513.2 L 264.4 1512.7 L 263.7 1512.2 L 263.0 1511.6 L 262.3 1511.0 L 261.6 1510.3 L 260.9 1509.6 L 260.2 1508.8 L 259.5 1507.8 L 258.8 1508.2 L 258.1 1509.1 L 257.4 1509.8 L 256.7 1510.6 L 256.0 1511.2 L 255.3 1511.8 L 254.6 1512.4 L 253.9 1512.9 L 253.2 1513.3 L 252.5 1513.8 L 251.8 1514.1 L 251.1 1514.4 L 250.4 1514.7 L 249.7 1514.9 L 249.0 1515.1 L 248.3 1515.2 L 247.6 1515.3 L 246.9 1515.3 L 246.2 1515.3 L 245.5 1515.2 L 244.8 1515.0 L 244.1 1514.8 L 243.4 1514.6 L 242.7 1514.3 L 242.0 1514.0 L 241.3 1513.6 L 240.6 1513.1 L 239.9 1512.6 L 239.2 1512.1 L 238.4 1511.5 L 237.7 1510.9 L 237.0 1510.2 L 236.3 1509.5 L 235.6 1508.6 L 234.9 1507.6 L 234.2 1508.3 L 233.5 1509.2 L 232.8 1509.9 L 232.1 1510.6 L 231.4 1511.3 L 230.7 1511.9 L 230.0 1512.4 L 229.3 1512.9 L 228.6 1513.4 L 227.9 1513.8 L 227.2 1514.2 L 226.5 1514.5 L 225.8 1514.7 L 225.1 1515.0 L 224.4 1515.1 L 223.7 1515.2 L 223.0 1515.3 L 222.3 1515.3 L 221.6 1515.3 L 220.9 1515.2 L 220.2 1515.0 L 219.5 1514.8 L 218.8 1514.6 L 218.1 1514.3 L 217.4 1513.9 L 216.7 1513.5 L 216.0 1513.1 L 215.3 1512.6 L 214.6 1512.0 L 213.9 1511.5 L 213.2 1510.8 L 212.5 1510.1 L 211.8 1509.4 L 211.1 1508.5 L 210.3 1507.4 L 209.6 1508.4 L 208.9 1509.3 L 208.2 1510.0 L 207.5 1510.7 L 206.8 1511.4 L 206.1 1512.0 L 205.4 1512.5 L 204.7 1513.0 L 204.0 1513.5 L 203.3 1513.9 L 202.6 1514.2 L 201.9 1514.5 L 201.2 1514.8 L 200.5 1515.0 L 199.8 1515.1 L 199.1 1515.2 L 198.4 1515.3 L 197.7 1515.3 L 197.0 1515.2 Z" fill="none" stroke="#444" stroke-width="1.2"/>
<path d="M 197.0 1515.2 L 197.7 1515.3 L 198.4 1515.3 L 199.1 1515.2 L 199.8 1515.1 L 200.5 1515.0 L 201.2 1514.8 L 201.9 1514.5 L 202.6 1514.2 L 203.3 1513.9 L 204.0 1513.5 L 204.7 1513.0 L 205.4 1512.5 L 206.1 1512.0 L 206.8 1511.4 L 207.5 1510.7 L 208.2 1510.0 L 208.9 1509.3 L 209.6 1508.4 L 210.3 1507.2 L 211.1 1506.1 L 211.8 1505.2 L 212.5 1504.5 L 213.2 1503.8 L 213.9 1503.1 L 214.6 1502.6 L 215.3 1502.0 L 216.0 1501.5 L 216.7 1501.1 L 217.4 1500.7 L 218.1 1500.3 L 218.8 1500.0 L 219.5 1499.8 L 220.2 1499.6 L 220.9 1499.4 L 221.6 1499.3 L 222.3 1499.3 L 223.0 1499.3 L 223.7 1499.4 L 224.4 1499.5 L 225.1 1499.6 L 225.8 1499.9 L 226.5 1500.1 L 227.2 1500.4 L 227.9 1500.8 L 228.6 1501.2 L 229.3 1501.7 L 230.0 1502.2 L 230.7 1502.7 L 231.4 1503.3 L 232.1 1504.0 L 232.8 1504.7 L 233.5 1505.4 L 234.2 1506.3 L 234.9 1507.6 L 235.6 1508.6 L 236.3 1509.5 L 237.0 1510.2 L 237.7 1510.9 L 238.4 1511.5 L 239.2 1512.1 L 239.9 1512.6 L 240.6 1513.1 L 241.3 1513.6 L 242.0 1514.0 L 242.7 1514.3 L 243.4 1514.6 L 244.1 1514.8 L 244.8 1515.0 L 245.5 1515.2 L 246.2 1515.3 L 246.9 1515.3 L 247.6 1515.3 L 248.3 1515.2 L 249.0 1515.1 L 249.7 1514.9 L 250.4 1514.7 L 251.1 1514.4 L 251.8 1514.1 L 252.5 1513.8 L 253.2 1513.3 L 253.9 1512.9 L 254.6 1512.4 L 255.3 1511.8 L 256.0 1511.2 L 256.7 1510.6 L 257.4 1509.8 L 258.1 1509.1 L 258.8 1508.2 L 259.5 1506.8 L 260.2 1505.8 L 260.9 1505.0 L 261.6 1504.3 L 262.3 1503.6 L 263.0 1503.0 L 263.7 1502.4 L 264.4 1501.9 L 265.1 1501.4 L 265.8 1501.0 L 266.5 1500.6 L 267.2 1500.3 L 268.0 1500.0 L 268.7 1499.7 L 269.4 1499.6 L 270.1 1499.4 L 270.8 1499.3 L 271.5 1499.3 L 272.2 1499.3 L 272.9 1499.4 L 273.6 1499.5 L 274.3 1499.7 L 275.0 1499.9 L 275.7 1500.2 L 276.4 1500.5 L 277.1 1500.9 L 277.8 1501.3 L 278.5 1501.8 L 279.2 1502.3 L 279.9 1502.9 L 280.6 1503.5 L 281.3 1504.1 L 282.0 1504.8 L 282.7 1505.6 L 283.4 1506.6 L 284.1 1507.9 L 284.8 1508.9 L 285.5 1509.7 L 286.2 1510.4 L 286.9 1511.1 L 287.6 1511.7 L 288.3 1512.2 L 289.0 1512.8 L 289.7 1513.2 L 290.4 1513.7 L 291.1 1514.0 L 291.8 1514.4 L 292.5 1514.7 L 293.2 1514.9 L 293.9 1515.1 L 294.6 1515.2 L 295.4 1515.3 L 296.1 1515.3 L 296.8 1515.3 L 297.5 1515.2 L 298.2 1515.1 L 298.9 1514.9 L 299.6 1514.7 L 300.3 1514.4 L 301.0 1514.0 L 301.7 1513.7 L 302.4 1513.2 L 303.1 1512.8 L 303.8 1512.2 L 304.5 1511.7 L 305.2 1511.1 L 305.9 1510.4 L 306.6 1509.7 L 307.3 1508.9 L 308.0 1507.9 L 308.7 1506.6 L 309.4 1505.6 L 310.1 1504.8 L 310.8 1504.1 L 311.5 1503.5 L 312.2 1502.8 L 312.9 1502.3 L 313.6 1501.8 L 314.3 1501.3 L 315.0 1500.9 L 315.7 1500.5 L 316.4 1500.2 L 317.1 1499.9 L 317.8 1499.7 L 318.5 1499.5 L 319.2 1499.4 L 319.9 1499.3 L 320.6 1499.3 L 321.3 1499.3 L 322.0 1499.4 L 322.7 1499.6 L 323.5 1499.7 L 324.2 1500.0 L 324.9 1500.3 L 325.6 1500.6 L 326.3 1501.0 L 327.0 1501.4 L 327.7 1501.9 L 328.4 1502.4 L 329.1 1503.0 L 329.8 1503.6 L 330.5 1504.3 L 331.2 1505.0 L 331.9 1505.9 L 332.6 1506.8 L 333.3 1508.2 L 334.0 1509.1 L 334.7 1509.9 L 335.4 1510.6 L 336.1 1511.2 L 336.8 1511.8 L 337.5 1512.4 L 338.2 1512.9 L 338.9 1513.4 L 339.6 1513.8 L 340.3 1514.1 L 341.0 1514.4 L 341.7 1514.7 L 342.4 1514.9 L 343.1 1515.1 L 343.8 1515.2 L 344.5 1515.3 L 345.2 1515.3 L 345.9 1515.3 L 346.6 1515.2 L 347.3 1515.0 L 348.0 1514.8 L 348.7 1514.6 L 349.4 1514.3 L 350.1 1514.0 L 350.8 1513.6 L 351.6 1513.1 L 352.3 1512.6 L 353.0 1512.1 L 353.7 1511.5 L 354.4 1510.9 L 355.1 1510.2 L 355.8 1509.5 L 356.5 1508.6 L 357.2 1507.6 L 357.9 1506.3 L 358.6 1505.4 L 359.3 1504.7 L 360.0 1503.9 L 360.7 1503.3 L 361.4 1502.7 L 362.1 1502.2 L 362.8 1501.7 L 363.5 1501.2 L 364.2 1500.8 L 364.9 1500.4 L 365.6 1500.1" fill="none" stroke="#4a4a4a" stroke-width="2.6"/>
<path d="M 197.0 1515.2 L 197.7 1515.3 L 198.4 1515.3 L 199.1 1515.2 L 199.8 1515.1 L 200.5 1515.0 L 201.2 1514.8 L 201.9 1514.5 L 202.6 1514.2 L 203.3 1513.9 L 204.0 1513.5 L 204.7 1513.0 L 205.4 1512.5 L 206.1 1512.0 L 206.8 1511.4 L 207.5 1510.7 L 208.2 1510.0 L 208.9 1509.3 L 209.6 1508.4 L 210.3 1507.2 L 211.1 1506.1 L 211.8 1505.2 L 212.5 1504.5 L 213.2 1503.8 L 213.9 1503.1 L 214.6 1502.6 L 215.3 1502.0 L 216.0 1501.5 L 216.7 1501.1 L 217.4 1500.7 L 218.1 1500.3 L 218.8 1500.0 L 219.5 1499.8 L 220.2 1499.6 L 220.9 1499.4 L 221.6 1499.3 L 222.3 1499.3 L 223.0 1499.3 L 223.7 1499.4 L 224.4 1499.5 L 225.1 1499.6 L 225.8 1499.9 L 226.5 1500.1 L 227.2 1500.4 L 227.9 1500.8 L 228.6 1501.2 L 229.3 1501.7 L 230.0 1502.2 L 230.7 1502.7 L 231.4 1503.3 L 232.1 1504.0 L 232.8 1504.7 L 233.5 1505.4 L 234.2 1506.3 L 234.9 1507.6 L 235.6 1508.6 L 236.3 1509.5 L 237.0 1510.2 L 237.7 1510.9 L 238.4 1511.5 L 239.2 1512.1 L 239.9 1512.6 L 240.6 1513.1 L 241.3 1513.6 L 242.0 1514.0 L 242.7 1514.3 L 243.4 1514.6 L 244.1 1514.8 L 244.8 1515.0 L 245.5 1515.2 L 246.2 1515.3 L 246.9 1515.3 L 247.6 1515.3 L 248.3 1515.2 L 249.0 1515.1 L 249.7 1514.9 L 250.4 1514.7 L 251.1 1514.4 L 251.8 1514.1 L 252.5 1513.8 L 253.2 1513.3 L 253.9 1512.9 L 254.6 1512.4 L 255.3 1511.8 L 256.0 1511.2 L 256.7 1510.6 L 257.4 1509.8 L 258.1 1509.1 L 258.8 1508.2 L 259.5 1506.8 L 260.2 1505.8 L 260.9 1505.0 L 261.6 1504.3 L 262.3 1503.6 L 263.0 1503.0 L 263.7 1502.4 L 264.4 1501.9 L 265.1 1501.4 L 265.8 1501.0 L 266.5 1500.6 L 267.2 1500.3 L 268.0 1500.0 L 268.7 1499.7 L 269.4 1499.6 L 270.1 1499.4 L 270.8 1499.3 L 271.5 1499.3 L 272.2 1499.3 L 272.9 1499.4 L 273.6 1499.5 L 274.3 1499.7 L 275.0 1499.9 L 275.7 1500.2 L 276.4 1500.5 L 277.1 1500.9 L 277.8 1501.3 L 278.5 1501.8 L 279.2 1502.3 L 279.9 1502.9 L 280.6 1503.5 L 281.3 1504.1 L 282.0 1504.8 L 282.7 1505.6 L 283.4 1506.6 L 284.1 1507.9 L 284.8 1508.9 L 285.5 1509.7 L 286.2 1510.4 L 286.9 1511.1 L 287.6 1511.7 L 288.3 1512.2 L 289.0 1512.8 L 289.7 1513.2 L 290.4 1513.7 L 291.1 1514.0 L 291.8 1514.4 L 292.5 1514.7 L 293.2 1514.9 L 293.9 1515.1 L 294.6 1515.2 L 295.4 1515.3 L 296.1 1515.3 L 296.8 1515.3 L 297.5 1515.2 L 298.2 1515.1 L 298.9 1514.9 L 299.6 1514.7 L 300.3 1514.4 L 301.0 1514.0 L 301.7 1513.7 L 302.4 1513.2 L 303.1 1512.8 L 303.8 1512.2 L 304.5 1511.7 L 305.2 1511.1 L 305.9 1510.4 L 306.6 1509.7 L 307.3 1508.9 L 308.0 1507.9 L 308.7 1506.6 L 309.4 1505.6 L 310.1 1504.8 L 310.8 1504.1 L 311.5 1503.5 L 312.2 1502.8 L 312.9 1502.3 L 313.6 1501.8 L 314.3 1501.3 L 315.0 1500.9 L 315.7 1500.5 L 316.4 1500.2 L 317.1 1499.9 L 317.8 1499.7 L 318.5 1499.5 L 319.2 1499.4 L 319.9 1499.3 L 320.6 1499.3 L 321.3 1499.3 L 322.0 1499.4 L 322.7 1499.6 L 323.5 1499.7 L 324.2 1500.0 L 324.9 1500.3 L 325.6 1500.6 L 326.3 1501.0 L 327.0 1501.4 L 327.7 1501.9 L 328.4 1502.4 L 329.1 1503.0 L 329.8 1503.6 L 330.5 1504.3 L 331.2 1505.0 L 331.9 1505.9 L 332.6 1506.8 L 333.3 1508.2 L 334.0 1509.1 L 334.7 1509.9 L 335.4 1510.6 L 336.1 1511.2 L 336.8 1511.8 L 337.5 1512.4 L 338.2 1512.9 L 338.9 1513.4 L 339.6 1513.8 L 340.3 1514.1 L 341.0 1514.4 L 341.7 1514.7 L 342.4 1514.9 L 343.1 1515.1 L 343.8 1515.2 L 344.5 1515.3 L 345.2 1515.3 L 345.9 1515.3 L 346.6 1515.2 L 347.3 1515.0 L 348.0 1514.8 L 348.7 1514.6 L 349.4 1514.3 L 350.1 1514.0 L 350.8 1513.6 L 351.6 1513.1 L 352.3 1512.6 L 353.0 1512.1 L 353.7 1511.5 L 354.4 1510.9 L 355.1 1510.2 L 355.8 1509.5 L 356.5 1508.6 L 357.2 1507.6 L 357.9 1506.3 L 358.6 1505.4 L 359.3 1504.7 L 360.0 1503.9 L 360.7 1503.3 L 361.4 1502.7 L 362.1 1502.2 L 362.8 1501.7 L 363.5 1501.2 L 364.2 1500.8 L 364.9 1500.4 L 365.6 1500.1" fill="none" stroke="#b8b8b8" stroke-width="1.3"/>
<path d="M 197.0 1499.4 L 197.7 1499.3 L 198.4 1499.3 L 199.1 1499.4 L 199.8 1499.5 L 200.5 1499.6 L 201.2 1499.8 L 201.9 1500.1 L 202.6 1500.4 L 203.3 1500.7 L 204.0 1501.1 L 204.7 1501.6 L 205.4 1502.1 L 206.1 1502.6 L 206.8 1503.2 L 207.5 1503.9 L 208.2 1504.6 L 208.9 1505.3 L 209.6 1506.2 L 210.3 1507.4 L 211.1 1508.5 L 211.8 1509.4 L 212.5 1510.1 L 213.2 1510.8 L 213.9 1511.5 L 214.6 1512.0 L 215.3 1512.6 L 216.0 1513.1 L 216.7 1513.5 L 217.4 1513.9 L 218.1 1514.3 L 218.8 1514.6 L 219.5 1514.8 L 220.2 1515.0 L 220.9 1515.2 L 221.6 1515.3 L 222.3 1515.3 L 223.0 1515.3 L 223.7 1515.2 L 224.4 1515.1 L 225.1 1515.0 L 225.8 1514.7 L 226.5 1514.5 L 227.2 1514.2 L 227.9 1513.8 L 228.6 1513.4 L 229.3 1512.9 L 230.0 1512.4 L 230.7 1511.9 L 231.4 1511.3 L 232.1 1510.6 L 232.8 1509.9 L 233.5 1509.2 L 234.2 1508.3 L 234.9 1507.0 L 235.6 1506.0 L 236.3 1505.1 L 237.0 1504.4 L 237.7 1503.7 L 238.4 1503.1 L 239.2 1502.5 L 239.9 1502.0 L 240.6 1501.5 L 241.3 1501.0 L 242.0 1500.6 L 242.7 1500.3 L 243.4 1500.0 L 244.1 1499.8 L 244.8 1499.6 L 245.5 1499.4 L 246.2 1499.3 L 246.9 1499.3 L 247.6 1499.3 L 248.3 1499.4 L 249.0 1499.5 L 249.7 1499.7 L 250.4 1499.9 L 251.1 1500.2 L 251.8 1500.5 L 252.5 1500.8 L 253.2 1501.3 L 253.9 1501.7 L 254.6 1502.2 L 255.3 1502.8 L 256.0 1503.4 L 256.7 1504.0 L 257.4 1504.8 L 258.1 1505.5 L 258.8 1506.4 L 259.5 1507.8 L 260.2 1508.8 L 260.9 1509.6 L 261.6 1510.3 L 262.3 1511.0 L 263.0 1511.6 L 263.7 1512.2 L 264.4 1512.7 L 265.1 1513.2 L 265.8 1513.6 L 266.5 1514.0 L 267.2 1514.3 L 268.0 1514.6 L 268.7 1514.9 L 269.4 1515.0 L 270.1 1515.2 L 270.8 1515.3 L 271.5 1515.3 L 272.2 1515.3 L 272.9 1515.2 L 273.6 1515.1 L 274.3 1514.9 L 275.0 1514.7 L 275.7 1514.4 L 276.4 1514.1 L 277.1 1513.7 L 277.8 1513.3 L 278.5 1512.8 L 279.2 1512.3 L 279.9 1511.7 L 280.6 1511.1 L 281.3 1510.5 L 282.0 1509.8 L 282.7 1509.0 L 283.4 1508.0 L 284.1 1506.7 L 284.8 1505.7 L 285.5 1504.9 L 286.2 1504.2 L 286.9 1503.5 L 287.6 1502.9 L 288.3 1502.4 L 289.0 1501.8 L 289.7 1501.4 L 290.4 1500.9 L 291.1 1500.6 L 291.8 1500.2 L 292.5 1499.9 L 293.2 1499.7 L 293.9 1499.5 L 294.6 1499.4 L 295.4 1499.3 L 296.1 1499.3 L 296.8 1499.3 L 297.5 1499.4 L 298.2 1499.5 L 298.9 1499.7 L 299.6 1499.9 L 300.3 1500.2 L 301.0 1500.6 L 301.7 1500.9 L 302.4 1501.4 L 303.1 1501.8 L 303.8 1502.4 L 304.5 1502.9 L 305.2 1503.5 L 305.9 1504.2 L 306.6 1504.9 L 307.3 1505.7 L 308.0 1506.7 L 308.7 1508.0 L 309.4 1509.0 L 310.1 1509.8 L 310.8 1510.5 L 311.5 1511.1 L 312.2 1511.8 L 312.9 1512.3 L 313.6 1512.8 L 314.3 1513.3 L 315.0 1513.7 L 315.7 1514.1 L 316.4 1514.4 L 317.1 1514.7 L 317.8 1514.9 L 318.5 1515.1 L 319.2 1515.2 L 319.9 1515.3 L 320.6 1515.3 L 321.3 1515.3 L 322.0 1515.2 L 322.7 1515.0 L 323.5 1514.9 L 324.2 1514.6 L 324.9 1514.3 L 325.6 1514.0 L 326.3 1513.6 L 327.0 1513.2 L 327.7 1512.7 L 328.4 1512.2 L 329.1 1511.6 L 329.8 1511.0 L 330.5 1510.3 L 331.2 1509.6 L 331.9 1508.7 L 332.6 1507.8 L 333.3 1506.4 L 334.0 1505.5 L 334.7 1504.7 L 335.4 1504.0 L 336.1 1503.4 L 336.8 1502.8 L 337.5 1502.2 L 338.2 1501.7 L 338.9 1501.2 L 339.6 1500.8 L 340.3 1500.5 L 341.0 1500.2 L 341.7 1499.9 L 342.4 1499.7 L 343.1 1499.5 L 343.8 1499.4 L 344.5 1499.3 L 345.2 1499.3 L 345.9 1499.3 L 346.6 1499.4 L 347.3 1499.6 L 348.0 1499.8 L 348.7 1500.0 L 349.4 1500.3 L 350.1 1500.6 L 350.8 1501.0 L 351.6 1501.5 L 352.3 1502.0 L 353.0 1502.5 L 353.7 1503.1 L 354.4 1503.7 L 355.1 1504.4 L 355.8 1505.1 L 356.5 1506.0 L 357.2 1507.0 L 357.9 1508.3 L 358.6 1509.2 L 359.3 1509.9 L 360.0 1510.7 L 360.7 1511.3 L 361.4 1511.9 L 362.1 1512.4 L 362.8 1512.9 L 363.5 1513.4 L 364.2 1513.8 L 364.9 1514.2 L 365.6 1514.5" fill="none" stroke="#4a4a4a" stroke-width="2.6"/>
<path d="M 197.0 1499.4 L 197.7 1499.3 L 198.4 1499.3 L 199.1 1499.4 L 199.8 1499.5 L 200.5 1499.6 L 201.2 1499.8 L 201.9 1500.1 L 202.6 1500.4 L 203.3 1500.7 L 204.0 1501.1 L 204.7 1501.6 L 205.4 1502.1 L 206.1 1502.6 L 206.8 1503.2 L 207.5 1503.9 L 208.2 1504.6 L 208.9 1505.3 L 209.6 1506.2 L 210.3 1507.4 L 211.1 1508.5 L 211.8 1509.4 L 212.5 1510.1 L 213.2 1510.8 L 213.9 1511.5 L 214.6 1512.0 L 215.3 1512.6 L 216.0 1513.1 L 216.7 1513.5 L 217.4 1513.9 L 218.1 1514.3 L 218.8 1514.6 L 219.5 1514.8 L 220.2 1515.0 L 220.9 1515.2 L 221.6 1515.3 L 222.3 1515.3 L 223.0 1515.3 L 223.7 1515.2 L 224.4 1515.1 L 225.1 1515.0 L 225.8 1514.7 L 226.5 1514.5 L 227.2 1514.2 L 227.9 1513.8 L 228.6 1513.4 L 229.3 1512.9 L 230.0 1512.4 L 230.7 1511.9 L 231.4 1511.3 L 232.1 1510.6 L 232.8 1509.9 L 233.5 1509.2 L 234.2 1508.3 L 234.9 1507.0 L 235.6 1506.0 L 236.3 1505.1 L 237.0 1504.4 L 237.7 1503.7 L 238.4 1503.1 L 239.2 1502.5 L 239.9 1502.0 L 240.6 1501.5 L 241.3 1501.0 L 242.0 1500.6 L 242.7 1500.3 L 243.4 1500.0 L 244.1 1499.8 L 244.8 1499.6 L 245.5 1499.4 L 246.2 1499.3 L 246.9 1499.3 L 247.6 1499.3 L 248.3 1499.4 L 249.0 1499.5 L 249.7 1499.7 L 250.4 1499.9 L 251.1 1500.2 L 251.8 1500.5 L 252.5 1500.8 L 253.2 1501.3 L 253.9 1501.7 L 254.6 1502.2 L 255.3 1502.8 L 256.0 1503.4 L 256.7 1504.0 L 257.4 1504.8 L 258.1 1505.5 L 258.8 1506.4 L 259.5 1507.8 L 260.2 1508.8 L 260.9 1509.6 L 261.6 1510.3 L 262.3 1511.0 L 263.0 1511.6 L 263.7 1512.2 L 264.4 1512.7 L 265.1 1513.2 L 265.8 1513.6 L 266.5 1514.0 L 267.2 1514.3 L 268.0 1514.6 L 268.7 1514.9 L 269.4 1515.0 L 270.1 1515.2 L 270.8 1515.3 L 271.5 1515.3 L 272.2 1515.3 L 272.9 1515.2 L 273.6 1515.1 L 274.3 1514.9 L 275.0 1514.7 L 275.7 1514.4 L 276.4 1514.1 L 277.1 1513.7 L 277.8 1513.3 L 278.5 1512.8 L 279.2 1512.3 L 279.9 1511.7 L 280.6 1511.1 L 281.3 1510.5 L 282.0 1509.8 L 282.7 1509.0 L 283.4 1508.0 L 284.1 1506.7 L 284.8 1505.7 L 285.5 1504.9 L 286.2 1504.2 L 286.9 1503.5 L 287.6 1502.9 L 288.3 1502.4 L 289.0 1501.8 L 289.7 1501.4 L 290.4 1500.9 L 291.1 1500.6 L 291.8 1500.2 L 292.5 1499.9 L 293.2 1499.7 L 293.9 1499.5 L 294.6 1499.4 L 295.4 1499.3 L 296.1 1499.3 L 296.8 1499.3 L 297.5 1499.4 L 298.2 1499.5 L 298.9 1499.7 L 299.6 1499.9 L 300.3 1500.2 L 301.0 1500.6 L 301.7 1500.9 L 302.4 1501.4 L 303.1 1501.8 L 303.8 1502.4 L 304.5 1502.9 L 305.2 1503.5 L 305.9 1504.2 L 306.6 1504.9 L 307.3 1505.7 L 308.0 1506.7 L 308.7 1508.0 L 309.4 1509.0 L 310.1 1509.8 L 310.8 1510.5 L 311.5 1511.1 L 312.2 1511.8 L 312.9 1512.3 L 313.6 1512.8 L 314.3 1513.3 L 315.0 1513.7 L 315.7 1514.1 L 316.4 1514.4 L 317.1 1514.7 L 317.8 1514.9 L 318.5 1515.1 L 319.2 1515.2 L 319.9 1515.3 L 320.6 1515.3 L 321.3 1515.3 L 322.0 1515.2 L 322.7 1515.0 L 323.5 1514.9 L 324.2 1514.6 L 324.9 1514.3 L 325.6 1514.0 L 326.3 1513.6 L 327.0 1513.2 L 327.7 1512.7 L 328.4 1512.2 L 329.1 1511.6 L 329.8 1511.0 L 330.5 1510.3 L 331.2 1509.6 L 331.9 1508.7 L 332.6 1507.8 L 333.3 1506.4 L 334.0 1505.5 L 334.7 1504.7 L 335.4 1504.0 L 336.1 1503.4 L 336.8 1502.8 L 337.5 1502.2 L 338.2 1501.7 L 338.9 1501.2 L 339.6 1500.8 L 340.3 1500.5 L 341.0 1500.2 L 341.7 1499.9 L 342.4 1499.7 L 343.1 1499.5 L 343.8 1499.4 L 344.5 1499.3 L 345.2 1499.3 L 345.9 1499.3 L 346.6 1499.4 L 347.3 1499.6 L 348.0 1499.8 L 348.7 1500.0 L 349.4 1500.3 L 350.1 1500.6 L 350.8 1501.0 L 351.6 1501.5 L 352.3 1502.0 L 353.0 1502.5 L 353.7 1503.1 L 354.4 1503.7 L 355.1 1504.4 L 355.8 1505.1 L 356.5 1506.0 L 357.2 1507.0 L 357.9 1508.3 L 358.6 1509.2 L 359.3 1509.9 L 360.0 1510.7 L 360.7 1511.3 L 361.4 1511.9 L 362.1 1512.4 L 362.8 1512.9 L 363.5 1513.4 L 364.2 1513.8 L 364.9 1514.2 L 365.6 1514.5" fill="none" stroke="#b8b8b8" stroke-width="1.3"/>
<line x1="197.0" y1="1499.4" x2="197.0" y2="1515.2" stroke="#2a2a2a" stroke-width="1.6"/>
<line x1="365.6" y1="1500.1" x2="365.6" y2="1514.5" stroke="#2a2a2a" stroke-width="1.6"/>
<text x="335.2" y="1494.6" font-family='"Liberation Serif", serif' font-size="12.5" font-weight="bold" font-style="normal" text-anchor="start" fill="#000" textLength="58.8" lengthAdjust="spacingAndGlyphs">+ 7p21.1</text>
</svg>
</body></html>
